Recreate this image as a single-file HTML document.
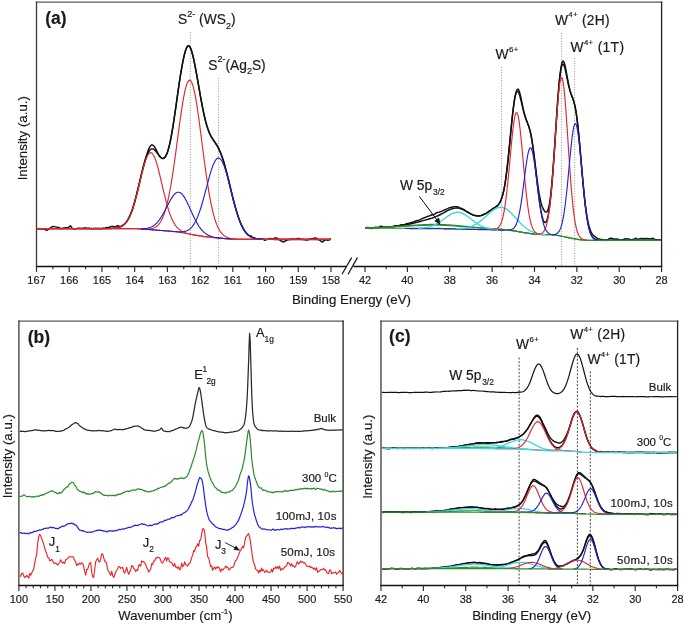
<!DOCTYPE html>
<html><head><meta charset="utf-8"><style>
html,body{margin:0;padding:0;background:#fff;}
svg{display:block;will-change:transform;}
text{font-family:"Liberation Sans",sans-serif;fill:#1a1a1a;stroke:#1a1a1a;stroke-width:0.18px;}
</style></head><body>
<svg width="685" height="624" viewBox="0 0 685 624">
<rect width="685" height="624" fill="#fff"/>
<line x1="190.3" y1="32" x2="190.3" y2="265.5" stroke="#777" stroke-width="0.8" stroke-dasharray="1 1.6"/>
<line x1="218.6" y1="78" x2="218.6" y2="265.5" stroke="#777" stroke-width="0.8" stroke-dasharray="1 1.6"/>
<path d="M36.5 228.68 L37.5 228.85 L38.5 228.56 L39.51 228.69 L40.51 228.86 L41.51 228.95 L42.51 229.03 L43.51 228.93 L44.51 229.42 L45.52 229.89 L46.52 230.24 L47.52 229.79 L48.52 229.25 L49.52 228.43 L50.52 227.84 L51.53 227.21 L52.53 226.62 L53.53 226.54 L54.53 226.63 L55.53 226.89 L56.53 227.12 L57.54 227.19 L58.54 227.56 L59.54 227.88 L60.54 228.49 L61.54 228.49 L62.54 228.44 L63.55 227.95 L64.55 228.03 L65.55 227.7 L66.55 227.81 L67.55 228.03 L68.55 227.45 L69.56 226.51 L70.56 225.87 L71.56 227.47 L72.56 228.42 L73.56 228.71 L74.56 228.99 L75.57 228.86 L76.57 228.64 L77.57 228.33 L78.57 228.18 L79.57 228.29 L80.57 228.25 L81.58 228.65 L82.58 228.3 L83.58 228.24 L84.58 227.85 L85.58 227.81 L86.59 228.38 L87.59 228.1 L88.59 228.45 L89.59 227.99 L90.59 228.76 L91.59 228.44 L92.6 228.74 L93.6 228.28 L94.6 228.63 L95.6 228.29 L96.6 228.55 L97.6 228.34 L98.61 228.43 L99.61 228.34 L100.61 228.85 L101.61 228.33 L102.61 228.45 L103.61 228.14 L104.62 228.34 L105.62 227.91 L106.62 227.42 L107.62 227.6 L108.62 227.37 L109.62 227.22 L110.63 226.72 L111.63 226.54 L112.63 226.5 L113.63 226.38 L114.63 226.86 L115.63 226.58 L116.64 226.11 L117.64 225.71 L118.64 225.99 L119.64 226.6 L120.64 226.33 L121.64 225.95 L122.65 225.42 L123.65 224.79 L124.65 223.91 L125.65 222.82 L126.65 221.6 L127.65 220.14 L128.66 218.37 L129.66 216.37 L130.66 214.08 L131.66 211.5 L132.66 208.42 L133.66 205.19 L134.67 201.69 L135.67 197.93 L136.67 193.88 L137.67 189.75 L138.67 185.61 L139.68 181.37 L140.68 177.07 L141.68 172.89 L142.68 168.89 L143.68 165.15 L144.68 161.5 L145.69 158.03 L146.69 154.74 L147.69 151.72 L148.69 149.07 L149.69 147.01 L150.69 145.61 L151.7 144.96 L152.7 145 L153.7 145.74 L154.7 147.11 L155.7 148.87 L156.7 150.81 L157.71 152.75 L158.71 154.54 L159.71 156.02 L160.71 157.27 L161.71 158.11 L162.71 158.48 L163.72 158.19 L164.72 157.44 L165.72 156.16 L166.72 154.19 L167.72 151.42 L168.72 147.89 L169.73 143.83 L170.73 139.04 L171.73 133.73 L172.73 127.78 L173.73 121.51 L174.73 114.75 L175.74 107.8 L176.74 100.6 L177.74 93.47 L178.74 86.49 L179.74 79.85 L180.74 73.5 L181.75 67.54 L182.75 62.12 L183.75 57.35 L184.75 53.24 L185.75 49.85 L186.76 47.33 L187.76 45.96 L188.76 45.73 L189.76 46.61 L190.76 48.6 L191.76 51.52 L192.77 55.27 L193.77 59.67 L194.77 64.56 L195.77 69.77 L196.77 75.21 L197.77 80.87 L198.78 86.65 L199.78 92.41 L200.78 98.07 L201.78 103.47 L202.78 108.66 L203.78 113.49 L204.79 118.03 L205.79 121.95 L206.79 125.5 L207.79 128.57 L208.79 131.4 L209.79 133.78 L210.8 135.89 L211.8 137.63 L212.8 139.19 L213.8 140.72 L214.8 142.17 L215.8 143.7 L216.81 145.25 L217.81 147 L218.81 148.99 L219.81 151.11 L220.81 153.62 L221.81 156.07 L222.82 158.9 L223.82 162.04 L224.82 165.62 L225.82 169.38 L226.82 173.18 L227.82 177.06 L228.83 181.14 L229.83 185.24 L230.83 189.48 L231.83 193.68 L232.83 197.77 L233.84 201.72 L234.84 205.42 L235.84 208.98 L236.84 212.36 L237.84 215.54 L238.84 218.55 L239.85 221.19 L240.85 223.74 L241.85 225.84 L242.85 227.9 L243.85 229.53 L244.85 231.19 L245.86 232.5 L246.86 233.72 L247.86 234.68 L248.86 235.49 L249.86 236.15 L250.86 235.86 L251.87 236.84 L252.87 237.34 L253.87 238.05 L254.87 238.01 L255.87 238.92 L256.87 238.82 L257.88 239.03 L258.88 238.54 L259.88 239.21 L260.88 238.76 L261.88 238.81 L262.88 238.93 L263.89 239.82 L264.89 240.35 L265.89 239.93 L266.89 239.57 L267.89 239.14 L268.89 239 L269.9 238.59 L270.9 238.7 L271.9 238.87 L272.9 238.81 L273.9 238.48 L274.9 237.86 L275.91 238.04 L276.91 238.07 L277.91 238.84 L278.91 239.42 L279.91 240.08 L280.91 240.82 L281.92 241.32 L282.92 242.02 L283.92 241.7 L284.92 241.4 L285.92 240.51 L286.93 240.08 L287.93 239.8 L288.93 239.33 L289.93 239.67 L290.93 239.21 L291.93 239.23 L292.94 238.87 L293.94 239.08 L294.94 239.2 L295.94 239.15 L296.94 238.81 L297.94 238.4 L298.95 238.5 L299.95 238.86 L300.95 239.08 L301.95 239.34 L302.95 239.45 L303.95 239.63 L304.96 239.8 L305.96 239.76 L306.96 239.95 L307.96 239.79 L308.96 239.38 L309.96 239.27 L310.97 238.57 L311.97 238.91 L312.97 238.43 L313.97 238.56 L314.97 237.88 L315.97 238.08 L316.98 238.55 L317.98 239.43 L318.98 239.57 L319.98 240.31 L320.98 241.21 L321.98 241.96 L322.99 241.75 L323.99 240.5 L324.99 239.94 L325.99 239.53 L326.99 240.02 L327.99 240.35 L329 239.78 L330 239 L331 238.77" fill="none" stroke="#111" stroke-width="1.45" stroke-linejoin="round" />
<path d="M36.5 228.6 L37.5 228.6 L38.5 228.6 L39.51 228.6 L40.51 228.6 L41.51 228.6 L42.51 228.6 L43.51 228.6 L44.51 228.6 L45.52 228.6 L46.52 228.6 L47.52 228.6 L48.52 228.6 L49.52 228.6 L50.52 228.6 L51.53 228.6 L52.53 228.6 L53.53 228.6 L54.53 228.6 L55.53 228.6 L56.53 228.6 L57.54 228.6 L58.54 228.6 L59.54 228.6 L60.54 228.6 L61.54 228.6 L62.54 228.6 L63.55 228.6 L64.55 228.6 L65.55 228.6 L66.55 228.6 L67.55 228.6 L68.55 228.6 L69.56 228.6 L70.56 228.6 L71.56 228.6 L72.56 228.6 L73.56 228.6 L74.56 228.6 L75.57 228.6 L76.57 228.6 L77.57 228.6 L78.57 228.6 L79.57 228.6 L80.57 228.6 L81.58 228.6 L82.58 228.6 L83.58 228.6 L84.58 228.6 L85.58 228.6 L86.59 228.6 L87.59 228.6 L88.59 228.6 L89.59 228.6 L90.59 228.6 L91.59 228.6 L92.6 228.6 L93.6 228.6 L94.6 228.6 L95.6 228.6 L96.6 228.6 L97.6 228.6 L98.61 228.6 L99.61 228.6 L100.61 228.6 L101.61 228.6 L102.61 228.59 L103.61 228.59 L104.62 228.59 L105.62 228.58 L106.62 228.57 L107.62 228.56 L108.62 228.55 L109.62 228.53 L110.63 228.5 L111.63 228.46 L112.63 228.4 L113.63 228.33 L114.63 228.24 L115.63 228.12 L116.64 227.96 L117.64 227.76 L118.64 227.5 L119.64 227.17 L120.64 226.76 L121.64 226.25 L122.65 225.63 L123.65 224.87 L124.65 223.96 L125.65 222.87 L126.65 221.58 L127.65 220.07 L128.66 218.33 L129.66 216.33 L130.66 214.07 L131.66 211.52 L132.66 208.7 L133.66 205.59 L134.67 202.22 L135.67 198.6 L136.67 194.77 L137.67 190.75 L138.67 186.59 L139.68 182.36 L140.68 178.11 L141.68 173.91 L142.68 169.84 L143.68 165.96 L144.68 162.34 L145.69 159.06 L146.69 156.17 L147.69 153.72 L148.69 151.75 L149.69 150.28 L150.69 149.32 L151.7 148.86 L152.7 148.86 L153.7 149.29 L154.7 150.09 L155.7 151.17 L156.7 152.44 L157.71 153.82 L158.71 155.19 L159.71 156.46 L160.71 157.5 L161.71 158.23 L162.71 158.55 L163.72 158.36 L164.72 157.61 L165.72 156.22 L166.72 154.17 L167.72 151.42 L168.72 147.98 L169.73 143.85 L170.73 139.08 L171.73 133.7 L172.73 127.79 L173.73 121.43 L174.73 114.72 L175.74 107.76 L176.74 100.68 L177.74 93.58 L178.74 86.6 L179.74 79.86 L180.74 73.47 L181.75 67.53 L182.75 62.12 L183.75 57.31 L184.75 53.18 L185.75 49.83 L186.76 47.38 L187.76 45.96 L188.76 45.69 L189.76 46.59 L190.76 48.6 L191.76 51.57 L192.77 55.31 L193.77 59.67 L194.77 64.5 L195.77 69.71 L196.77 75.2 L197.77 80.88 L198.78 86.66 L199.78 92.42 L200.78 98.08 L201.78 103.53 L202.78 108.7 L203.78 113.52 L204.79 117.95 L205.79 121.95 L206.79 125.52 L207.79 128.66 L208.79 131.4 L209.79 133.77 L210.8 135.83 L211.8 137.63 L212.8 139.25 L213.8 140.75 L214.8 142.2 L215.8 143.68 L216.81 145.25 L217.81 146.96 L218.81 148.87 L219.81 151 L220.81 153.4 L221.81 156.06 L222.82 159 L223.82 162.2 L224.82 165.65 L225.82 169.32 L226.82 173.17 L227.82 177.16 L228.83 181.26 L229.83 185.41 L230.83 189.57 L231.83 193.69 L232.83 197.74 L233.84 201.66 L234.84 205.43 L235.84 209.02 L236.84 212.41 L237.84 215.57 L238.84 218.5 L239.85 221.18 L240.85 223.63 L241.85 225.84 L242.85 227.81 L243.85 229.56 L244.85 231.1 L245.86 232.45 L246.86 233.61 L247.86 234.62 L248.86 235.47 L249.86 236.19 L250.86 236.8 L251.87 237.31 L252.87 237.73 L253.87 238.07 L254.87 238.35 L255.87 238.58 L256.87 238.76 L257.88 238.9 L258.88 239.02 L259.88 239.11 L260.88 239.18 L261.88 239.23 L262.88 239.28 L263.89 239.31 L264.89 239.33 L265.89 239.35 L266.89 239.36 L267.89 239.37 L268.89 239.38 L269.9 239.39 L270.9 239.39 L271.9 239.39 L272.9 239.4 L273.9 239.4 L274.9 239.4 L275.91 239.4 L276.91 239.4 L277.91 239.4 L278.91 239.4 L279.91 239.4 L280.91 239.4 L281.92 239.4 L282.92 239.4 L283.92 239.4 L284.92 239.4 L285.92 239.4 L286.93 239.4 L287.93 239.4 L288.93 239.4 L289.93 239.4 L290.93 239.4 L291.93 239.4 L292.94 239.4 L293.94 239.4 L294.94 239.4 L295.94 239.4 L296.94 239.4 L297.94 239.4 L298.95 239.4 L299.95 239.4 L300.95 239.4 L301.95 239.4 L302.95 239.4 L303.95 239.4 L304.96 239.4 L305.96 239.4 L306.96 239.4 L307.96 239.4 L308.96 239.4 L309.96 239.4 L310.97 239.4 L311.97 239.4 L312.97 239.4 L313.97 239.4 L314.97 239.4 L315.97 239.4 L316.98 239.4 L317.98 239.4 L318.98 239.4 L319.98 239.4 L320.98 239.4 L321.98 239.4 L322.99 239.4 L323.99 239.4 L324.99 239.4 L325.99 239.4 L326.99 239.4 L327.99 239.4 L329 239.4 L330 239.4 L331 239.4" fill="none" stroke="#111" stroke-width="1.45" stroke-linejoin="round" />
<path d="M36.5 228.6 L37.5 228.6 L38.5 228.6 L39.51 228.6 L40.51 228.6 L41.51 228.6 L42.51 228.6 L43.51 228.6 L44.51 228.6 L45.52 228.6 L46.52 228.6 L47.52 228.6 L48.52 228.6 L49.52 228.6 L50.52 228.6 L51.53 228.6 L52.53 228.6 L53.53 228.6 L54.53 228.6 L55.53 228.6 L56.53 228.6 L57.54 228.6 L58.54 228.6 L59.54 228.6 L60.54 228.6 L61.54 228.6 L62.54 228.6 L63.55 228.6 L64.55 228.6 L65.55 228.6 L66.55 228.6 L67.55 228.6 L68.55 228.6 L69.56 228.6 L70.56 228.6 L71.56 228.6 L72.56 228.6 L73.56 228.6 L74.56 228.6 L75.57 228.6 L76.57 228.6 L77.57 228.6 L78.57 228.6 L79.57 228.6 L80.57 228.6 L81.58 228.6 L82.58 228.6 L83.58 228.6 L84.58 228.6 L85.58 228.6 L86.59 228.6 L87.59 228.6 L88.59 228.6 L89.59 228.6 L90.59 228.6 L91.59 228.6 L92.6 228.6 L93.6 228.6 L94.6 228.6 L95.6 228.6 L96.6 228.6 L97.6 228.6 L98.61 228.6 L99.61 228.6 L100.61 228.6 L101.61 228.6 L102.61 228.6 L103.61 228.6 L104.62 228.6 L105.62 228.6 L106.62 228.6 L107.62 228.6 L108.62 228.6 L109.62 228.6 L110.63 228.6 L111.63 228.6 L112.63 228.6 L113.63 228.6 L114.63 228.6 L115.63 228.6 L116.64 228.6 L117.64 228.6 L118.64 228.6 L119.64 228.6 L120.64 228.61 L121.64 228.61 L122.65 228.61 L123.65 228.61 L124.65 228.62 L125.65 228.62 L126.65 228.63 L127.65 228.64 L128.66 228.64 L129.66 228.65 L130.66 228.67 L131.66 228.68 L132.66 228.7 L133.66 228.72 L134.67 228.74 L135.67 228.77 L136.67 228.8 L137.67 228.84 L138.67 228.88 L139.68 228.92 L140.68 228.97 L141.68 229.02 L142.68 229.08 L143.68 229.14 L144.68 229.2 L145.69 229.27 L146.69 229.35 L147.69 229.42 L148.69 229.5 L149.69 229.58 L150.69 229.66 L151.7 229.74 L152.7 229.83 L153.7 229.91 L154.7 229.99 L155.7 230.08 L156.7 230.16 L157.71 230.24 L158.71 230.32 L159.71 230.39 L160.71 230.47 L161.71 230.54 L162.71 230.62 L163.72 230.69 L164.72 230.77 L165.72 230.84 L166.72 230.92 L167.72 231 L168.72 231.08 L169.73 231.17 L170.73 231.26 L171.73 231.35 L172.73 231.45 L173.73 231.56 L174.73 231.67 L175.74 231.79 L176.74 231.92 L177.74 232.06 L178.74 232.2 L179.74 232.35 L180.74 232.51 L181.75 232.67 L182.75 232.84 L183.75 233.02 L184.75 233.2 L185.75 233.38 L186.76 233.57 L187.76 233.76 L188.76 233.95 L189.76 234.14 L190.76 234.33 L191.76 234.52 L192.77 234.71 L193.77 234.89 L194.77 235.07 L195.77 235.25 L196.77 235.42 L197.77 235.59 L198.78 235.74 L199.78 235.9 L200.78 236.05 L201.78 236.19 L202.78 236.33 L203.78 236.46 L204.79 236.58 L205.79 236.71 L206.79 236.82 L207.79 236.94 L208.79 237.05 L209.79 237.16 L210.8 237.27 L211.8 237.37 L212.8 237.47 L213.8 237.57 L214.8 237.67 L215.8 237.77 L216.81 237.87 L217.81 237.96 L218.81 238.06 L219.81 238.15 L220.81 238.24 L221.81 238.33 L222.82 238.41 L223.82 238.49 L224.82 238.57 L225.82 238.65 L226.82 238.72 L227.82 238.79 L228.83 238.85 L229.83 238.91 L230.83 238.96 L231.83 239.02 L232.83 239.06 L233.84 239.11 L234.84 239.14 L235.84 239.18 L236.84 239.21 L237.84 239.24 L238.84 239.26 L239.85 239.28 L240.85 239.3 L241.85 239.32 L242.85 239.33 L243.85 239.34 L244.85 239.35 L245.86 239.36 L246.86 239.37 L247.86 239.38 L248.86 239.38 L249.86 239.38 L250.86 239.39 L251.87 239.39 L252.87 239.39 L253.87 239.39 L254.87 239.4 L255.87 239.4 L256.87 239.4 L257.88 239.4 L258.88 239.4 L259.88 239.4 L260.88 239.4 L261.88 239.4 L262.88 239.4 L263.89 239.4 L264.89 239.4 L265.89 239.4 L266.89 239.4 L267.89 239.4 L268.89 239.4 L269.9 239.4 L270.9 239.4 L271.9 239.4 L272.9 239.4 L273.9 239.4 L274.9 239.4 L275.91 239.4 L276.91 239.4 L277.91 239.4 L278.91 239.4 L279.91 239.4 L280.91 239.4 L281.92 239.4 L282.92 239.4 L283.92 239.4 L284.92 239.4 L285.92 239.4 L286.93 239.4 L287.93 239.4 L288.93 239.4 L289.93 239.4 L290.93 239.4 L291.93 239.4 L292.94 239.4 L293.94 239.4 L294.94 239.4 L295.94 239.4 L296.94 239.4 L297.94 239.4 L298.95 239.4 L299.95 239.4 L300.95 239.4 L301.95 239.4 L302.95 239.4 L303.95 239.4 L304.96 239.4 L305.96 239.4 L306.96 239.4 L307.96 239.4 L308.96 239.4 L309.96 239.4 L310.97 239.4 L311.97 239.4 L312.97 239.4 L313.97 239.4 L314.97 239.4 L315.97 239.4 L316.98 239.4 L317.98 239.4 L318.98 239.4 L319.98 239.4 L320.98 239.4 L321.98 239.4 L322.99 239.4 L323.99 239.4 L324.99 239.4 L325.99 239.4 L326.99 239.4 L327.99 239.4 L329 239.4 L330 239.4 L331 239.4" fill="none" stroke="#e3262e" stroke-width="1.15" stroke-linejoin="round" />
<path d="M36.5 228.6 L37.5 228.6 L38.5 228.6 L39.51 228.6 L40.51 228.6 L41.51 228.6 L42.51 228.6 L43.51 228.6 L44.51 228.6 L45.52 228.6 L46.52 228.6 L47.52 228.6 L48.52 228.6 L49.52 228.6 L50.52 228.6 L51.53 228.6 L52.53 228.6 L53.53 228.6 L54.53 228.6 L55.53 228.6 L56.53 228.6 L57.54 228.6 L58.54 228.6 L59.54 228.6 L60.54 228.6 L61.54 228.6 L62.54 228.6 L63.55 228.6 L64.55 228.6 L65.55 228.6 L66.55 228.6 L67.55 228.6 L68.55 228.6 L69.56 228.6 L70.56 228.6 L71.56 228.6 L72.56 228.6 L73.56 228.6 L74.56 228.6 L75.57 228.6 L76.57 228.6 L77.57 228.6 L78.57 228.6 L79.57 228.6 L80.57 228.6 L81.58 228.6 L82.58 228.6 L83.58 228.6 L84.58 228.6 L85.58 228.6 L86.59 228.6 L87.59 228.6 L88.59 228.6 L89.59 228.6 L90.59 228.6 L91.59 228.6 L92.6 228.6 L93.6 228.6 L94.6 228.6 L95.6 228.6 L96.6 228.6 L97.6 228.6 L98.61 228.6 L99.61 228.6 L100.61 228.6 L101.61 228.6 L102.61 228.59 L103.61 228.59 L104.62 228.59 L105.62 228.58 L106.62 228.57 L107.62 228.56 L108.62 228.55 L109.62 228.53 L110.63 228.5 L111.63 228.46 L112.63 228.4 L113.63 228.33 L114.63 228.24 L115.63 228.12 L116.64 227.96 L117.64 227.76 L118.64 227.5 L119.64 227.17 L120.64 226.76 L121.64 226.25 L122.65 225.63 L123.65 224.87 L124.65 223.96 L125.65 222.87 L126.65 221.58 L127.65 220.08 L128.66 218.34 L129.66 216.34 L130.66 214.08 L131.66 211.54 L132.66 208.72 L133.66 205.63 L134.67 202.27 L135.67 198.67 L136.67 194.85 L137.67 190.86 L138.67 186.75 L139.68 182.57 L140.68 178.39 L141.68 174.28 L142.68 170.32 L143.68 166.59 L144.68 163.16 L145.69 160.11 L146.69 157.51 L147.69 155.42 L148.69 153.89 L149.69 152.97 L150.69 152.66 L151.7 153 L152.7 153.96 L153.7 155.52 L154.7 157.65 L155.7 160.3 L156.7 163.42 L157.71 166.92 L158.71 170.73 L159.71 174.79 L160.71 179 L161.71 183.3 L162.71 187.6 L163.72 191.85 L164.72 195.98 L165.72 199.94 L166.72 203.69 L167.72 207.21 L168.72 210.47 L169.73 213.45 L170.73 216.15 L171.73 218.58 L172.73 220.74 L173.73 222.65 L174.73 224.33 L175.74 225.78 L176.74 227.05 L177.74 228.13 L178.74 229.07 L179.74 229.87 L180.74 230.56 L181.75 231.15 L182.75 231.67 L183.75 232.12 L184.75 232.52 L185.75 232.87 L186.76 233.19 L187.76 233.48 L188.76 233.74 L189.76 233.99 L190.76 234.22 L191.76 234.44 L192.77 234.65 L193.77 234.85 L194.77 235.05 L195.77 235.23 L196.77 235.41 L197.77 235.58 L198.78 235.74 L199.78 235.89 L200.78 236.04 L201.78 236.19 L202.78 236.32 L203.78 236.46 L204.79 236.58 L205.79 236.71 L206.79 236.82 L207.79 236.94 L208.79 237.05 L209.79 237.16 L210.8 237.27 L211.8 237.37 L212.8 237.47 L213.8 237.57 L214.8 237.67 L215.8 237.77 L216.81 237.87 L217.81 237.96 L218.81 238.06 L219.81 238.15 L220.81 238.24 L221.81 238.33 L222.82 238.41 L223.82 238.49 L224.82 238.57 L225.82 238.65 L226.82 238.72 L227.82 238.79 L228.83 238.85 L229.83 238.91 L230.83 238.96 L231.83 239.02 L232.83 239.06 L233.84 239.11 L234.84 239.14 L235.84 239.18 L236.84 239.21 L237.84 239.24 L238.84 239.26 L239.85 239.28 L240.85 239.3 L241.85 239.32 L242.85 239.33 L243.85 239.34 L244.85 239.35 L245.86 239.36 L246.86 239.37 L247.86 239.38 L248.86 239.38 L249.86 239.38 L250.86 239.39 L251.87 239.39 L252.87 239.39 L253.87 239.39 L254.87 239.4 L255.87 239.4 L256.87 239.4 L257.88 239.4 L258.88 239.4 L259.88 239.4 L260.88 239.4 L261.88 239.4 L262.88 239.4 L263.89 239.4 L264.89 239.4 L265.89 239.4 L266.89 239.4 L267.89 239.4 L268.89 239.4 L269.9 239.4 L270.9 239.4 L271.9 239.4 L272.9 239.4 L273.9 239.4 L274.9 239.4 L275.91 239.4 L276.91 239.4 L277.91 239.4 L278.91 239.4 L279.91 239.4 L280.91 239.4 L281.92 239.4 L282.92 239.4 L283.92 239.4 L284.92 239.4 L285.92 239.4 L286.93 239.4 L287.93 239.4 L288.93 239.4 L289.93 239.4 L290.93 239.4 L291.93 239.4 L292.94 239.4 L293.94 239.4 L294.94 239.4 L295.94 239.4 L296.94 239.4 L297.94 239.4 L298.95 239.4 L299.95 239.4 L300.95 239.4 L301.95 239.4 L302.95 239.4 L303.95 239.4 L304.96 239.4 L305.96 239.4 L306.96 239.4 L307.96 239.4 L308.96 239.4 L309.96 239.4 L310.97 239.4 L311.97 239.4 L312.97 239.4 L313.97 239.4 L314.97 239.4 L315.97 239.4 L316.98 239.4 L317.98 239.4 L318.98 239.4 L319.98 239.4 L320.98 239.4 L321.98 239.4 L322.99 239.4 L323.99 239.4 L324.99 239.4 L325.99 239.4 L326.99 239.4 L327.99 239.4 L329 239.4 L330 239.4 L331 239.4" fill="none" stroke="#e3262e" stroke-width="1.15" stroke-linejoin="round" />
<path d="M36.5 228.6 L37.5 228.6 L38.5 228.6 L39.51 228.6 L40.51 228.6 L41.51 228.6 L42.51 228.6 L43.51 228.6 L44.51 228.6 L45.52 228.6 L46.52 228.6 L47.52 228.6 L48.52 228.6 L49.52 228.6 L50.52 228.6 L51.53 228.6 L52.53 228.6 L53.53 228.6 L54.53 228.6 L55.53 228.6 L56.53 228.6 L57.54 228.6 L58.54 228.6 L59.54 228.6 L60.54 228.6 L61.54 228.6 L62.54 228.6 L63.55 228.6 L64.55 228.6 L65.55 228.6 L66.55 228.6 L67.55 228.6 L68.55 228.6 L69.56 228.6 L70.56 228.6 L71.56 228.6 L72.56 228.6 L73.56 228.6 L74.56 228.6 L75.57 228.6 L76.57 228.6 L77.57 228.6 L78.57 228.6 L79.57 228.6 L80.57 228.6 L81.58 228.6 L82.58 228.6 L83.58 228.6 L84.58 228.6 L85.58 228.6 L86.59 228.6 L87.59 228.6 L88.59 228.6 L89.59 228.6 L90.59 228.6 L91.59 228.6 L92.6 228.6 L93.6 228.6 L94.6 228.6 L95.6 228.6 L96.6 228.6 L97.6 228.6 L98.61 228.6 L99.61 228.6 L100.61 228.6 L101.61 228.6 L102.61 228.6 L103.61 228.6 L104.62 228.6 L105.62 228.6 L106.62 228.6 L107.62 228.6 L108.62 228.6 L109.62 228.6 L110.63 228.6 L111.63 228.6 L112.63 228.6 L113.63 228.6 L114.63 228.6 L115.63 228.6 L116.64 228.6 L117.64 228.6 L118.64 228.6 L119.64 228.6 L120.64 228.61 L121.64 228.61 L122.65 228.61 L123.65 228.61 L124.65 228.62 L125.65 228.62 L126.65 228.63 L127.65 228.63 L128.66 228.64 L129.66 228.65 L130.66 228.67 L131.66 228.68 L132.66 228.7 L133.66 228.72 L134.67 228.74 L135.67 228.76 L136.67 228.79 L137.67 228.82 L138.67 228.85 L139.68 228.89 L140.68 228.92 L141.68 228.96 L142.68 228.99 L143.68 229.02 L144.68 229.04 L145.69 229.05 L146.69 229.05 L147.69 229.03 L148.69 228.98 L149.69 228.89 L150.69 228.77 L151.7 228.58 L152.7 228.33 L153.7 227.99 L154.7 227.56 L155.7 227 L156.7 226.3 L157.71 225.43 L158.71 224.37 L159.71 223.08 L160.71 221.55 L161.71 219.72 L162.71 217.59 L163.72 215.1 L164.72 212.24 L165.72 208.97 L166.72 205.28 L167.72 201.15 L168.72 196.55 L169.73 191.5 L170.73 185.99 L171.73 180.05 L172.73 173.69 L173.73 166.97 L174.73 159.94 L175.74 152.66 L176.74 145.2 L177.74 137.67 L178.74 130.16 L179.74 122.79 L180.74 115.65 L181.75 108.87 L182.75 102.58 L183.75 96.87 L184.75 91.86 L185.75 87.64 L186.76 84.3 L187.76 81.91 L188.76 80.51 L189.76 80.14 L190.76 80.81 L191.76 82.51 L192.77 85.2 L193.77 88.84 L194.77 93.35 L195.77 98.66 L196.77 104.66 L197.77 111.26 L198.78 118.32 L199.78 125.74 L200.78 133.41 L201.78 141.2 L202.78 149 L203.78 156.72 L204.79 164.27 L205.79 171.56 L206.79 178.54 L207.79 185.13 L208.79 191.32 L209.79 197.06 L210.8 202.34 L211.8 207.16 L212.8 211.52 L213.8 215.42 L214.8 218.9 L215.8 221.96 L216.81 224.65 L217.81 226.98 L218.81 229 L219.81 230.72 L220.81 232.19 L221.81 233.44 L222.82 234.49 L223.82 235.36 L224.82 236.09 L225.82 236.7 L226.82 237.19 L227.82 237.6 L228.83 237.94 L229.83 238.21 L230.83 238.43 L231.83 238.61 L232.83 238.76 L233.84 238.88 L234.84 238.98 L235.84 239.06 L236.84 239.12 L237.84 239.17 L238.84 239.21 L239.85 239.25 L240.85 239.28 L241.85 239.3 L242.85 239.32 L243.85 239.34 L244.85 239.35 L245.86 239.36 L246.86 239.37 L247.86 239.37 L248.86 239.38 L249.86 239.38 L250.86 239.39 L251.87 239.39 L252.87 239.39 L253.87 239.39 L254.87 239.4 L255.87 239.4 L256.87 239.4 L257.88 239.4 L258.88 239.4 L259.88 239.4 L260.88 239.4 L261.88 239.4 L262.88 239.4 L263.89 239.4 L264.89 239.4 L265.89 239.4 L266.89 239.4 L267.89 239.4 L268.89 239.4 L269.9 239.4 L270.9 239.4 L271.9 239.4 L272.9 239.4 L273.9 239.4 L274.9 239.4 L275.91 239.4 L276.91 239.4 L277.91 239.4 L278.91 239.4 L279.91 239.4 L280.91 239.4 L281.92 239.4 L282.92 239.4 L283.92 239.4 L284.92 239.4 L285.92 239.4 L286.93 239.4 L287.93 239.4 L288.93 239.4 L289.93 239.4 L290.93 239.4 L291.93 239.4 L292.94 239.4 L293.94 239.4 L294.94 239.4 L295.94 239.4 L296.94 239.4 L297.94 239.4 L298.95 239.4 L299.95 239.4 L300.95 239.4 L301.95 239.4 L302.95 239.4 L303.95 239.4 L304.96 239.4 L305.96 239.4 L306.96 239.4 L307.96 239.4 L308.96 239.4 L309.96 239.4 L310.97 239.4 L311.97 239.4 L312.97 239.4 L313.97 239.4 L314.97 239.4 L315.97 239.4 L316.98 239.4 L317.98 239.4 L318.98 239.4 L319.98 239.4 L320.98 239.4 L321.98 239.4 L322.99 239.4 L323.99 239.4 L324.99 239.4 L325.99 239.4 L326.99 239.4 L327.99 239.4 L329 239.4 L330 239.4 L331 239.4" fill="none" stroke="#e3262e" stroke-width="1.15" stroke-linejoin="round" />
<path d="M140.68 228.73 L141.68 228.72 L142.68 228.68 L143.68 228.63 L144.68 228.55 L145.69 228.45 L146.69 228.3 L147.69 228.12 L148.69 227.88 L149.69 227.58 L150.69 227.21 L151.7 226.77 L152.7 226.23 L153.7 225.6 L154.7 224.86 L155.7 224.01 L156.7 223.04 L157.71 221.95 L158.71 220.72 L159.71 219.37 L160.71 217.89 L161.71 216.3 L162.71 214.6 L163.72 212.8 L164.72 210.93 L165.72 209 L166.72 207.04 L167.72 205.08 L168.72 203.15 L169.73 201.27 L170.73 199.49 L171.73 197.83 L172.73 196.34 L173.73 195.03 L174.73 193.94 L175.74 193.1 L176.74 192.52 L177.74 192.22 L178.74 192.2 L179.74 192.48 L180.74 193.04 L181.75 193.88 L182.75 194.99 L183.75 196.34 L184.75 197.91 L185.75 199.67 L186.76 201.59 L187.76 203.64 L188.76 205.78 L189.76 207.99 L190.76 210.22 L191.76 212.45 L192.77 214.64 L193.77 216.78 L194.77 218.84 L195.77 220.8 L196.77 222.66 L197.77 224.39 L198.78 225.99 L199.78 227.46 L200.78 228.8 L201.78 230.01 L202.78 231.09 L203.78 232.06 L204.79 232.91 L205.79 233.66 L206.79 234.32 L207.79 234.89 L208.79 235.39 L209.79 235.82 L210.8 236.19 L211.8 236.52 L212.8 236.8 L213.8 237.05 L214.8 237.27 L215.8 237.46 L216.81 237.63 L217.81 237.78 L218.81 237.92 L219.81 238.05 L220.81 238.16 L221.81 238.27 L222.82 238.37 L223.82 238.46 L224.82 238.55 L225.82 238.63 L226.82 238.71 L227.82 238.78 L228.83 238.84 L229.83 238.91 L230.83 238.96 L231.83 239.01" fill="none" stroke="#2424cc" stroke-width="1.15" stroke-linejoin="round" />
<path d="M140.68 228.97 L141.68 229.02 L142.68 229.08 L143.68 229.14 L144.68 229.2 L145.69 229.27 L146.69 229.35 L147.69 229.42 L148.69 229.5 L149.69 229.58 L150.69 229.66 L151.7 229.74 L152.7 229.83 L153.7 229.91 L154.7 229.99 L155.7 230.08 L156.7 230.16 L157.71 230.24 L158.71 230.32 L159.71 230.39 L160.71 230.47 L161.71 230.54 L162.71 230.62 L163.72 230.69 L164.72 230.76 L165.72 230.84 L166.72 230.91 L167.72 230.98 L168.72 231.06 L169.73 231.14 L170.73 231.22 L171.73 231.29 L172.73 231.38 L173.73 231.45 L174.73 231.53 L175.74 231.61 L176.74 231.67 L177.74 231.73 L178.74 231.77 L179.74 231.8 L180.74 231.8 L181.75 231.76 L182.75 231.69 L183.75 231.56 L184.75 231.37 L185.75 231.1 L186.76 230.74 L187.76 230.28 L188.76 229.7 L189.76 228.99 L190.76 228.12 L191.76 227.08 L192.77 225.85 L193.77 224.42 L194.77 222.77 L195.77 220.9 L196.77 218.79 L197.77 216.44 L198.78 213.85 L199.78 211.02 L200.78 207.97 L201.78 204.71 L202.78 201.26 L203.78 197.66 L204.79 193.94 L205.79 190.14 L206.79 186.32 L207.79 182.51 L208.79 178.79 L209.79 175.21 L210.8 171.82 L211.8 168.69 L212.8 165.87 L213.8 163.42 L214.8 161.39 L215.8 159.81 L216.81 158.71 L217.81 158.13 L218.81 158.07 L219.81 158.54 L220.81 159.52 L221.81 161.01 L222.82 162.97 L223.82 165.36 L224.82 168.15 L225.82 171.28 L226.82 174.71 L227.82 178.36 L228.83 182.18 L229.83 186.12 L230.83 190.11 L231.83 194.1 L232.83 198.04 L233.84 201.89 L234.84 205.6 L235.84 209.14 L236.84 212.5 L237.84 215.63 L238.84 218.54 L239.85 221.22 L240.85 223.65 L241.85 225.85 L242.85 227.82 L243.85 229.57 L244.85 231.11 L245.86 232.45 L246.86 233.62 L247.86 234.62 L248.86 235.47 L249.86 236.19 L250.86 236.8 L251.87 237.31 L252.87 237.73 L253.87 238.07 L254.87 238.35 L255.87 238.58 L256.87 238.76 L257.88 238.9 L258.88 239.02 L259.88 239.11 L260.88 239.18 L261.88 239.23" fill="none" stroke="#2424cc" stroke-width="1.15" stroke-linejoin="round" />
<line x1="501.6" y1="67" x2="501.6" y2="265.5" stroke="#777" stroke-width="0.8" stroke-dasharray="1 1.6"/>
<line x1="561.6" y1="33" x2="561.6" y2="265.5" stroke="#777" stroke-width="0.8" stroke-dasharray="1 1.6"/>
<line x1="574.6" y1="58" x2="574.6" y2="265.5" stroke="#777" stroke-width="0.8" stroke-dasharray="1 1.6"/>
<path d="M365 227.9 L366 227.86 L367 227.42 L368 227.4 L369 227.78 L370 228.14 L371 228.48 L372 228.2 L373 228.15 L374 227.87 L375 227.28 L376 227.38 L377 227.43 L378 228.01 L379 227.23 L380 226.53 L381 226.08 L382 226.38 L383 226.92 L384 227.1 L385 227.32 L386 226.98 L387 227.01 L388 226.9 L389 226.81 L390 227.13 L391 227.09 L392 227.53 L393 226.75 L394 226.26 L395 225.69 L396 225.71 L397 225.96 L398 225.98 L399 225.72 L400 225.09 L401 224.68 L402 224.97 L403 224.8 L404 224.8 L405 224.33 L406 223.88 L407 223.56 L408 223.53 L409 223.09 L410 222.89 L411 222.45 L412 222.22 L413 221.96 L414 221.61 L415 221.2 L416 220.87 L417 220.56 L418 220.4 L419 220.08 L420 219.68 L421 219.23 L422 218.62 L423 218.27 L424 217.84 L425 217.54 L426 217.02 L427 216.62 L428 216.25 L429 216.12 L430 215.66 L431 215.22 L432 214.76 L433 214.69 L434 214.48 L435 213.91 L436 213.17 L437 212.74 L438 212.42 L439 212.11 L440 211.72 L441 211.43 L442 211.08 L443 210.56 L444 210.04 L445 209.71 L446 209.3 L447 208.89 L448 208.4 L449 207.84 L450 207.58 L451 207.34 L452 207.29 L453 206.85 L454 206.61 L455 206.6 L456 206.66 L457 206.82 L458 207.02 L459 207.33 L460 207.83 L461 208.19 L462 208.75 L463 209.16 L464 209.73 L465 210.34 L466 211.03 L467 211.54 L468 212.12 L469 212.73 L470 213.37 L471 213.88 L472 214.38 L473 214.94 L474 215.36 L475 215.46 L476 215.54 L477 215.7 L478 215.84 L479 215.92 L480 215.71 L481 215.63 L482 215.09 L483 214.73 L484 214.23 L485 213.92 L486 213.5 L487 212.87 L488 212.15 L489 211.43 L490 210.79 L491 210.09 L492 209.44 L493 208.78 L494 208.14 L495 207.51 L496 206.79 L497 206.16 L498 205.16 L499 203.86 L500 202.08 L501 199.99 L502 197.39 L503 193.87 L504 189.42 L505 183.93 L506 177 L507 168.99 L508 159.91 L509 150.4 L510 140.22 L511 129.77 L512 119.78 L513 110.62 L514 102.73 L515 96.62 L516 92.18 L517 89.68 L518 88.98 L519 90.41 L520 93.65 L521 97.85 L522 102.82 L523 107.83 L524 112.34 L525 116.02 L526 119.01 L527 121.78 L528 124.47 L529 127.11 L530 130.56 L531 134.89 L532 140.65 L533 147.38 L534 154.67 L535 162.78 L536 170.82 L537 179.14 L538 186.3 L539 192.88 L540 198.27 L541 202.64 L542 205.93 L543 208.4 L544 210.32 L545 211.58 L546 212.18 L547 211.77 L548 209.84 L549 206.25 L550 200.29 L551 192.4 L552 181.95 L553 169.88 L554 156.08 L555 141.26 L556 126.03 L557 110.88 L558 96.82 L559 84.62 L560 74.69 L561 67.32 L562 62.5 L563 60.89 L564 61.96 L565 65.47 L566 70.21 L567 75.85 L568 81.25 L569 86.33 L570 90.47 L571 93.66 L572 96.41 L573 99.04 L574 102.28 L575 106.13 L576 111.67 L577 118.71 L578 127.39 L579 137.22 L580 148.19 L581 159.87 L582 171.31 L583 182.55 L584 192.91 L585 202.37 L586 210.19 L587 216.59 L588 221.84 L589 226 L590 229.26 L591 231.74 L592 233.61 L593 234.89 L594 235.92 L595 236.71 L596 237.41 L597 238.15 L598 238.89 L599 238.9 L600 239.2 L601 239.49 L602 239.92 L603 239.69 L604 239.97 L605 240.02 L606 240.5 L607 240.01 L608 239.83 L609 238.82 L610 238.7 L611 237.88 L612 238.73 L613 238.69 L614 239.25 L615 238.89 L616 239.23 L617 239.07 L618 239.19 L619 239.71 L620 239.9 L621 239.98 L622 239.75 L623 239.68 L624 239.17 L625 238.72 L626 239.09 L627 238.97 L628 238.96 L629 238.94 L630 239.65 L631 239.82 L632 239.76 L633 239.58 L634 239.24 L635 238.56 L636 238.32 L637 238.93 L638 239.22 L639 239.14 L640 238.65 L641 238.37 L642 238.6 L643 238.48 L644 239.03 L645 238.38 L646 238.82 L647 238.53 L648 238.65 L649 238.76 L650 238.87 L651 238.79 L652 238.32 L653 238.49 L654 239 L655 239.48 L656 239.61 L657 239.93 L658 239.8 L659 239.97 L660 239.97 L661 240.01" fill="none" stroke="#111" stroke-width="1.45" stroke-linejoin="round" />
<path d="M365 227.89 L366 227.87 L367 227.84 L368 227.82 L369 227.79 L370 227.76 L371 227.73 L372 227.7 L373 227.67 L374 227.64 L375 227.6 L376 227.56 L377 227.52 L378 227.48 L379 227.44 L380 227.39 L381 227.35 L382 227.3 L383 227.24 L384 227.19 L385 227.13 L386 227.07 L387 227 L388 226.94 L389 226.87 L390 226.79 L391 226.71 L392 226.63 L393 226.54 L394 226.44 L395 226.34 L396 226.24 L397 226.13 L398 226.01 L399 225.88 L400 225.74 L401 225.6 L402 225.45 L403 225.29 L404 225.12 L405 224.95 L406 224.76 L407 224.56 L408 224.36 L409 224.15 L410 223.93 L411 223.7 L412 223.47 L413 223.23 L414 222.98 L415 222.73 L416 222.48 L417 222.22 L418 221.96 L419 221.7 L420 221.44 L421 221.18 L422 220.91 L423 220.65 L424 220.38 L425 220.12 L426 219.85 L427 219.58 L428 219.3 L429 219.01 L430 218.71 L431 218.4 L432 218.08 L433 217.74 L434 217.38 L435 217 L436 216.6 L437 216.17 L438 215.72 L439 215.25 L440 214.75 L441 214.24 L442 213.71 L443 213.16 L444 212.61 L445 212.06 L446 211.51 L447 210.98 L448 210.46 L449 209.98 L450 209.53 L451 209.12 L452 208.78 L453 208.49 L454 208.27 L455 208.12 L456 208.05 L457 208.06 L458 208.15 L459 208.31 L460 208.56 L461 208.87 L462 209.26 L463 209.7 L464 210.19 L465 210.72 L466 211.28 L467 211.85 L468 212.43 L469 213 L470 213.55 L471 214.07 L472 214.54 L473 214.96 L474 215.31 L475 215.59 L476 215.79 L477 215.91 L478 215.95 L479 215.89 L480 215.75 L481 215.52 L482 215.21 L483 214.82 L484 214.37 L485 213.85 L486 213.29 L487 212.68 L488 212.04 L489 211.38 L490 210.71 L491 210.05 L492 209.38 L493 208.73 L494 208.07 L495 207.4 L496 206.68 L497 205.87 L498 204.91 L499 203.7 L500 202.13 L501 200.06 L502 197.35 L503 193.82 L504 189.33 L505 183.76 L506 177.03 L507 169.15 L508 160.21 L509 150.44 L510 140.15 L511 129.77 L512 119.78 L513 110.69 L514 102.99 L515 97.06 L516 93.15 L517 91.35 L518 91.53 L519 93.43 L520 96.63 L521 100.63 L522 104.96 L523 109.19 L524 113.02 L525 116.33 L526 119.15 L527 121.67 L528 124.19 L529 127.07 L530 130.63 L531 135.14 L532 140.74 L533 147.44 L534 155.13 L535 163.54 L536 172.37 L537 181.26 L538 189.85 L539 197.82 L540 204.93 L541 210.98 L542 215.85 L543 219.44 L544 221.72 L545 222.62 L546 222.07 L547 220 L548 216.29 L549 210.84 L550 203.53 L551 194.33 L552 183.28 L553 170.53 L554 156.4 L555 141.36 L556 125.99 L557 111.02 L558 97.18 L559 85.17 L560 75.58 L561 68.8 L562 64.97 L563 63.94 L564 65.34 L565 68.61 L566 73.04 L567 77.97 L568 82.79 L569 87.1 L570 90.7 L571 93.67 L572 96.27 L573 98.91 L574 102.08 L575 106.24 L576 111.74 L577 118.77 L578 127.35 L579 137.28 L580 148.23 L581 159.77 L582 171.43 L583 182.73 L584 193.3 L585 202.83 L586 211.14 L587 218.15 L588 223.87 L589 228.41 L590 231.91 L591 234.52 L592 236.41 L593 237.75 L594 238.67 L595 239.28 L596 239.68 L597 239.93 L598 240.09 L599 240.18 L600 240.23 L601 240.26 L602 240.28 L603 240.29 L604 240.3 L605 240.3 L606 240.3 L607 240.3 L608 240.3 L609 240.3 L610 240.3 L611 240.3 L612 240.3 L613 240.3 L614 240.3 L615 240.3 L616 240.3 L617 240.3 L618 240.3 L619 240.3 L620 240.3 L621 240.3 L622 240.3 L623 240.3 L624 240.3 L625 240.3 L626 240.3 L627 240.3 L628 240.3 L629 240.3 L630 240.3 L631 240.3 L632 240.3 L633 240.3 L634 240.3 L635 240.3 L636 240.3 L637 240.3 L638 240.3 L639 240.3 L640 240.3 L641 240.3 L642 240.3 L643 240.3 L644 240.3 L645 240.3 L646 240.3 L647 240.3 L648 240.3 L649 240.3 L650 240.3 L651 240.3 L652 240.3 L653 240.3 L654 240.3 L655 240.3 L656 240.3 L657 240.3 L658 240.3 L659 240.3 L660 240.3 L661 240.3" fill="none" stroke="#111" stroke-width="1.45" stroke-linejoin="round" />
<path d="M365 228.2 L366 228.2 L367 228.2 L368 228.2 L369 228.2 L370 228.2 L371 228.2 L372 228.2 L373 228.2 L374 228.2 L375 228.21 L376 228.21 L377 228.21 L378 228.21 L379 228.21 L380 228.21 L381 228.21 L382 228.21 L383 228.21 L384 228.21 L385 228.22 L386 228.22 L387 228.22 L388 228.22 L389 228.22 L390 228.22 L391 228.23 L392 228.23 L393 228.23 L394 228.23 L395 228.23 L396 228.23 L397 228.24 L398 228.24 L399 228.24 L400 228.24 L401 228.25 L402 228.25 L403 228.25 L404 228.26 L405 228.26 L406 228.26 L407 228.27 L408 228.27 L409 228.27 L410 228.28 L411 228.28 L412 228.28 L413 228.29 L414 228.29 L415 228.29 L416 228.3 L417 228.3 L418 228.31 L419 228.31 L420 228.32 L421 228.32 L422 228.33 L423 228.33 L424 228.34 L425 228.34 L426 228.35 L427 228.35 L428 228.36 L429 228.37 L430 228.37 L431 228.38 L432 228.39 L433 228.4 L434 228.41 L435 228.42 L436 228.43 L437 228.44 L438 228.45 L439 228.46 L440 228.47 L441 228.49 L442 228.5 L443 228.52 L444 228.53 L445 228.55 L446 228.57 L447 228.59 L448 228.61 L449 228.63 L450 228.65 L451 228.67 L452 228.7 L453 228.72 L454 228.74 L455 228.77 L456 228.8 L457 228.82 L458 228.85 L459 228.87 L460 228.9 L461 228.92 L462 228.95 L463 228.97 L464 229 L465 229.02 L466 229.05 L467 229.07 L468 229.09 L469 229.11 L470 229.13 L471 229.15 L472 229.17 L473 229.19 L474 229.21 L475 229.23 L476 229.25 L477 229.26 L478 229.28 L479 229.3 L480 229.31 L481 229.33 L482 229.35 L483 229.37 L484 229.39 L485 229.41 L486 229.43 L487 229.45 L488 229.47 L489 229.49 L490 229.51 L491 229.54 L492 229.56 L493 229.59 L494 229.62 L495 229.64 L496 229.67 L497 229.7 L498 229.73 L499 229.77 L500 229.8 L501 229.84 L502 229.87 L503 229.92 L504 229.96 L505 230.01 L506 230.07 L507 230.14 L508 230.22 L509 230.31 L510 230.42 L511 230.53 L512 230.66 L513 230.81 L514 230.96 L515 231.13 L516 231.3 L517 231.48 L518 231.66 L519 231.84 L520 232.02 L521 232.19 L522 232.36 L523 232.53 L524 232.69 L525 232.84 L526 232.99 L527 233.14 L528 233.28 L529 233.42 L530 233.56 L531 233.69 L532 233.82 L533 233.94 L534 234.05 L535 234.15 L536 234.24 L537 234.32 L538 234.39 L539 234.45 L540 234.5 L541 234.54 L542 234.57 L543 234.59 L544 234.61 L545 234.63 L546 234.64 L547 234.66 L548 234.68 L549 234.7 L550 234.73 L551 234.77 L552 234.82 L553 234.89 L554 234.97 L555 235.08 L556 235.2 L557 235.34 L558 235.5 L559 235.68 L560 235.87 L561 236.08 L562 236.29 L563 236.52 L564 236.74 L565 236.96 L566 237.18 L567 237.39 L568 237.59 L569 237.79 L570 237.99 L571 238.18 L572 238.37 L573 238.55 L574 238.73 L575 238.91 L576 239.08 L577 239.24 L578 239.4 L579 239.54 L580 239.67 L581 239.79 L582 239.9 L583 239.98 L584 240.06 L585 240.12 L586 240.17 L587 240.2 L588 240.23 L589 240.25 L590 240.27 L591 240.28 L592 240.29 L593 240.29 L594 240.29 L595 240.3 L596 240.3 L597 240.3 L598 240.3 L599 240.3 L600 240.3 L601 240.3 L602 240.3 L603 240.3 L604 240.3 L605 240.3 L606 240.3 L607 240.3 L608 240.3 L609 240.3 L610 240.3 L611 240.3 L612 240.3 L613 240.3 L614 240.3 L615 240.3 L616 240.3 L617 240.3 L618 240.3 L619 240.3 L620 240.3 L621 240.3 L622 240.3 L623 240.3 L624 240.3 L625 240.3 L626 240.3 L627 240.3 L628 240.3 L629 240.3 L630 240.3 L631 240.3 L632 240.3 L633 240.3 L634 240.3 L635 240.3 L636 240.3 L637 240.3 L638 240.3 L639 240.3 L640 240.3 L641 240.3 L642 240.3 L643 240.3 L644 240.3 L645 240.3 L646 240.3 L647 240.3 L648 240.3 L649 240.3 L650 240.3 L651 240.3 L652 240.3 L653 240.3 L654 240.3 L655 240.3 L656 240.3 L657 240.3 L658 240.3 L659 240.3 L660 240.3 L661 240.3" fill="none" stroke="#2e8b2e" stroke-width="1.2" stroke-linejoin="round" />
<path d="M365 227.89 L366 227.87 L367 227.84 L368 227.82 L369 227.79 L370 227.76 L371 227.74 L372 227.71 L373 227.67 L374 227.64 L375 227.6 L376 227.57 L377 227.53 L378 227.49 L379 227.45 L380 227.4 L381 227.36 L382 227.31 L383 227.26 L384 227.21 L385 227.16 L386 227.11 L387 227.05 L388 227 L389 226.94 L390 226.88 L391 226.82 L392 226.75 L393 226.69 L394 226.62 L395 226.56 L396 226.49 L397 226.42 L398 226.35 L399 226.28 L400 226.21 L401 226.14 L402 226.06 L403 225.99 L404 225.92 L405 225.84 L406 225.77 L407 225.7 L408 225.63 L409 225.55 L410 225.48 L411 225.41 L412 225.34 L413 225.28 L414 225.21 L415 225.14 L416 225.08 L417 225.02 L418 224.96 L419 224.9 L420 224.85 L421 224.8 L422 224.75 L423 224.7 L424 224.66 L425 224.62 L426 224.58 L427 224.55 L428 224.52 L429 224.49 L430 224.47 L431 224.45 L432 224.44 L433 224.43 L434 224.42 L435 224.42 L436 224.43 L437 224.44 L438 224.45 L439 224.47 L440 224.49 L441 224.52 L442 224.55 L443 224.59 L444 224.63 L445 224.67 L446 224.72 L447 224.78 L448 224.84 L449 224.9 L450 224.97 L451 225.04 L452 225.12 L453 225.19 L454 225.28 L455 225.36 L456 225.45 L457 225.54 L458 225.63 L459 225.72 L460 225.82 L461 225.91 L462 226.01 L463 226.11 L464 226.21 L465 226.31 L466 226.4 L467 226.5 L468 226.6 L469 226.7 L470 226.79 L471 226.89 L472 226.99 L473 227.08 L474 227.17 L475 227.26 L476 227.36 L477 227.44 L478 227.53 L479 227.62 L480 227.71 L481 227.79 L482 227.88 L483 227.96 L484 228.04 L485 228.12 L486 228.2 L487 228.28 L488 228.36 L489 228.44 L490 228.51 L491 228.59 L492 228.66 L493 228.74 L494 228.81 L495 228.88 L496 228.95 L497 229.02 L498 229.09 L499 229.16 L500 229.23 L501 229.3 L502 229.38 L503 229.45 L504 229.52 L505 229.61 L506 229.69 L507 229.79 L508 229.89 L509 230 L510 230.13 L511 230.26 L512 230.41 L513 230.57 L514 230.74 L515 230.93 L516 231.11 L517 231.31 L518 231.5 L519 231.69 L520 231.88 L521 232.07 L522 232.25 L523 232.42 L524 232.59 L525 232.75 L526 232.91 L527 233.06 L528 233.21 L529 233.36 L530 233.5 L531 233.64 L532 233.77 L533 233.9 L534 234.01 L535 234.12 L536 234.21 L537 234.3 L538 234.37 L539 234.43 L540 234.48 L541 234.52 L542 234.55 L543 234.57 L544 234.6 L545 234.61 L546 234.63 L547 234.65 L548 234.67 L549 234.69 L550 234.72 L551 234.77 L552 234.82 L553 234.89 L554 234.97 L555 235.07 L556 235.19 L557 235.33 L558 235.5 L559 235.67 L560 235.87 L561 236.08 L562 236.29 L563 236.51 L564 236.74 L565 236.96 L566 237.18 L567 237.39 L568 237.59 L569 237.79 L570 237.99 L571 238.18 L572 238.37 L573 238.55 L574 238.73 L575 238.91 L576 239.08 L577 239.24 L578 239.4 L579 239.54 L580 239.67 L581 239.79 L582 239.89 L583 239.98 L584 240.06 L585 240.12 L586 240.17 L587 240.2 L588 240.23 L589 240.25 L590 240.27 L591 240.28 L592 240.29 L593 240.29 L594 240.29 L595 240.3 L596 240.3 L597 240.3 L598 240.3 L599 240.3 L600 240.3 L601 240.3 L602 240.3 L603 240.3 L604 240.3 L605 240.3 L606 240.3 L607 240.3 L608 240.3 L609 240.3 L610 240.3 L611 240.3 L612 240.3 L613 240.3 L614 240.3 L615 240.3 L616 240.3 L617 240.3 L618 240.3 L619 240.3 L620 240.3 L621 240.3 L622 240.3 L623 240.3 L624 240.3 L625 240.3 L626 240.3 L627 240.3 L628 240.3 L629 240.3 L630 240.3 L631 240.3 L632 240.3 L633 240.3 L634 240.3 L635 240.3 L636 240.3 L637 240.3 L638 240.3 L639 240.3 L640 240.3 L641 240.3 L642 240.3 L643 240.3 L644 240.3 L645 240.3 L646 240.3 L647 240.3 L648 240.3 L649 240.3 L650 240.3 L651 240.3 L652 240.3 L653 240.3 L654 240.3 L655 240.3 L656 240.3 L657 240.3 L658 240.3 L659 240.3 L660 240.3 L661 240.3" fill="none" stroke="#2e8b2e" stroke-width="1.2" stroke-linejoin="round" />
<path d="M365 227.95 L366 227.93 L367 227.91 L368 227.9 L369 227.87 L370 227.85 L371 227.83 L372 227.8 L373 227.78 L374 227.75 L375 227.72 L376 227.7 L377 227.66 L378 227.63 L379 227.6 L380 227.56 L381 227.53 L382 227.49 L383 227.45 L384 227.41 L385 227.37 L386 227.33 L387 227.29 L388 227.24 L389 227.19 L390 227.15 L391 227.1 L392 227.05 L393 227 L394 226.94 L395 226.89 L396 226.84 L397 226.78 L398 226.73 L399 226.67 L400 226.61 L401 226.56 L402 226.5 L403 226.44 L404 226.38 L405 226.33 L406 226.27 L407 226.21 L408 226.15 L409 226.1 L410 226.04 L411 225.99 L412 225.93 L413 225.88 L414 225.82 L415 225.77 L416 225.72 L417 225.68 L418 225.63 L419 225.58 L420 225.54 L421 225.5 L422 225.46 L423 225.43 L424 225.39 L425 225.36 L426 225.33 L427 225.31 L428 225.29 L429 225.27 L430 225.25 L431 225.24 L432 225.23 L433 225.22 L434 225.22 L435 225.22 L436 225.23 L437 225.24 L438 225.25 L439 225.27 L440 225.29 L441 225.31 L442 225.34 L443 225.37 L444 225.41 L445 225.45 L446 225.49 L447 225.54 L448 225.59 L449 225.65 L450 225.71 L451 225.77 L452 225.83 L453 225.9 L454 225.97 L455 226.04 L456 226.12 L457 226.19 L458 226.27 L459 226.35 L460 226.43 L461 226.52 L462 226.6 L463 226.68 L464 226.77 L465 226.85 L466 226.93 L467 227.02 L468 227.1 L469 227.18 L470 227.26 L471 227.34 L472 227.42 L473 227.5 L474 227.58 L475 227.66 L476 227.73 L477 227.81 L478 227.88 L479 227.96 L480 228.03 L481 228.1 L482 228.17 L483 228.24 L484 228.31 L485 228.38 L486 228.45 L487 228.51 L488 228.58 L489 228.65 L490 228.71 L491 228.78 L492 228.84 L493 228.91 L494 228.97 L495 229.04 L496 229.1 L497 229.16 L498 229.22 L499 229.28 L500 229.35 L501 229.41 L502 229.48 L503 229.54 L504 229.61 L505 229.69 L506 229.77 L507 229.86 L508 229.96 L509 230.06 L510 230.18 L511 230.32 L512 230.46 L513 230.62 L514 230.79 L515 230.97 L516 231.15 L517 231.34 L518 231.53 L519 231.72 L520 231.91 L521 232.09 L522 232.27 L523 232.44 L524 232.61 L525 232.77 L526 232.93 L527 233.08 L528 233.23 L529 233.37 L530 233.51 L531 233.65 L532 233.78 L533 233.91 L534 234.02 L535 234.13 L536 234.22 L537 234.3 L538 234.37 L539 234.43" fill="none" stroke="#2e8b2e" stroke-width="1.1" stroke-linejoin="round" />
<path d="M405 228.56 L406 228.56 L407 228.57 L408 228.57 L409 228.57 L410 228.58 L411 228.58 L412 228.58 L413 228.59 L414 228.59 L415 228.59 L416 228.6 L417 228.6 L418 228.61 L419 228.61 L420 228.62 L421 228.62 L422 228.63 L423 228.63 L424 228.64 L425 228.64 L426 228.65 L427 228.65 L428 228.66 L429 228.67 L430 228.67 L431 228.68 L432 228.69 L433 228.7 L434 228.71 L435 228.72 L436 228.73 L437 228.74 L438 228.75 L439 228.76 L440 228.77 L441 228.79 L442 228.8 L443 228.82 L444 228.83 L445 228.85 L446 228.87 L447 228.89 L448 228.91 L449 228.93 L450 228.95 L451 228.97 L452 229 L453 229.02 L454 229.04 L455 229.07 L456 229.1 L457 229.12 L458 229.15 L459 229.17 L460 229.2 L461 229.22 L462 229.25 L463 229.27 L464 229.3 L465 229.32 L466 229.35 L467 229.37 L468 229.39 L469 229.41 L470 229.43 L471 229.45 L472 229.47 L473 229.49 L474 229.51 L475 229.53 L476 229.55 L477 229.56 L478 229.58 L479 229.6 L480 229.61 L481 229.63 L482 229.65 L483 229.67 L484 229.69 L485 229.71 L486 229.73 L487 229.75 L488 229.77 L489 229.79 L490 229.81 L491 229.84 L492 229.86 L493 229.89 L494 229.92 L495 229.94 L496 229.97 L497 230 L498 230.03 L499 230.07 L500 230.1 L501 230.14 L502 230.17 L503 230.22 L504 230.26 L505 230.31" fill="none" stroke="#2424cc" stroke-width="1.1" stroke-linejoin="round" />
<path d="M418 228.14 L419 228.1 L420 228.05 L421 227.99 L422 227.92 L423 227.84 L424 227.73 L425 227.61 L426 227.47 L427 227.3 L428 227.1 L429 226.88 L430 226.62 L431 226.32 L432 225.99 L433 225.62 L434 225.21 L435 224.76 L436 224.26 L437 223.73 L438 223.15 L439 222.54 L440 221.89 L441 221.2 L442 220.5 L443 219.77 L444 219.03 L445 218.28 L446 217.53 L447 216.8 L448 216.1 L449 215.42 L450 214.78 L451 214.2 L452 213.68 L453 213.23 L454 212.86 L455 212.57 L456 212.37 L457 212.26 L458 212.25 L459 212.33 L460 212.51 L461 212.78 L462 213.14 L463 213.57 L464 214.09 L465 214.67 L466 215.31 L467 216 L468 216.72 L469 217.48 L470 218.25 L471 219.04 L472 219.82 L473 220.59 L474 221.35 L475 222.09 L476 222.79 L477 223.47 L478 224.11 L479 224.7 L480 225.26 L481 225.77 L482 226.24 L483 226.67 L484 227.06 L485 227.41 L486 227.72 L487 228 L488 228.25 L489 228.47 L490 228.67 L491 228.84 L492 228.98 L493 229.12 L494 229.23 L495 229.33 L496 229.42 L497 229.5 L498 229.57" fill="none" stroke="#3cd8e0" stroke-width="1.4" stroke-linejoin="round" />
<path d="M456 228.62 L457 228.6 L458 228.57 L459 228.54 L460 228.49 L461 228.43 L462 228.35 L463 228.26 L464 228.14 L465 228 L466 227.83 L467 227.64 L468 227.41 L469 227.15 L470 226.85 L471 226.52 L472 226.14 L473 225.71 L474 225.24 L475 224.73 L476 224.16 L477 223.55 L478 222.88 L479 222.17 L480 221.42 L481 220.63 L482 219.8 L483 218.93 L484 218.04 L485 217.14 L486 216.22 L487 215.29 L488 214.37 L489 213.47 L490 212.59 L491 211.75 L492 210.96 L493 210.22 L494 209.54 L495 208.95 L496 208.43 L497 208.01 L498 207.68 L499 207.46 L500 207.34 L501 207.34 L502 207.44 L503 207.65 L504 207.98 L505 208.4 L506 208.94 L507 209.56 L508 210.28 L509 211.09 L510 211.97 L511 212.92 L512 213.92 L513 214.97 L514 216.05 L515 217.16 L516 218.28 L517 219.39 L518 220.5 L519 221.58 L520 222.64 L521 223.65 L522 224.63 L523 225.55 L524 226.43 L525 227.25 L526 228.03 L527 228.75 L528 229.42 L529 230.04 L530 230.61 L531 231.13 L532 231.61 L533 232.04 L534 232.43 L535 232.77 L536 233.07 L537 233.34 L538 233.56 L539 233.76 L540 233.92 L541 234.06 L542 234.18 L543 234.27 L544 234.35 L545 234.41 L546 234.47" fill="none" stroke="#3cd8e0" stroke-width="1.4" stroke-linejoin="round" />
<path d="M493 229.43 L494 229.34 L495 229.17 L496 228.89 L497 228.45 L498 227.76 L499 226.73 L500 225.25 L501 223.17 L502 220.34 L503 216.61 L504 211.81 L505 205.84 L506 198.63 L507 190.2 L508 180.66 L509 170.27 L510 159.38 L511 148.45 L512 138.04 L513 128.74 L514 121.12 L515 115.68 L516 112.8 L517 112.7 L518 115.39 L519 120.69 L520 128.24 L521 137.58 L522 148.12 L523 159.27 L524 170.47 L525 181.25 L526 191.2 L527 200.09 L528 207.75 L529 214.16 L530 219.37 L531 223.49 L532 226.65 L533 229.02 L534 230.75 L535 232 L536 232.87 L537 233.46 L538 233.87 L539 234.14 L540 234.32" fill="none" stroke="#e3262e" stroke-width="1.15" stroke-linejoin="round" />
<path d="M538 234.23 L539 234.16 L540 233.99 L541 233.68 L542 233.17 L543 232.35 L544 231.11 L545 229.3 L546 226.72 L547 223.16 L548 218.4 L549 212.22 L550 204.44 L551 194.95 L552 183.75 L553 170.98 L554 156.94 L555 142.12 L556 127.16 L557 112.83 L558 99.97 L559 89.38 L560 81.81 L561 77.78 L562 77.61 L563 81.31 L564 88.63 L565 99.07 L566 111.92 L567 126.38 L568 141.61 L569 156.82 L570 171.34 L571 184.66 L572 196.43 L573 206.49 L574 214.82 L575 221.51 L576 226.73 L577 230.69 L578 233.62 L579 235.73 L580 237.22 L581 238.25 L582 238.95 L583 239.42 L584 239.73 L585 239.93" fill="none" stroke="#e3262e" stroke-width="1.15" stroke-linejoin="round" />
<path d="M508 230.05 L509 230.02 L510 229.93 L511 229.74 L512 229.39 L513 228.83 L514 227.96 L515 226.67 L516 224.85 L517 222.37 L518 219.12 L519 214.98 L520 209.91 L521 203.91 L522 197.06 L523 189.53 L524 181.59 L525 173.6 L526 165.98 L527 159.19 L528 153.66 L529 149.77 L530 147.82 L531 147.96 L532 150.17 L533 154.31 L534 160.1 L535 167.15 L536 175.01 L537 183.23 L538 191.39 L539 199.15 L540 206.22 L541 212.43 L542 217.71 L543 222.05 L544 225.51 L545 228.18 L546 230.19 L547 231.66 L548 232.7 L549 233.43 L550 233.94 L551 234.29 L552 234.54 L553 234.72" fill="none" stroke="#2424cc" stroke-width="1.15" stroke-linejoin="round" />
<path d="M553 234.65 L554 234.57 L555 234.39 L556 234.08 L557 233.56 L558 232.73 L559 231.48 L560 229.66 L561 227.11 L562 223.66 L563 219.15 L564 213.45 L565 206.5 L566 198.3 L567 188.97 L568 178.77 L569 168.07 L570 157.35 L571 147.19 L572 138.2 L573 130.96 L574 125.99 L575 123.63 L576 124.09 L577 127.33 L578 133.13 L579 141.09 L580 150.68 L581 161.31 L582 172.37 L583 183.3 L584 193.63 L585 203.02 L586 211.24 L587 218.2 L588 223.9 L589 228.43 L590 231.92 L591 234.52 L592 236.41 L593 237.75 L594 238.67 L595 239.28 L596 239.68 L597 239.93 L598 240.09" fill="none" stroke="#2424cc" stroke-width="1.15" stroke-linejoin="round" />
<line x1="419.3" y1="196.3" x2="437" y2="220" stroke="#111" stroke-width="1.0" />
<path d="M440.2 224.6 L434.8 220.9 L438.8 218.0 Z" fill="#111" stroke="#111" stroke-width="0.6"/>
<line x1="35.9" y1="2.1" x2="662.2" y2="2.1" stroke="#5a5a5a" stroke-width="1.3" />
<line x1="36.5" y1="1.5" x2="36.5" y2="267.1" stroke="#3a3a3a" stroke-width="1.3" />
<line x1="661.6" y1="1.5" x2="661.6" y2="267.1" stroke="#222" stroke-width="1.3" />
<line x1="35.9" y1="266.5" x2="346.4" y2="266.5" stroke="#111" stroke-width="1.35" />
<line x1="353.4" y1="266.5" x2="662.2" y2="266.5" stroke="#111" stroke-width="1.35" />
<line x1="342" y1="274.2" x2="351.6" y2="257.6" stroke="#111" stroke-width="1.2" />
<line x1="348.1" y1="274.2" x2="357.4" y2="257.6" stroke="#111" stroke-width="1.2" />
<line x1="36.5" y1="266.5" x2="36.5" y2="271.9" stroke="#2a2a2a" stroke-width="1.15" />
<text transform="translate(36.5 284.3) scale(0.93 1)" font-size="11.8" text-anchor="middle">167</text>
<line x1="52.86" y1="266.5" x2="52.86" y2="269.3" stroke="#2a2a2a" stroke-width="1.15" />
<line x1="69.22" y1="266.5" x2="69.22" y2="271.9" stroke="#2a2a2a" stroke-width="1.15" />
<text transform="translate(69.22 284.3) scale(0.93 1)" font-size="11.8" text-anchor="middle">166</text>
<line x1="85.58" y1="266.5" x2="85.58" y2="269.3" stroke="#2a2a2a" stroke-width="1.15" />
<line x1="101.94" y1="266.5" x2="101.94" y2="271.9" stroke="#2a2a2a" stroke-width="1.15" />
<text transform="translate(101.94 284.3) scale(0.93 1)" font-size="11.8" text-anchor="middle">165</text>
<line x1="118.3" y1="266.5" x2="118.3" y2="269.3" stroke="#2a2a2a" stroke-width="1.15" />
<line x1="134.66" y1="266.5" x2="134.66" y2="271.9" stroke="#2a2a2a" stroke-width="1.15" />
<text transform="translate(134.66 284.3) scale(0.93 1)" font-size="11.8" text-anchor="middle">164</text>
<line x1="151.02" y1="266.5" x2="151.02" y2="269.3" stroke="#2a2a2a" stroke-width="1.15" />
<line x1="167.38" y1="266.5" x2="167.38" y2="271.9" stroke="#2a2a2a" stroke-width="1.15" />
<text transform="translate(167.38 284.3) scale(0.93 1)" font-size="11.8" text-anchor="middle">163</text>
<line x1="183.74" y1="266.5" x2="183.74" y2="269.3" stroke="#2a2a2a" stroke-width="1.15" />
<line x1="200.1" y1="266.5" x2="200.1" y2="271.9" stroke="#2a2a2a" stroke-width="1.15" />
<text transform="translate(200.1 284.3) scale(0.93 1)" font-size="11.8" text-anchor="middle">162</text>
<line x1="216.46" y1="266.5" x2="216.46" y2="269.3" stroke="#2a2a2a" stroke-width="1.15" />
<line x1="232.82" y1="266.5" x2="232.82" y2="271.9" stroke="#2a2a2a" stroke-width="1.15" />
<text transform="translate(232.82 284.3) scale(0.93 1)" font-size="11.8" text-anchor="middle">161</text>
<line x1="249.18" y1="266.5" x2="249.18" y2="269.3" stroke="#2a2a2a" stroke-width="1.15" />
<line x1="265.54" y1="266.5" x2="265.54" y2="271.9" stroke="#2a2a2a" stroke-width="1.15" />
<text transform="translate(265.54 284.3) scale(0.93 1)" font-size="11.8" text-anchor="middle">160</text>
<line x1="281.9" y1="266.5" x2="281.9" y2="269.3" stroke="#2a2a2a" stroke-width="1.15" />
<line x1="298.26" y1="266.5" x2="298.26" y2="271.9" stroke="#2a2a2a" stroke-width="1.15" />
<text transform="translate(298.26 284.3) scale(0.93 1)" font-size="11.8" text-anchor="middle">159</text>
<line x1="314.62" y1="266.5" x2="314.62" y2="269.3" stroke="#2a2a2a" stroke-width="1.15" />
<line x1="330.98" y1="266.5" x2="330.98" y2="271.9" stroke="#2a2a2a" stroke-width="1.15" />
<text transform="translate(330.98 284.3) scale(0.93 1)" font-size="11.8" text-anchor="middle">158</text>
<line x1="365" y1="266.5" x2="365" y2="271.9" stroke="#2a2a2a" stroke-width="1.15" />
<text transform="translate(365 284.3) scale(0.93 1)" font-size="11.8" text-anchor="middle">42</text>
<line x1="386.18" y1="266.5" x2="386.18" y2="269.3" stroke="#2a2a2a" stroke-width="1.15" />
<line x1="407.37" y1="266.5" x2="407.37" y2="271.9" stroke="#2a2a2a" stroke-width="1.15" />
<text transform="translate(407.37 284.3) scale(0.93 1)" font-size="11.8" text-anchor="middle">40</text>
<line x1="428.55" y1="266.5" x2="428.55" y2="269.3" stroke="#2a2a2a" stroke-width="1.15" />
<line x1="449.74" y1="266.5" x2="449.74" y2="271.9" stroke="#2a2a2a" stroke-width="1.15" />
<text transform="translate(449.74 284.3) scale(0.93 1)" font-size="11.8" text-anchor="middle">38</text>
<line x1="470.93" y1="266.5" x2="470.93" y2="269.3" stroke="#2a2a2a" stroke-width="1.15" />
<line x1="492.11" y1="266.5" x2="492.11" y2="271.9" stroke="#2a2a2a" stroke-width="1.15" />
<text transform="translate(492.11 284.3) scale(0.93 1)" font-size="11.8" text-anchor="middle">36</text>
<line x1="513.3" y1="266.5" x2="513.3" y2="269.3" stroke="#2a2a2a" stroke-width="1.15" />
<line x1="534.48" y1="266.5" x2="534.48" y2="271.9" stroke="#2a2a2a" stroke-width="1.15" />
<text transform="translate(534.48 284.3) scale(0.93 1)" font-size="11.8" text-anchor="middle">34</text>
<line x1="555.67" y1="266.5" x2="555.67" y2="269.3" stroke="#2a2a2a" stroke-width="1.15" />
<line x1="576.86" y1="266.5" x2="576.86" y2="271.9" stroke="#2a2a2a" stroke-width="1.15" />
<text transform="translate(576.86 284.3) scale(0.93 1)" font-size="11.8" text-anchor="middle">32</text>
<line x1="598.04" y1="266.5" x2="598.04" y2="269.3" stroke="#2a2a2a" stroke-width="1.15" />
<line x1="619.23" y1="266.5" x2="619.23" y2="271.9" stroke="#2a2a2a" stroke-width="1.15" />
<text transform="translate(619.23 284.3) scale(0.93 1)" font-size="11.8" text-anchor="middle">30</text>
<line x1="640.41" y1="266.5" x2="640.41" y2="269.3" stroke="#2a2a2a" stroke-width="1.15" />
<line x1="661.6" y1="266.5" x2="661.6" y2="271.9" stroke="#2a2a2a" stroke-width="1.15" />
<text transform="translate(661.6 284.3) scale(0.93 1)" font-size="11.8" text-anchor="middle">28</text>
<text x="351.5" y="304" font-size="13.3" text-anchor="middle" font-weight="normal" >Binding Energy (eV)</text>
<text x="0" y="0" font-size="13.3" text-anchor="middle" font-weight="normal" transform="translate(27 138.2) rotate(-90)">Intensity (a.u.)</text>
<text x="45.2" y="23.6" font-size="17.5" text-anchor="start" font-weight="bold" >(a)</text>
<text x="178" y="24.3" font-size="13.8" text-anchor="start" font-weight="normal" >S<tspan font-size="9.0" dy="-7.5">2-</tspan><tspan dy="7.5"> (WS<tspan font-size="9.0" dy="4.5">2</tspan><tspan dy="-4.5">)</tspan></tspan></text>
<text x="208.2" y="69.9" font-size="13.8" text-anchor="start" font-weight="normal" >S<tspan font-size="9.0" dy="-7.5">2-</tspan><tspan dy="7.5">(Ag<tspan font-size="9.0" dy="4.5">2</tspan><tspan dy="-4.5">S)</tspan></tspan></text>
<text x="495.5" y="59.4" font-size="13.8" text-anchor="start" font-weight="normal" letter-spacing="0.5">W<tspan font-size="7.8" dy="-7.2">6+</tspan><tspan dy="7.2"></tspan></text>
<text x="555" y="24.5" font-size="13.8" text-anchor="start" font-weight="normal" letter-spacing="0.3">W<tspan font-size="7.8" dy="-7.2">4+</tspan><tspan dy="7.2"> (2H)</tspan></text>
<text x="570.5" y="51.9" font-size="13.8" text-anchor="start" font-weight="normal" letter-spacing="0.35">W<tspan font-size="7.8" dy="-7.2">4+</tspan><tspan dy="7.2"> (1T)</tspan></text>
<text x="400" y="190.2" font-size="13.8" text-anchor="start" font-weight="normal" >W 5p<tspan dx="0.8" font-size="8.4" dy="5.2">3/2</tspan></text>
<path d="M19.7 431.31 L20.2 431.37 L20.7 431.26 L21.2 431.2 L21.7 431.28 L22.2 431.46 L22.7 431.39 L23.2 431.28 L23.7 431.26 L24.2 431.38 L24.7 431.57 L25.2 431.59 L25.7 431.53 L26.2 431.39 L26.7 431.47 L27.2 431.41 L27.7 431.33 L28.2 431.01 L28.7 430.96 L29.2 430.95 L29.7 430.92 L30.2 430.82 L30.7 430.74 L31.2 430.72 L31.7 430.7 L32.2 430.61 L32.7 430.35 L33.2 430.24 L33.7 430.05 L34.2 430.1 L34.7 429.89 L35.2 429.94 L35.7 429.86 L36.19 429.96 L36.69 430.19 L37.19 430.27 L37.69 430.36 L38.19 430.11 L38.69 430.17 L39.19 430.25 L39.69 430.42 L40.19 430.56 L40.69 430.61 L41.19 430.62 L41.69 430.7 L42.19 430.69 L42.69 430.91 L43.19 430.84 L43.69 430.94 L44.19 430.79 L44.69 430.87 L45.19 430.74 L45.69 430.77 L46.19 430.65 L46.69 430.74 L47.19 430.66 L47.69 430.64 L48.19 430.46 L48.69 430.44 L49.19 430.44 L49.69 430.59 L50.19 430.51 L50.69 430.53 L51.19 430.49 L51.69 430.58 L52.19 430.62 L52.69 430.67 L53.19 430.68 L53.69 430.68 L54.19 430.73 L54.69 430.9 L55.19 431.15 L55.69 431.32 L56.19 431.42 L56.69 431.43 L57.19 431.45 L57.69 431.41 L58.19 431.42 L58.69 431.48 L59.19 431.4 L59.69 431.23 L60.19 431.16 L60.69 431.09 L61.19 431.08 L61.69 430.86 L62.19 430.61 L62.69 430.54 L63.19 430.41 L63.69 430.31 L64.19 429.98 L64.69 429.63 L65.19 429.3 L65.69 428.97 L66.19 428.71 L66.69 428.55 L67.19 428.3 L67.69 427.97 L68.18 427.68 L68.68 427.28 L69.18 427.02 L69.68 426.65 L70.18 426.31 L70.68 425.73 L71.18 425.18 L71.68 424.8 L72.18 424.55 L72.68 424.33 L73.18 423.88 L73.68 423.51 L74.18 423.17 L74.68 423 L75.18 422.67 L75.68 422.59 L76.18 422.78 L76.68 423.17 L77.18 423.33 L77.68 423.51 L78.18 423.9 L78.68 424.62 L79.18 425.19 L79.68 425.68 L80.18 426.07 L80.68 426.43 L81.18 426.9 L81.68 427.1 L82.18 427.43 L82.68 427.72 L83.18 428.22 L83.68 428.64 L84.18 428.93 L84.68 429.01 L85.18 429.18 L85.68 429.35 L86.18 429.64 L86.68 429.89 L87.18 430.06 L87.68 430.28 L88.18 430.35 L88.68 430.45 L89.18 430.48 L89.68 430.57 L90.18 430.71 L90.68 430.72 L91.18 430.71 L91.68 430.6 L92.18 430.77 L92.68 430.92 L93.18 431.03 L93.68 430.89 L94.18 430.7 L94.68 430.72 L95.18 430.75 L95.68 430.96 L96.18 430.94 L96.68 430.84 L97.18 430.49 L97.68 430.54 L98.18 430.58 L98.68 430.61 L99.18 430.51 L99.68 430.38 L100.18 430.73 L100.67 430.81 L101.17 430.99 L101.67 430.78 L102.17 430.61 L102.67 430.62 L103.17 430.59 L103.67 430.85 L104.17 430.78 L104.67 430.9 L105.17 431.01 L105.67 431.34 L106.17 431.37 L106.67 431.22 L107.17 431.2 L107.67 431.36 L108.17 431.39 L108.67 431.26 L109.17 431.1 L109.67 430.97 L110.17 430.81 L110.67 430.74 L111.17 430.64 L111.67 430.59 L112.17 430.26 L112.67 429.98 L113.17 429.57 L113.67 429.41 L114.17 429.24 L114.67 429.13 L115.17 429.17 L115.67 429.35 L116.17 429.55 L116.67 429.63 L117.17 429.59 L117.67 429.53 L118.17 429.49 L118.67 429.51 L119.17 429.53 L119.67 429.45 L120.17 429.41 L120.67 429.51 L121.17 429.65 L121.67 429.71 L122.17 429.77 L122.67 429.71 L123.17 429.71 L123.67 429.6 L124.17 429.42 L124.67 429.12 L125.17 428.96 L125.67 428.83 L126.17 428.91 L126.67 428.74 L127.17 428.71 L127.67 428.53 L128.17 428.22 L128.67 428.07 L129.17 427.84 L129.67 427.79 L130.17 427.56 L130.67 427.52 L131.17 427.48 L131.67 427.43 L132.17 427.1 L132.67 426.85 L133.16 426.47 L133.66 426.44 L134.16 426.38 L134.66 426.36 L135.16 426.27 L135.66 426.13 L136.16 426.16 L136.66 426.01 L137.16 425.9 L137.66 425.8 L138.16 426.06 L138.66 426.33 L139.16 426.57 L139.66 426.72 L140.16 426.96 L140.66 427.32 L141.16 427.65 L141.66 427.99 L142.16 428.25 L142.66 428.58 L143.16 429.05 L143.66 429.47 L144.16 429.76 L144.66 429.82 L145.16 429.95 L145.66 430.11 L146.16 430.19 L146.66 430.3 L147.16 430.38 L147.66 430.44 L148.16 430.43 L148.66 430.4 L149.16 430.43 L149.66 430.59 L150.16 430.54 L150.66 430.64 L151.16 430.59 L151.66 430.77 L152.16 430.85 L152.66 431.03 L153.16 431.12 L153.66 431.15 L154.16 431.05 L154.66 431.04 L155.16 431.11 L155.66 431.09 L156.16 430.96 L156.66 430.72 L157.16 430.52 L157.66 430.32 L158.16 430.26 L158.66 430.12 L159.16 429.93 L159.66 429.69 L160.16 429.24 L160.66 428.72 L161.16 428.21 L161.66 428.2 L162.16 428.8 L162.66 429.69 L163.16 430.54 L163.66 430.99 L164.16 431.08 L164.66 431.22 L165.15 431.24 L165.65 431.44 L166.15 431.45 L166.65 431.56 L167.15 431.52 L167.65 431.51 L168.15 431.41 L168.65 431.5 L169.15 431.61 L169.65 431.77 L170.15 431.58 L170.65 431.16 L171.15 430.78 L171.65 430.57 L172.15 430.64 L172.65 430.53 L173.15 430.36 L173.65 430.1 L174.15 429.91 L174.65 429.67 L175.15 429.38 L175.65 429.11 L176.15 428.99 L176.65 428.8 L177.15 428.55 L177.65 428.32 L178.15 428.04 L178.65 427.79 L179.15 427.69 L179.65 427.59 L180.15 427.55 L180.65 427.24 L181.15 427.17 L181.65 427.24 L182.15 427.34 L182.65 427.56 L183.15 427.61 L183.65 427.88 L184.15 427.92 L184.65 428.07 L185.15 428.19 L185.65 428.19 L186.15 428.29 L186.65 428.11 L187.15 427.97 L187.65 427.71 L188.15 427.42 L188.65 427.13 L189.15 426.7 L189.65 426.18 L190.15 425.11 L190.65 423.94 L191.15 422.72 L191.65 421.5 L192.15 419.81 L192.65 417.76 L193.15 415.44 L193.65 412.72 L194.15 409.84 L194.65 406.87 L195.15 404.1 L195.65 401.66 L196.15 399.4 L196.65 397.23 L197.15 395.24 L197.64 393.22 L198.14 391.03 L198.64 388.67 L199.14 387.55 L199.64 388.14 L200.14 390.06 L200.64 392.85 L201.14 395.99 L201.64 399.68 L202.14 403.44 L202.64 407.12 L203.14 410.78 L203.64 414.35 L204.14 417.53 L204.64 420.36 L205.14 422.74 L205.64 424.89 L206.14 426.5 L206.64 427.41 L207.14 427.91 L207.64 428.28 L208.14 428.6 L208.64 428.93 L209.14 429.21 L209.64 429.38 L210.14 429.46 L210.64 429.48 L211.14 429.7 L211.64 429.97 L212.14 430.25 L212.64 430.39 L213.14 430.51 L213.64 430.59 L214.14 430.73 L214.64 430.74 L215.14 430.87 L215.64 430.92 L216.14 431.17 L216.64 431.28 L217.14 431.45 L217.64 431.54 L218.14 431.79 L218.64 431.85 L219.14 431.86 L219.64 431.91 L220.14 431.98 L220.64 432.15 L221.14 432.13 L221.64 432.26 L222.14 432.15 L222.64 432.28 L223.14 432.29 L223.64 432.38 L224.14 432.5 L224.64 432.6 L225.14 432.92 L225.64 432.81 L226.14 432.74 L226.64 432.5 L227.14 432.58 L227.64 432.59 L228.14 432.59 L228.64 432.49 L229.14 432.4 L229.63 432.34 L230.13 432.23 L230.63 432.16 L231.13 432.16 L231.63 432.19 L232.13 432.22 L232.63 432.02 L233.13 431.76 L233.63 431.71 L234.13 431.68 L234.63 431.6 L235.13 431.46 L235.63 431.26 L236.13 431.26 L236.63 431.15 L237.13 431.13 L237.63 430.98 L238.13 430.79 L238.63 430.46 L239.13 430.14 L239.63 429.78 L240.13 429.47 L240.63 429.09 L241.13 428.67 L241.63 428.24 L242.13 427.51 L242.63 426.97 L243.13 426.19 L243.63 425.59 L244.13 424.27 L244.63 422.24 L245.13 419.46 L245.63 415.83 L246.13 411.42 L246.63 405.47 L247.13 398.21 L247.63 387.57 L248.13 374.36 L248.63 360.99 L249.13 344.61 L249.63 333.4 L250.13 339.85 L250.63 356.4 L251.13 372.99 L251.63 391.13 L252.13 403.38 L252.63 411.82 L253.13 417.78 L253.63 421.7 L254.13 424.12 L254.63 425.68 L255.13 426.43 L255.63 427.09 L256.13 427.64 L256.63 428.35 L257.13 428.83 L257.63 429.32 L258.13 429.58 L258.63 429.76 L259.13 429.89 L259.63 430.02 L260.13 430.07 L260.63 430.11 L261.13 430.19 L261.63 430.52 L262.12 430.49 L262.62 430.57 L263.12 430.38 L263.62 430.5 L264.12 430.5 L264.62 430.64 L265.12 430.63 L265.62 430.68 L266.12 430.77 L266.62 430.88 L267.12 430.95 L267.62 430.84 L268.12 430.72 L268.62 430.74 L269.12 430.99 L269.62 431.04 L270.12 430.98 L270.62 430.78 L271.12 430.75 L271.62 430.74 L272.12 430.79 L272.62 430.97 L273.12 431.05 L273.62 431.04 L274.12 430.84 L274.62 430.87 L275.12 430.91 L275.62 430.95 L276.12 430.87 L276.62 430.88 L277.12 431.05 L277.62 431.18 L278.12 431.21 L278.62 431.13 L279.12 431.12 L279.62 431.12 L280.12 431.3 L280.62 431.21 L281.12 431.2 L281.62 431.15 L282.12 431.22 L282.62 431.36 L283.12 431.28 L283.62 431.32 L284.12 431.2 L284.62 431.12 L285.12 431.06 L285.62 431.24 L286.12 431.39 L286.62 431.51 L287.12 431.43 L287.62 431.43 L288.12 431.47 L288.62 431.39 L289.12 431.34 L289.62 431.34 L290.12 431.34 L290.62 431.26 L291.12 431.18 L291.62 431.17 L292.12 431.3 L292.62 431.27 L293.12 431.23 L293.62 431.16 L294.12 431.31 L294.61 431.38 L295.11 431.41 L295.61 431.29 L296.11 431.31 L296.61 431.35 L297.11 431.44 L297.61 431.29 L298.11 431.31 L298.61 431.2 L299.11 431.28 L299.61 431.34 L300.11 431.31 L300.61 431.45 L301.11 431.33 L301.61 431.25 L302.11 431.13 L302.61 431.09 L303.11 431.13 L303.61 430.92 L304.11 430.82 L304.61 430.78 L305.11 430.84 L305.61 430.96 L306.11 430.93 L306.61 430.95 L307.11 430.77 L307.61 430.7 L308.11 430.63 L308.61 430.63 L309.11 430.66 L309.61 430.64 L310.11 430.59 L310.61 430.42 L311.11 430.44 L311.61 430.33 L312.11 430.37 L312.61 430.2 L313.11 430.13 L313.61 430.04 L314.11 429.93 L314.61 430.04 L315.11 429.93 L315.61 429.91 L316.11 429.6 L316.61 429.61 L317.11 429.62 L317.61 429.61 L318.11 429.32 L318.61 429.1 L319.11 429.01 L319.61 428.95 L320.11 428.79 L320.61 428.57 L321.11 428.49 L321.61 428.55 L322.11 428.61 L322.61 428.77 L323.11 429.12 L323.61 429.48 L324.11 429.62 L324.61 429.66 L325.11 429.74 L325.61 429.95 L326.11 430.08 L326.6 430.11 L327.1 430.14 L327.6 430.08 L328.1 430.12 L328.6 430.26 L329.1 430.35 L329.6 430.27 L330.1 430.16 L330.6 430.05 L331.1 430.19 L331.6 430.23 L332.1 430.35 L332.6 430.28 L333.1 430.13 L333.6 430.09 L334.1 430.11 L334.6 430.28 L335.1 430.15 L335.6 430.14 L336.1 430.05 L336.6 430.08 L337.1 430.09 L337.6 430.15 L338.1 430.12 L338.6 429.96 L339.1 429.75 L339.6 429.76 L340.1 429.94 L340.6 430.1 L341.1 429.97 L341.6 429.81 L342.1 429.83 L342.6 430.09" fill="none" stroke="#2a2a2a" stroke-width="1.25" stroke-linejoin="round" />
<path d="M19.7 496.43 L20.2 496.44 L20.7 496.4 L21.2 496.27 L21.7 496.12 L22.2 496.11 L22.7 495.84 L23.2 495.52 L23.7 494.8 L24.2 494.76 L24.7 495.15 L25.2 495.63 L25.7 496.03 L26.2 496.34 L26.7 496.61 L27.2 496.62 L27.7 496.63 L28.2 496.53 L28.7 496.4 L29.2 496.4 L29.7 496.38 L30.2 496.54 L30.7 496.84 L31.2 497.03 L31.7 497 L32.2 496.57 L32.7 496.88 L33.2 496.92 L33.7 497.07 L34.2 496.71 L34.7 496.84 L35.2 496.78 L35.7 496.52 L36.19 496.28 L36.69 496.08 L37.19 496.06 L37.69 496.26 L38.19 496.54 L38.69 496.36 L39.19 496.22 L39.69 495.62 L40.19 495.56 L40.69 495.29 L41.19 495.4 L41.69 495.33 L42.19 494.71 L42.69 494.81 L43.19 494.65 L43.69 494.84 L44.19 494.46 L44.69 494.14 L45.19 493.71 L45.69 493.4 L46.19 493.32 L46.69 493.16 L47.19 492.94 L47.69 492.65 L48.19 492.32 L48.69 492.25 L49.19 491.98 L49.69 491.76 L50.19 491.29 L50.69 491.05 L51.19 491.31 L51.69 490.8 L52.19 490.91 L52.69 490.91 L53.19 491.43 L53.69 491.54 L54.19 491.89 L54.69 492.22 L55.19 492.47 L55.69 492.38 L56.19 492.79 L56.69 493.26 L57.19 493.72 L57.69 493.67 L58.19 493.7 L58.69 493.14 L59.19 493.12 L59.69 492.34 L60.19 492.71 L60.69 492.59 L61.19 493.15 L61.69 492.59 L62.19 492 L62.69 491.1 L63.19 490.22 L63.69 489.75 L64.19 489.23 L64.69 489.18 L65.19 488.36 L65.69 487.88 L66.19 487.37 L66.69 487.29 L67.19 486.81 L67.69 486.96 L68.18 486.06 L68.68 485.41 L69.18 484.18 L69.68 483.61 L70.18 483.54 L70.68 483.29 L71.18 482.86 L71.68 482.31 L72.18 482.23 L72.68 482.23 L73.18 482.56 L73.68 482.83 L74.18 484.29 L74.68 485.11 L75.18 485.81 L75.68 485.91 L76.18 487.03 L76.68 487.91 L77.18 489.39 L77.68 489.52 L78.18 490.29 L78.68 490.29 L79.18 490.83 L79.68 491.11 L80.18 491.5 L80.68 491.67 L81.18 491.54 L81.68 491.78 L82.18 492.33 L82.68 492.62 L83.18 492.58 L83.68 491.97 L84.18 492.56 L84.68 492.47 L85.18 493.14 L85.68 493.62 L86.18 493.88 L86.68 494.23 L87.18 493.77 L87.68 493.81 L88.18 493.7 L88.68 494.05 L89.18 494.17 L89.68 494.21 L90.18 494.13 L90.68 494.14 L91.18 493.73 L91.68 493.61 L92.18 493.4 L92.68 493.71 L93.18 492.99 L93.68 493.17 L94.18 492.48 L94.68 492.2 L95.18 491.63 L95.68 491.71 L96.18 492.01 L96.68 491.89 L97.18 492.03 L97.68 492.22 L98.18 492.2 L98.68 491.83 L99.18 491.57 L99.68 492.1 L100.18 492.89 L100.67 493.32 L101.17 493.39 L101.67 493.65 L102.17 494.3 L102.67 494.63 L103.17 495.07 L103.67 495.07 L104.17 495.41 L104.67 495.14 L105.17 495.47 L105.67 495.51 L106.17 495.41 L106.67 495.36 L107.17 495.32 L107.67 495.88 L108.17 495.77 L108.67 495.75 L109.17 495.57 L109.67 495.43 L110.17 495.38 L110.67 495.34 L111.17 495.59 L111.67 495.75 L112.17 495.69 L112.67 495.37 L113.17 495.43 L113.67 495.45 L114.17 495.7 L114.67 495.6 L115.17 495.9 L115.67 495.31 L116.17 495.14 L116.67 494.72 L117.17 495.13 L117.67 494.72 L118.17 494.25 L118.67 493.94 L119.17 494.33 L119.67 494.66 L120.17 494.19 L120.67 493.83 L121.17 493.66 L121.67 493.79 L122.17 493.36 L122.67 492.78 L123.17 492.31 L123.67 492.57 L124.17 492.47 L124.67 492.46 L125.17 491.86 L125.67 491.7 L126.17 491.44 L126.67 491.26 L127.17 491.14 L127.67 491.15 L128.17 491.31 L128.67 491.22 L129.17 491.38 L129.67 491.15 L130.17 491.06 L130.67 490.74 L131.17 490.47 L131.67 490.55 L132.17 490.28 L132.67 490.02 L133.16 489.93 L133.66 490.08 L134.16 490.2 L134.66 490.05 L135.16 490.03 L135.66 490.21 L136.16 489.7 L136.66 489.47 L137.16 489.05 L137.66 489.11 L138.16 488.91 L138.66 488.93 L139.16 489.15 L139.66 489.12 L140.16 489.44 L140.66 489.42 L141.16 489.52 L141.66 489.5 L142.16 489.69 L142.66 490.15 L143.16 490.2 L143.66 490.6 L144.16 490.7 L144.66 491.25 L145.16 490.86 L145.66 490.75 L146.16 490.95 L146.66 491.35 L147.16 491.78 L147.66 491.82 L148.16 491.56 L148.66 491.52 L149.16 491.62 L149.66 492 L150.16 491.83 L150.66 491.44 L151.16 491.15 L151.66 491.16 L152.16 491.16 L152.66 490.96 L153.16 490.77 L153.66 490.4 L154.16 490.44 L154.66 490.34 L155.16 489.9 L155.66 489.84 L156.16 489.69 L156.66 489.54 L157.16 489.09 L157.66 488.46 L158.16 488.46 L158.66 488.42 L159.16 488.31 L159.66 488.04 L160.16 487.61 L160.66 487.51 L161.16 487.31 L161.66 487.06 L162.16 487.1 L162.66 486.99 L163.16 486.8 L163.66 486.64 L164.16 486.31 L164.66 486.4 L165.15 485.68 L165.65 485.81 L166.15 485.25 L166.65 485.01 L167.15 484.51 L167.65 484.02 L168.15 483.67 L168.65 483.31 L169.15 483.14 L169.65 483.1 L170.15 482.72 L170.65 482.5 L171.15 481.99 L171.65 481.46 L172.15 480.66 L172.65 480.17 L173.15 479.69 L173.65 479.04 L174.15 478.3 L174.65 478.33 L175.15 478.58 L175.65 478.96 L176.15 478.62 L176.65 478.78 L177.15 479.2 L177.65 479.09 L178.15 479.04 L178.65 478.55 L179.15 478.39 L179.65 478.14 L180.15 478.04 L180.65 478.23 L181.15 478.48 L181.65 478.12 L182.15 477.79 L182.65 478.01 L183.15 478.33 L183.65 478.73 L184.15 478.2 L184.65 477.93 L185.15 477.98 L185.65 477.55 L186.15 477.17 L186.65 476.47 L187.15 476.15 L187.65 475.17 L188.15 474.02 L188.65 472.96 L189.15 471.67 L189.65 470.16 L190.15 468.8 L190.65 468.17 L191.15 466.48 L191.65 464.81 L192.15 463.02 L192.65 461.85 L193.15 460.28 L193.65 458.59 L194.15 457.22 L194.65 455.43 L195.15 453.81 L195.65 451.87 L196.15 450.17 L196.65 448.2 L197.15 445.82 L197.64 443.59 L198.14 441.52 L198.64 439.99 L199.14 438.32 L199.64 436.29 L200.14 434.42 L200.64 432.74 L201.14 431.68 L201.64 430.84 L202.14 430.81 L202.64 431.45 L203.14 433.64 L203.64 436.85 L204.14 440.76 L204.64 445.35 L205.14 450.74 L205.64 456.08 L206.14 460.67 L206.64 464.25 L207.14 467.31 L207.64 469.44 L208.14 471.51 L208.64 473.32 L209.14 475.07 L209.64 476.34 L210.14 477.87 L210.64 479.05 L211.14 480.53 L211.64 481.29 L212.14 482.38 L212.64 483.07 L213.14 483.85 L213.64 484.66 L214.14 485.77 L214.64 486.8 L215.14 487.38 L215.64 487.68 L216.14 488.11 L216.64 488.56 L217.14 489.34 L217.64 489.65 L218.14 490.32 L218.64 490.19 L219.14 490.35 L219.64 490.39 L220.14 490.79 L220.64 491.53 L221.14 491.95 L221.64 492.5 L222.14 492.41 L222.64 492.46 L223.14 492.46 L223.64 492.58 L224.14 492.52 L224.64 492.55 L225.14 492.9 L225.64 493.18 L226.14 492.89 L226.64 492.43 L227.14 492.13 L227.64 492.19 L228.14 491.99 L228.64 492.02 L229.14 491.88 L229.63 492.11 L230.13 491.65 L230.63 490.95 L231.13 490.72 L231.63 490.73 L232.13 490.7 L232.63 490.06 L233.13 489.31 L233.63 488.77 L234.13 488.18 L234.63 487.59 L235.13 486.87 L235.63 485.94 L236.13 485.06 L236.63 483.95 L237.13 482.86 L237.63 481.94 L238.13 481.02 L238.63 479.45 L239.13 477.99 L239.63 475.95 L240.13 474.4 L240.63 472.83 L241.13 471.78 L241.63 470.71 L242.13 468.54 L242.63 466.78 L243.13 464.35 L243.63 462.38 L244.13 459.82 L244.63 457.49 L245.13 454.09 L245.63 449.91 L246.13 445.55 L246.63 441.75 L247.13 438.6 L247.63 435.16 L248.13 431.59 L248.63 429.95 L249.13 431.19 L249.63 434.45 L250.13 438.34 L250.63 443.98 L251.13 450.84 L251.63 457.74 L252.13 462.26 L252.63 466.03 L253.13 469.18 L253.63 472.36 L254.13 475.17 L254.63 476.86 L255.13 478.2 L255.63 479.78 L256.13 481.12 L256.63 482.33 L257.13 483.49 L257.63 485.25 L258.13 486.2 L258.63 486.79 L259.13 487.13 L259.63 487.81 L260.13 487.98 L260.63 487.99 L261.13 487.89 L261.63 488.54 L262.12 489.53 L262.62 490.37 L263.12 490.3 L263.62 489.99 L264.12 490.03 L264.62 490.33 L265.12 490.44 L265.62 490.5 L266.12 490.64 L266.62 491.09 L267.12 491.38 L267.62 491.67 L268.12 491.81 L268.62 491.91 L269.12 491.92 L269.62 491.85 L270.12 491.73 L270.62 492.04 L271.12 492.11 L271.62 492.38 L272.12 492.51 L272.62 492.94 L273.12 492.36 L273.62 492.07 L274.12 491.92 L274.62 492.27 L275.12 492.1 L275.62 491.61 L276.12 491.55 L276.62 491.69 L277.12 491.58 L277.62 491.69 L278.12 491.5 L278.62 491.86 L279.12 491.62 L279.62 491.77 L280.12 491.77 L280.62 491.81 L281.12 491.61 L281.62 491.73 L282.12 491.94 L282.62 491.87 L283.12 491.71 L283.62 491.29 L284.12 491.28 L284.62 490.54 L285.12 490.59 L285.62 490.76 L286.12 491.18 L286.62 491.34 L287.12 491 L287.62 491.08 L288.12 490.86 L288.62 490.71 L289.12 490.99 L289.62 490.77 L290.12 490.61 L290.62 490.13 L291.12 490.32 L291.62 490.57 L292.12 490.44 L292.62 490.36 L293.12 490.39 L293.62 490.46 L294.12 490 L294.61 490.08 L295.11 489.87 L295.61 489.66 L296.11 489.4 L296.61 489.3 L297.11 489.7 L297.61 489.86 L298.11 489.71 L298.61 489.45 L299.11 488.79 L299.61 488.87 L300.11 489.07 L300.61 489.29 L301.11 489.23 L301.61 488.62 L302.11 488.54 L302.61 488.68 L303.11 488.97 L303.61 488.77 L304.11 488.31 L304.61 488.43 L305.11 488.19 L305.61 488.75 L306.11 488.64 L306.61 488.81 L307.11 488.15 L307.61 488.28 L308.11 488.58 L308.61 488.7 L309.11 488.61 L309.61 488.47 L310.11 488.77 L310.61 488.85 L311.11 489.04 L311.61 488.56 L312.11 488.97 L312.61 488.62 L313.11 488.69 L313.61 487.99 L314.11 488.18 L314.61 488.58 L315.11 489.28 L315.61 489.47 L316.11 489.18 L316.61 488.65 L317.11 488.34 L317.61 488.41 L318.11 488.48 L318.61 488.49 L319.11 488.89 L319.61 489.04 L320.11 489.36 L320.61 489.17 L321.11 488.96 L321.61 489.03 L322.11 489.09 L322.61 489.85 L323.11 490.13 L323.61 490.1 L324.11 489.63 L324.61 489.41 L325.11 489.74 L325.61 490.31 L326.11 490.52 L326.6 490.78 L327.1 490.61 L327.6 490.72 L328.1 490.99 L328.6 491.16 L329.1 491.69 L329.6 491.51 L330.1 491.66 L330.6 491.39 L331.1 491.58 L331.6 491.93 L332.1 491.74 L332.6 491.52 L333.1 490.96 L333.6 491.48 L334.1 491.69 L334.6 491.98 L335.1 491.71 L335.6 491.24 L336.1 491.3 L336.6 491.22 L337.1 491.65 L337.6 491.5 L338.1 491.45 L338.6 491.36 L339.1 491.21 L339.6 491.17 L340.1 491.31 L340.6 490.98 L341.1 491.19 L341.6 491.18 L342.1 491.39 L342.6 491.33" fill="none" stroke="#2a8a2a" stroke-width="1.2" stroke-linejoin="round" />
<path d="M19.7 532.95 L20.2 532.69 L20.7 532.53 L21.2 532.83 L21.7 533.27 L22.2 533.38 L22.7 533.31 L23.2 533.2 L23.7 533.04 L24.2 533.07 L24.7 533.15 L25.2 533.47 L25.7 533.64 L26.2 533.5 L26.7 533.45 L27.2 533.32 L27.7 533.7 L28.2 533.78 L28.7 533.81 L29.2 533.22 L29.7 532.97 L30.2 532.49 L30.7 532.96 L31.2 532.6 L31.7 532.7 L32.2 532.6 L32.7 532.26 L33.2 532.14 L33.7 531.48 L34.2 531.53 L34.7 531.23 L35.2 531.37 L35.7 531.25 L36.19 531.29 L36.69 531.12 L37.19 530.72 L37.69 530.76 L38.19 530.46 L38.69 530.33 L39.19 529.82 L39.69 529.86 L40.19 530.16 L40.69 529.99 L41.19 529.69 L41.69 529.39 L42.19 529.53 L42.69 529.32 L43.19 529.29 L43.69 528.79 L44.19 528.53 L44.69 528.32 L45.19 528.46 L45.69 528.45 L46.19 528.31 L46.69 528.11 L47.19 528.15 L47.69 528.15 L48.19 528.13 L48.69 528.08 L49.19 527.77 L49.69 527.57 L50.19 527.02 L50.69 527.19 L51.19 527.34 L51.69 527.91 L52.19 527.57 L52.69 527.55 L53.19 527.44 L53.69 527.52 L54.19 527.84 L54.69 528.22 L55.19 528.37 L55.69 528.33 L56.19 528.45 L56.69 528.46 L57.19 528.55 L57.69 528.48 L58.19 528.94 L58.69 528.41 L59.19 527.78 L59.69 527.31 L60.19 527.56 L60.69 527.31 L61.19 526.92 L61.69 526.29 L62.19 526.49 L62.69 526.33 L63.19 526.41 L63.69 526.1 L64.19 526.16 L64.69 525.88 L65.19 525.57 L65.69 525.31 L66.19 525.05 L66.69 524.51 L67.19 523.96 L67.69 523.8 L68.18 523.83 L68.68 523.66 L69.18 523.36 L69.68 523.77 L70.18 523.7 L70.68 523.65 L71.18 523.1 L71.68 523.1 L72.18 523.34 L72.68 523.6 L73.18 523.96 L73.68 523.8 L74.18 524.2 L74.68 524.63 L75.18 525.24 L75.68 524.95 L76.18 525.34 L76.68 525.77 L77.18 526.89 L77.68 527.49 L78.18 528.21 L78.68 528.99 L79.18 529.53 L79.68 530.21 L80.18 530.12 L80.68 530.29 L81.18 530.51 L81.68 530.91 L82.18 530.96 L82.68 530.69 L83.18 530.64 L83.68 530.85 L84.18 531.24 L84.68 531.47 L85.18 531.72 L85.68 531.86 L86.18 531.99 L86.68 532.21 L87.18 532.32 L87.68 532.39 L88.18 532.25 L88.68 532.21 L89.18 532.18 L89.68 532.02 L90.18 532.04 L90.68 532.05 L91.18 532.32 L91.68 532.11 L92.18 532.09 L92.68 531.87 L93.18 531.72 L93.68 531.55 L94.18 531.2 L94.68 531.01 L95.18 530.92 L95.68 530.92 L96.18 530.81 L96.68 530.36 L97.18 530.26 L97.68 530.49 L98.18 530.14 L98.68 530.14 L99.18 529.79 L99.68 530.39 L100.18 530.46 L100.67 530.32 L101.17 530.55 L101.67 530.37 L102.17 530.65 L102.67 530.61 L103.17 530.86 L103.67 531.11 L104.17 531.06 L104.67 531.03 L105.17 531.1 L105.67 531.09 L106.17 531.58 L106.67 531.64 L107.17 532.09 L107.67 531.62 L108.17 531.19 L108.67 530.51 L109.17 530.63 L109.67 530.73 L110.17 531.15 L110.67 530.91 L111.17 530.83 L111.67 530.75 L112.17 530.87 L112.67 531.17 L113.17 531.18 L113.67 531.24 L114.17 530.81 L114.67 530.43 L115.17 530.68 L115.67 530.76 L116.17 530.87 L116.67 530.39 L117.17 530.33 L117.67 530.15 L118.17 529.93 L118.67 529.74 L119.17 529.3 L119.67 529.59 L120.17 529.55 L120.67 529.56 L121.17 529.23 L121.67 529.25 L122.17 529.1 L122.67 528.79 L123.17 528.81 L123.67 529.03 L124.17 529.06 L124.67 528.84 L125.17 528.58 L125.67 528.32 L126.17 528.29 L126.67 528.14 L127.17 528.04 L127.67 527.73 L128.17 527.64 L128.67 527.3 L129.17 527.38 L129.67 527.23 L130.17 527.64 L130.67 527.26 L131.17 526.98 L131.67 526.81 L132.17 526.57 L132.67 526.46 L133.16 526.05 L133.66 525.57 L134.16 525.65 L134.66 525.39 L135.16 525.59 L135.66 525.21 L136.16 525.32 L136.66 525.29 L137.16 525.51 L137.66 525.55 L138.16 525.41 L138.66 525.12 L139.16 524.76 L139.66 524.46 L140.16 524.26 L140.66 524.25 L141.16 524.17 L141.66 523.86 L142.16 523.62 L142.66 523.79 L143.16 524.41 L143.66 524.42 L144.16 524.33 L144.66 524.24 L145.16 524.51 L145.66 524.91 L146.16 524.99 L146.66 525.24 L147.16 525.25 L147.66 525.65 L148.16 525.75 L148.66 525.99 L149.16 525.71 L149.66 525.36 L150.16 525.19 L150.66 525.18 L151.16 525.53 L151.66 525.59 L152.16 525.48 L152.66 525.15 L153.16 524.67 L153.66 524.52 L154.16 524.41 L154.66 524.36 L155.16 524.01 L155.66 524.04 L156.16 523.78 L156.66 524.09 L157.16 523.9 L157.66 524.17 L158.16 523.56 L158.66 523.29 L159.16 522.61 L159.66 522.54 L160.16 521.99 L160.66 521.94 L161.16 521.74 L161.66 522 L162.16 522.14 L162.66 521.98 L163.16 521.58 L163.66 521.03 L164.16 520.7 L164.66 520.25 L165.15 520.18 L165.65 520.29 L166.15 520.28 L166.65 520.18 L167.15 519.68 L167.65 519.44 L168.15 519.09 L168.65 519.26 L169.15 519.16 L169.65 519.2 L170.15 518.81 L170.65 518.53 L171.15 517.86 L171.65 517.67 L172.15 517.52 L172.65 517.85 L173.15 517.83 L173.65 517.53 L174.15 517.34 L174.65 517.16 L175.15 516.74 L175.65 516.21 L176.15 515.95 L176.65 515.97 L177.15 515.8 L177.65 515.61 L178.15 515.69 L178.65 515.64 L179.15 515.39 L179.65 514.94 L180.15 515.03 L180.65 514.77 L181.15 515.06 L181.65 514.36 L182.15 514.12 L182.65 513.56 L183.15 513.32 L183.65 512.99 L184.15 512.68 L184.65 512.53 L185.15 512.19 L185.65 511.78 L186.15 511.31 L186.65 511.06 L187.15 510.58 L187.65 510.06 L188.15 509.26 L188.65 508.27 L189.15 507.27 L189.65 506.23 L190.15 505.37 L190.65 504.36 L191.15 503.07 L191.65 502.15 L192.15 500.88 L192.65 500.08 L193.15 498.74 L193.65 497.22 L194.15 495.56 L194.65 494.07 L195.15 492.53 L195.65 490.7 L196.15 488.6 L196.65 486.65 L197.15 484.86 L197.64 483.19 L198.14 481.91 L198.64 480.04 L199.14 478.72 L199.64 477.55 L200.14 477.8 L200.64 478.16 L201.14 478.62 L201.64 479.22 L202.14 480.64 L202.64 482.85 L203.14 485.97 L203.64 489.82 L204.14 493.96 L204.64 498.12 L205.14 501.67 L205.64 504.99 L206.14 508.22 L206.64 511.02 L207.14 513.42 L207.64 515.17 L208.14 516.84 L208.64 518.3 L209.14 519.72 L209.64 520.45 L210.14 521.18 L210.64 521.71 L211.14 522.23 L211.64 522.98 L212.14 523.61 L212.64 524.25 L213.14 524.35 L213.64 524.58 L214.14 525.02 L214.64 525.84 L215.14 526.33 L215.64 526.68 L216.14 526.93 L216.64 527.3 L217.14 527.6 L217.64 527.61 L218.14 528.08 L218.64 528.36 L219.14 528.71 L219.64 528.71 L220.14 528.7 L220.64 528.69 L221.14 528.57 L221.64 529.02 L222.14 529.21 L222.64 529.65 L223.14 529.47 L223.64 529.46 L224.14 529.39 L224.64 529.5 L225.14 529.69 L225.64 530.09 L226.14 530.22 L226.64 530.2 L227.14 530 L227.64 529.85 L228.14 530.08 L228.64 529.56 L229.14 529.68 L229.63 529.14 L230.13 529.11 L230.63 528.75 L231.13 528.52 L231.63 528.08 L232.13 527.66 L232.63 527.43 L233.13 527.03 L233.63 526.83 L234.13 526.26 L234.63 525.91 L235.13 525.14 L235.63 524.67 L236.13 524.3 L236.63 523.25 L237.13 522.46 L237.63 521.59 L238.13 521.11 L238.63 520.12 L239.13 518.72 L239.63 517.59 L240.13 516.28 L240.63 515.17 L241.13 513.53 L241.63 512.08 L242.13 510.48 L242.63 508.78 L243.13 507.33 L243.63 505.58 L244.13 503.7 L244.63 501.37 L245.13 499.11 L245.63 496.76 L246.13 493.87 L246.63 490.52 L247.13 485.95 L247.63 481.22 L248.13 477.59 L248.63 475.95 L249.13 476.69 L249.63 478.82 L250.13 481.83 L250.63 484.99 L251.13 489.95 L251.63 496.1 L252.13 501.01 L252.63 504.49 L253.13 507.39 L253.63 510.3 L254.13 512.56 L254.63 514.67 L255.13 516.49 L255.63 518.02 L256.13 519.77 L256.63 521.27 L257.13 522.81 L257.63 524.13 L258.13 525.14 L258.63 526.27 L259.13 526.98 L259.63 527.04 L260.13 527.39 L260.63 527.69 L261.13 528.72 L261.63 529 L262.12 529.05 L262.62 528.89 L263.12 529.03 L263.62 529.07 L264.12 528.92 L264.62 528.98 L265.12 529.04 L265.62 529.42 L266.12 529.49 L266.62 529.62 L267.12 529.77 L267.62 529.85 L268.12 529.88 L268.62 529.76 L269.12 529.76 L269.62 529.77 L270.12 529.87 L270.62 530.14 L271.12 530.26 L271.62 530.24 L272.12 529.66 L272.62 529.38 L273.12 528.94 L273.62 529.45 L274.12 529.88 L274.62 530.31 L275.12 530.06 L275.62 529.92 L276.12 530.06 L276.62 529.81 L277.12 529.65 L277.62 529.45 L278.12 529.49 L278.62 529.74 L279.12 529.87 L279.62 529.94 L280.12 529.63 L280.62 529.35 L281.12 529.32 L281.62 529.2 L282.12 529.42 L282.62 529.45 L283.12 529.38 L283.62 529.03 L284.12 529.02 L284.62 528.9 L285.12 528.69 L285.62 528.57 L286.12 528.95 L286.62 529.06 L287.12 529.07 L287.62 528.72 L288.12 529.01 L288.62 529.02 L289.12 528.79 L289.62 528.84 L290.12 528.71 L290.62 528.72 L291.12 528.29 L291.62 528.25 L292.12 528.54 L292.62 528.53 L293.12 528.34 L293.62 528.34 L294.12 528.61 L294.61 528.62 L295.11 528.36 L295.61 528.11 L296.11 528.06 L296.61 527.83 L297.11 527.9 L297.61 527.71 L298.11 527.5 L298.61 527.37 L299.11 527.71 L299.61 528.12 L300.11 527.84 L300.61 527.55 L301.11 527.17 L301.61 527.16 L302.11 526.74 L302.61 526.73 L303.11 527.02 L303.61 527.2 L304.11 527.61 L304.61 527.36 L305.11 527.18 L305.61 527.01 L306.11 526.77 L306.61 527.18 L307.11 526.95 L307.61 527.02 L308.11 526.87 L308.61 526.64 L309.11 526.54 L309.61 526.48 L310.11 526.99 L310.61 527 L311.11 527.1 L311.61 526.85 L312.11 527.15 L312.61 527.03 L313.11 526.97 L313.61 526.59 L314.11 527.05 L314.61 526.75 L315.11 526.95 L315.61 526.44 L316.11 526.72 L316.61 526.58 L317.11 526.56 L317.61 526.71 L318.11 526.97 L318.61 527.04 L319.11 526.85 L319.61 526.72 L320.11 526.73 L320.61 526.84 L321.11 526.96 L321.61 527.07 L322.11 526.74 L322.61 526.62 L323.11 526.38 L323.61 526.76 L324.11 526.76 L324.61 527.03 L325.11 526.99 L325.61 527.25 L326.11 527.48 L326.6 527.58 L327.1 527.22 L327.6 527.04 L328.1 527.42 L328.6 527.62 L329.1 527.67 L329.6 527.81 L330.1 528.29 L330.6 528.47 L331.1 528.15 L331.6 527.69 L332.1 527.92 L332.6 528.09 L333.1 528.08 L333.6 527.83 L334.1 527.69 L334.6 528.02 L335.1 527.96 L335.6 528.45 L336.1 528.33 L336.6 528.73 L337.1 528.42 L337.6 528.59 L338.1 528.43 L338.6 528.46 L339.1 528.33 L339.6 528.19 L340.1 528.28 L340.6 528.58 L341.1 528.72 L341.6 528.31 L342.1 527.87 L342.6 528.07" fill="none" stroke="#2222dd" stroke-width="1.2" stroke-linejoin="round" />
<path d="M19.7 576.15 L20.7 576.15 L21.7 573.44 L22.7 573.06 L23.7 575.91 L24.7 577.54 L25.7 576.81 L26.7 575.38 L27.7 576.5 L28.7 578.11 L29.7 573.28 L30.7 575.17 L31.7 572.88 L32.7 570.95 L33.7 568.94 L34.7 563.31 L35.7 558.36 L36.69 554.38 L37.69 543.19 L38.69 537.03 L39.69 534.41 L40.69 535.9 L41.69 538.61 L42.69 541.27 L43.69 544.08 L44.69 548.3 L45.69 551.3 L46.69 553.8 L47.69 557.13 L48.69 557.64 L49.69 560.75 L50.69 560.46 L51.69 559.43 L52.69 560.72 L53.69 562.98 L54.69 563.4 L55.69 563.02 L56.69 563.96 L57.69 565.17 L58.69 563.7 L59.69 562.29 L60.69 559.79 L61.69 561.84 L62.69 563.16 L63.69 562.14 L64.69 563.32 L65.69 559.58 L66.69 559.23 L67.69 558.56 L68.68 557.01 L69.68 556.71 L70.68 556.94 L71.68 556.79 L72.68 556.68 L73.68 557.74 L74.68 560.54 L75.68 562.03 L76.68 565.59 L77.68 563.97 L78.68 564.59 L79.68 563.12 L80.68 564.09 L81.68 562.89 L82.68 563.54 L83.68 566.08 L84.68 571.47 L85.68 575.22 L86.68 569.42 L87.68 569.44 L88.68 565.91 L89.68 563.03 L90.68 562.51 L91.68 572.17 L92.68 576.56 L93.68 577.47 L94.68 569.53 L95.68 561.69 L96.68 559.81 L97.68 558.2 L98.68 561.45 L99.68 561.94 L100.67 559.2 L101.67 553.97 L102.67 553.91 L103.67 557.63 L104.67 560.98 L105.67 561.74 L106.67 563.81 L107.67 569.75 L108.67 571.48 L109.67 573.22 L110.67 575.27 L111.67 571.23 L112.67 575.5 L113.67 577.41 L114.67 575.06 L115.67 571.99 L116.67 570.51 L117.67 568.77 L118.67 566.52 L119.67 566.79 L120.67 568.33 L121.67 567.74 L122.67 567.34 L123.67 571.6 L124.67 573.1 L125.67 570.49 L126.67 567.32 L127.67 571.47 L128.67 574.44 L129.67 571.58 L130.67 570.11 L131.67 565.55 L132.67 565.93 L133.66 568.22 L134.66 569.07 L135.66 571.57 L136.66 569.78 L137.66 570.39 L138.66 565.49 L139.66 564.67 L140.66 566.25 L141.66 560.94 L142.66 561.75 L143.66 561.66 L144.66 563.15 L145.66 564.45 L146.66 567.42 L147.66 569.18 L148.66 572.16 L149.66 570.14 L150.66 569.49 L151.66 563.71 L152.66 564.53 L153.66 561.14 L154.66 561 L155.66 558.03 L156.66 558.07 L157.66 557.27 L158.66 557.82 L159.66 557.94 L160.66 559.95 L161.66 562.8 L162.66 563.02 L163.66 561.21 L164.66 558.89 L165.65 557.43 L166.65 561 L167.65 557.81 L168.65 558.22 L169.65 562.06 L170.65 562.27 L171.65 562.51 L172.65 564.73 L173.65 566.22 L174.65 563.4 L175.65 567.06 L176.65 566.93 L177.65 568.42 L178.65 566.82 L179.65 569.89 L180.65 568.86 L181.65 563.02 L182.65 566.58 L183.65 565.61 L184.65 561.88 L185.65 564.72 L186.65 565.02 L187.65 566.02 L188.65 563.9 L189.65 563.55 L190.65 561.01 L191.65 557.6 L192.65 555.22 L193.65 550.73 L194.65 551.33 L195.65 546.97 L196.65 546.72 L197.64 543.78 L198.64 546.04 L199.64 540.56 L200.64 540.01 L201.64 534.43 L202.64 528.9 L203.64 528.8 L204.64 531.9 L205.64 542.33 L206.64 547.08 L207.64 556.71 L208.64 557.98 L209.64 561.96 L210.64 566.75 L211.64 565.76 L212.64 570.25 L213.64 568.03 L214.64 566.99 L215.64 569.14 L216.64 567.01 L217.64 567.93 L218.64 566.93 L219.64 568.95 L220.64 571.75 L221.64 568.98 L222.64 570.22 L223.64 568.85 L224.64 568.12 L225.64 565.98 L226.64 567.55 L227.64 567.16 L228.64 569.71 L229.63 569.84 L230.63 567.81 L231.63 567.62 L232.63 567.12 L233.63 566.67 L234.63 562.82 L235.63 560.29 L236.63 559.92 L237.63 557.22 L238.63 554.89 L239.63 552.04 L240.63 550.51 L241.63 548.35 L242.63 546.62 L243.63 547.72 L244.63 542.73 L245.63 537.36 L246.63 536.08 L247.63 534.69 L248.63 533.68 L249.63 536.96 L250.63 542.94 L251.63 550.28 L252.63 557.81 L253.63 562.77 L254.63 564.81 L255.63 569 L256.63 570.18 L257.63 570.26 L258.63 573.01 L259.63 570.01 L260.63 571.84 L261.63 568.06 L262.62 570.71 L263.62 569.86 L264.62 572.37 L265.62 571.79 L266.62 570.26 L267.62 571.94 L268.62 572.5 L269.62 572.19 L270.62 571.95 L271.62 569.17 L272.62 572.01 L273.62 568.21 L274.62 568.62 L275.62 566.74 L276.62 568.37 L277.62 566.71 L278.62 568.58 L279.62 565.98 L280.62 570.4 L281.62 568.8 L282.62 569.51 L283.62 568.63 L284.62 566.9 L285.62 566.71 L286.62 565.72 L287.62 562.48 L288.62 563.01 L289.62 563.94 L290.62 566.01 L291.62 563.63 L292.62 566.26 L293.62 565.68 L294.61 567.31 L295.61 566.63 L296.61 563.17 L297.61 561.83 L298.61 564.25 L299.61 562.95 L300.61 561.11 L301.61 562.34 L302.61 561.8 L303.61 562.96 L304.61 562.47 L305.61 564.17 L306.61 566.07 L307.61 566.26 L308.61 566.58 L309.61 565.84 L310.61 567.84 L311.61 566.98 L312.61 567.93 L313.61 569.05 L314.61 567.9 L315.61 569.94 L316.61 567.77 L317.61 572.35 L318.61 571.49 L319.61 570.82 L320.61 569.47 L321.61 569.53 L322.61 569.77 L323.61 568.24 L324.61 570.04 L325.61 569.7 L326.6 572.27 L327.6 573.18 L328.6 573.51 L329.6 569.96 L330.6 569.95 L331.6 573.55 L332.6 572.67 L333.6 573 L334.6 572.48 L335.6 571.91 L336.6 574.33 L337.6 572.7 L338.6 572.48 L339.6 570.39 L340.6 572.04 L341.6 573.78 L342.6 572.98" fill="none" stroke="#e8262a" stroke-width="1.15" stroke-linejoin="round" />
<line x1="18.3" y1="321.2" x2="343.7" y2="321.2" stroke="#5a5a5a" stroke-width="1.3" />
<line x1="18.9" y1="320.6" x2="18.9" y2="586.1" stroke="#3a3a3a" stroke-width="1.3" />
<line x1="343.1" y1="320.6" x2="343.1" y2="586.1" stroke="#222" stroke-width="1.3" />
<line x1="18.3" y1="585.5" x2="343.7" y2="585.5" stroke="#111" stroke-width="1.35" />
<line x1="18.9" y1="585.5" x2="18.9" y2="590.9" stroke="#2a2a2a" stroke-width="1.15" />
<text transform="translate(18.9 602.6) scale(0.93 1)" font-size="11.8" text-anchor="middle">100</text>
<line x1="26.1" y1="585.5" x2="26.1" y2="588.3" stroke="#2a2a2a" stroke-width="1.15" />
<line x1="33.31" y1="585.5" x2="33.31" y2="588.3" stroke="#2a2a2a" stroke-width="1.15" />
<line x1="40.51" y1="585.5" x2="40.51" y2="588.3" stroke="#2a2a2a" stroke-width="1.15" />
<line x1="47.72" y1="585.5" x2="47.72" y2="588.3" stroke="#2a2a2a" stroke-width="1.15" />
<line x1="54.92" y1="585.5" x2="54.92" y2="590.9" stroke="#2a2a2a" stroke-width="1.15" />
<text transform="translate(54.92 602.6) scale(0.93 1)" font-size="11.8" text-anchor="middle">150</text>
<line x1="62.13" y1="585.5" x2="62.13" y2="588.3" stroke="#2a2a2a" stroke-width="1.15" />
<line x1="69.33" y1="585.5" x2="69.33" y2="588.3" stroke="#2a2a2a" stroke-width="1.15" />
<line x1="76.54" y1="585.5" x2="76.54" y2="588.3" stroke="#2a2a2a" stroke-width="1.15" />
<line x1="83.74" y1="585.5" x2="83.74" y2="588.3" stroke="#2a2a2a" stroke-width="1.15" />
<line x1="90.94" y1="585.5" x2="90.94" y2="590.9" stroke="#2a2a2a" stroke-width="1.15" />
<text transform="translate(90.94 602.6) scale(0.93 1)" font-size="11.8" text-anchor="middle">200</text>
<line x1="98.15" y1="585.5" x2="98.15" y2="588.3" stroke="#2a2a2a" stroke-width="1.15" />
<line x1="105.35" y1="585.5" x2="105.35" y2="588.3" stroke="#2a2a2a" stroke-width="1.15" />
<line x1="112.56" y1="585.5" x2="112.56" y2="588.3" stroke="#2a2a2a" stroke-width="1.15" />
<line x1="119.76" y1="585.5" x2="119.76" y2="588.3" stroke="#2a2a2a" stroke-width="1.15" />
<line x1="126.97" y1="585.5" x2="126.97" y2="590.9" stroke="#2a2a2a" stroke-width="1.15" />
<text transform="translate(126.97 602.6) scale(0.93 1)" font-size="11.8" text-anchor="middle">250</text>
<line x1="134.17" y1="585.5" x2="134.17" y2="588.3" stroke="#2a2a2a" stroke-width="1.15" />
<line x1="141.37" y1="585.5" x2="141.37" y2="588.3" stroke="#2a2a2a" stroke-width="1.15" />
<line x1="148.58" y1="585.5" x2="148.58" y2="588.3" stroke="#2a2a2a" stroke-width="1.15" />
<line x1="155.78" y1="585.5" x2="155.78" y2="588.3" stroke="#2a2a2a" stroke-width="1.15" />
<line x1="162.99" y1="585.5" x2="162.99" y2="590.9" stroke="#2a2a2a" stroke-width="1.15" />
<text transform="translate(162.99 602.6) scale(0.93 1)" font-size="11.8" text-anchor="middle">300</text>
<line x1="170.19" y1="585.5" x2="170.19" y2="588.3" stroke="#2a2a2a" stroke-width="1.15" />
<line x1="177.4" y1="585.5" x2="177.4" y2="588.3" stroke="#2a2a2a" stroke-width="1.15" />
<line x1="184.6" y1="585.5" x2="184.6" y2="588.3" stroke="#2a2a2a" stroke-width="1.15" />
<line x1="191.81" y1="585.5" x2="191.81" y2="588.3" stroke="#2a2a2a" stroke-width="1.15" />
<line x1="199.01" y1="585.5" x2="199.01" y2="590.9" stroke="#2a2a2a" stroke-width="1.15" />
<text transform="translate(199.01 602.6) scale(0.93 1)" font-size="11.8" text-anchor="middle">350</text>
<line x1="206.21" y1="585.5" x2="206.21" y2="588.3" stroke="#2a2a2a" stroke-width="1.15" />
<line x1="213.42" y1="585.5" x2="213.42" y2="588.3" stroke="#2a2a2a" stroke-width="1.15" />
<line x1="220.62" y1="585.5" x2="220.62" y2="588.3" stroke="#2a2a2a" stroke-width="1.15" />
<line x1="227.83" y1="585.5" x2="227.83" y2="588.3" stroke="#2a2a2a" stroke-width="1.15" />
<line x1="235.03" y1="585.5" x2="235.03" y2="590.9" stroke="#2a2a2a" stroke-width="1.15" />
<text transform="translate(235.03 602.6) scale(0.93 1)" font-size="11.8" text-anchor="middle">400</text>
<line x1="242.24" y1="585.5" x2="242.24" y2="588.3" stroke="#2a2a2a" stroke-width="1.15" />
<line x1="249.44" y1="585.5" x2="249.44" y2="588.3" stroke="#2a2a2a" stroke-width="1.15" />
<line x1="256.65" y1="585.5" x2="256.65" y2="588.3" stroke="#2a2a2a" stroke-width="1.15" />
<line x1="263.85" y1="585.5" x2="263.85" y2="588.3" stroke="#2a2a2a" stroke-width="1.15" />
<line x1="271.05" y1="585.5" x2="271.05" y2="590.9" stroke="#2a2a2a" stroke-width="1.15" />
<text transform="translate(271.05 602.6) scale(0.93 1)" font-size="11.8" text-anchor="middle">450</text>
<line x1="278.26" y1="585.5" x2="278.26" y2="588.3" stroke="#2a2a2a" stroke-width="1.15" />
<line x1="285.46" y1="585.5" x2="285.46" y2="588.3" stroke="#2a2a2a" stroke-width="1.15" />
<line x1="292.67" y1="585.5" x2="292.67" y2="588.3" stroke="#2a2a2a" stroke-width="1.15" />
<line x1="299.87" y1="585.5" x2="299.87" y2="588.3" stroke="#2a2a2a" stroke-width="1.15" />
<line x1="307.08" y1="585.5" x2="307.08" y2="590.9" stroke="#2a2a2a" stroke-width="1.15" />
<text transform="translate(307.08 602.6) scale(0.93 1)" font-size="11.8" text-anchor="middle">500</text>
<line x1="314.28" y1="585.5" x2="314.28" y2="588.3" stroke="#2a2a2a" stroke-width="1.15" />
<line x1="321.48" y1="585.5" x2="321.48" y2="588.3" stroke="#2a2a2a" stroke-width="1.15" />
<line x1="328.69" y1="585.5" x2="328.69" y2="588.3" stroke="#2a2a2a" stroke-width="1.15" />
<line x1="335.89" y1="585.5" x2="335.89" y2="588.3" stroke="#2a2a2a" stroke-width="1.15" />
<line x1="343.1" y1="585.5" x2="343.1" y2="590.9" stroke="#2a2a2a" stroke-width="1.15" />
<text transform="translate(343.1 602.6) scale(0.93 1)" font-size="11.8" text-anchor="middle">550</text>
<text x="175.5" y="619.6" font-size="13.1" text-anchor="middle" font-weight="normal" >Wavenumber (cm<tspan font-size="8" dy="-6">-1</tspan><tspan dy="6">)</tspan></text>
<text x="0" y="0" font-size="13.3" text-anchor="middle" font-weight="normal" transform="translate(11.9 456.2) rotate(-90)">Intensity (a.u.)</text>
<text x="27.8" y="343.2" font-size="17.5" text-anchor="start" font-weight="bold" >(b)</text>
<text x="336" y="421.8" font-size="11.5" text-anchor="end" font-weight="normal" >Bulk</text>
<text x="336.7" y="482.4" font-size="11.5" text-anchor="end" font-weight="normal" >300 <tspan font-size="7" dy="-5.2">0</tspan><tspan dy="5.2">C</tspan></text>
<text x="336.4" y="520.1" font-size="11.5" text-anchor="end" font-weight="normal" textLength="60.6" lengthAdjust="spacing">100mJ, 10s</text>
<text x="335" y="555.6" font-size="11.5" text-anchor="end" font-weight="normal" textLength="54.2" lengthAdjust="spacing">50mJ, 10s</text>
<text x="256" y="337.3" font-size="12.9" text-anchor="start" font-weight="normal" >A<tspan font-size="8.3" dy="5.0">1g</tspan><tspan dy="-5.0"></tspan></text>
<text x="194.2" y="378.9" font-size="12.9" text-anchor="start" font-weight="normal" >E</text>
<text x="202.6" y="371.5" font-size="8.3" text-anchor="start" font-weight="normal" >1</text>
<text x="206.5" y="384" font-size="8.3" text-anchor="start" font-weight="normal" >2g</text>
<text x="48.7" y="546" font-size="12.9" text-anchor="start" font-weight="normal" >J<tspan font-size="8.3" dy="5.5">1</tspan><tspan dy="-5.5"></tspan></text>
<text x="142.8" y="546.8" font-size="12.9" text-anchor="start" font-weight="normal" >J<tspan font-size="8.3" dy="5.5">2</tspan><tspan dy="-5.5"></tspan></text>
<text x="214.9" y="549.4" font-size="12.9" text-anchor="start" font-weight="normal" >J<tspan font-size="8.3" dy="5.0">3</tspan><tspan dy="-5.0"></tspan></text>
<line x1="225.2" y1="542.6" x2="235.5" y2="548" stroke="#111" stroke-width="0.9" />
<path d="M239.6 550.3 L233.9 549.6 L235.9 545.9 Z" fill="#111" stroke="#111" stroke-width="0.5"/>
<line x1="519.1" y1="357.5" x2="519.1" y2="585.5" stroke="#333" stroke-width="0.9" stroke-dasharray="2 1.6"/>
<line x1="577.4" y1="348" x2="577.4" y2="585.5" stroke="#333" stroke-width="0.9" stroke-dasharray="2 1.6"/>
<line x1="590.3" y1="371.4" x2="590.3" y2="585.5" stroke="#333" stroke-width="0.9" stroke-dasharray="2 1.6"/>
<path d="M382 392.49 L383 392.38 L384 392.31 L385 392.49 L385.99 392.58 L386.99 392.47 L387.99 392.3 L388.99 392.27 L389.99 392.41 L390.99 392.47 L391.99 392.45 L392.99 392.37 L393.98 392.38 L394.98 392.35 L395.98 392.37 L396.98 392.37 L397.98 392.54 L398.98 392.53 L399.98 392.58 L400.97 392.4 L401.97 392.46 L402.97 392.4 L403.97 392.44 L404.97 392.38 L405.97 392.43 L406.97 392.44 L407.96 392.51 L408.96 392.55 L409.96 392.68 L410.96 392.72 L411.96 392.53 L412.96 392.44 L413.96 392.28 L414.96 392.43 L415.95 392.41 L416.95 392.47 L417.95 392.43 L418.95 392.38 L419.95 392.37 L420.95 392.28 L421.95 392.45 L422.94 392.4 L423.94 392.44 L424.94 392.17 L425.94 392.09 L426.94 392.01 L427.94 392.17 L428.94 392.3 L429.93 392.36 L430.93 392.24 L431.93 392.28 L432.93 392.16 L433.93 392.12 L434.93 391.99 L435.93 391.95 L436.93 391.99 L437.92 391.98 L438.92 391.99 L439.92 391.95 L440.92 391.83 L441.92 391.73 L442.92 391.43 L443.92 391.28 L444.91 391.26 L445.91 391.3 L446.91 391.27 L447.91 391.21 L448.91 391.34 L449.91 391.22 L450.91 391.09 L451.91 390.94 L452.9 391 L453.9 390.87 L454.9 390.91 L455.9 390.75 L456.9 390.85 L457.9 390.65 L458.9 390.68 L459.89 390.67 L460.89 390.69 L461.89 390.63 L462.89 390.41 L463.89 390.29 L464.89 390.17 L465.89 390.36 L466.88 390.29 L467.88 390.22 L468.88 390.2 L469.88 390.41 L470.88 390.59 L471.88 390.57 L472.88 390.46 L473.88 390.5 L474.87 390.53 L475.87 390.67 L476.87 390.74 L477.87 390.88 L478.87 390.98 L479.87 391.09 L480.87 390.98 L481.86 391.02 L482.86 391.07 L483.86 391.23 L484.86 391.36 L485.86 391.42 L486.86 391.53 L487.86 391.61 L488.85 391.75 L489.85 391.97 L490.85 391.87 L491.85 391.91 L492.85 391.74 L493.85 391.92 L494.85 392.16 L495.85 392.19 L496.84 392.23 L497.84 392.15 L498.84 392.32 L499.84 392.45 L500.84 392.34 L501.84 392.44 L502.84 392.34 L503.83 392.4 L504.83 392.4 L505.83 392.52 L506.83 392.58 L507.83 392.51 L508.83 392.48 L509.83 392.55 L510.83 392.6 L511.82 392.56 L512.82 392.41 L513.82 392.52 L514.82 392.6 L515.82 392.67 L516.82 392.45 L517.82 392.36 L518.81 392.35 L519.81 392.21 L520.81 392.19 L521.81 392 L522.81 391.76 L523.81 391.17 L524.81 390.44 L525.8 389.57 L526.8 388.31 L527.8 386.82 L528.8 384.96 L529.8 382.7 L530.8 380.08 L531.8 377.2 L532.8 374.39 L533.79 371.59 L534.79 369.08 L535.79 366.92 L536.79 365.33 L537.79 364.22 L538.79 363.98 L539.79 364.4 L540.78 365.67 L541.78 367.41 L542.78 369.65 L543.78 372.4 L544.78 375.22 L545.78 378.37 L546.78 381.17 L547.77 383.99 L548.77 386.25 L549.77 388.25 L550.77 389.84 L551.77 391.06 L552.77 392.09 L553.77 392.7 L554.77 393.21 L555.76 393.36 L556.76 393.55 L557.76 393.57 L558.76 393.42 L559.76 392.98 L560.76 392.42 L561.76 391.75 L562.75 390.81 L563.75 389.41 L564.75 387.62 L565.75 385.5 L566.75 382.84 L567.75 379.91 L568.75 376.71 L569.75 373.21 L570.74 369.5 L571.74 365.79 L572.74 362.39 L573.74 359.35 L574.74 356.69 L575.74 354.79 L576.74 354.04 L577.73 354.15 L578.73 355.29 L579.73 357.13 L580.73 359.86 L581.73 363.14 L582.73 366.65 L583.73 370.49 L584.72 374.38 L585.72 378.17 L586.72 381.59 L587.72 384.62 L588.72 387.32 L589.72 389.56 L590.72 391.47 L591.72 392.96 L592.71 394.11 L593.71 394.9 L594.71 395.52 L595.71 395.96 L596.71 396.14 L597.71 396.17 L598.71 396.27 L599.7 396.39 L600.7 396.54 L601.7 396.43 L602.7 396.38 L603.7 396.4 L604.7 396.57 L605.7 396.6 L606.69 396.53 L607.69 396.59 L608.69 396.62 L609.69 396.53 L610.69 396.36 L611.69 396.37 L612.69 396.33 L613.69 396.38 L614.68 396.35 L615.68 396.47 L616.68 396.66 L617.68 396.69 L618.68 396.75 L619.68 396.67 L620.68 396.58 L621.67 396.53 L622.67 396.45 L623.67 396.58 L624.67 396.63 L625.67 396.6 L626.67 396.65 L627.67 396.57 L628.67 396.59 L629.66 396.51 L630.66 396.69 L631.66 396.7 L632.66 396.68 L633.66 396.65 L634.66 396.77 L635.66 396.83 L636.65 396.65 L637.65 396.49 L638.65 396.59 L639.65 396.61 L640.65 396.61 L641.65 396.59 L642.65 396.59 L643.64 396.64 L644.64 396.71 L645.64 396.79 L646.64 396.88 L647.64 396.77 L648.64 396.8 L649.64 396.71 L650.64 396.74 L651.63 396.73 L652.63 396.71 L653.63 396.56 L654.63 396.52 L655.63 396.54 L656.63 396.67 L657.63 396.59 L658.62 396.64 L659.62 396.66 L660.62 396.87 L661.62 396.95 L662.62 396.91 L663.62 396.85 L664.62 396.68 L665.61 396.74 L666.61 396.65 L667.61 396.78 L668.61 396.72 L669.61 396.7 L670.61 396.56 L671.61 396.62 L672.61 396.64 L673.6 396.74 L674.6 396.69 L675.6 396.54 L676.6 396.53" fill="none" stroke="#111" stroke-width="1.2" stroke-linejoin="round" />
<path d="M382 448.19 L383 448.25 L384 448.29 L385 448.52 L385.99 448.41 L386.99 448.6 L387.99 448.69 L388.99 448.85 L389.99 448.57 L390.99 448.36 L391.99 448.02 L392.99 448.03 L393.98 447.68 L394.98 448.09 L395.98 448.14 L396.98 448.57 L397.98 448.46 L398.98 448.38 L399.98 448.4 L400.97 448.39 L401.97 448.2 L402.97 448.43 L403.97 448.34 L404.97 448.67 L405.97 448.24 L406.97 448.13 L407.96 448.29 L408.96 448.37 L409.96 448.4 L410.96 448.21 L411.96 448.51 L412.96 448.2 L413.96 448.36 L414.96 448.18 L415.95 448.69 L416.95 448.3 L417.95 448.31 L418.95 448.41 L419.95 448.56 L420.95 448.41 L421.95 448.09 L422.94 448.02 L423.94 448.23 L424.94 448.33 L425.94 448.33 L426.94 448.32 L427.94 448.12 L428.94 447.96 L429.93 448.21 L430.93 448.27 L431.93 448.73 L432.93 448.33 L433.93 448.37 L434.93 448.18 L435.93 448.05 L436.93 447.93 L437.92 447.79 L438.92 447.83 L439.92 448.04 L440.92 448.34 L441.92 448.17 L442.92 447.88 L443.92 447.65 L444.91 447.85 L445.91 448.1 L446.91 447.8 L447.91 447.74 L448.91 447.48 L449.91 447.26 L450.91 447.14 L451.91 446.81 L452.9 447.04 L453.9 446.78 L454.9 446.87 L455.9 446.99 L456.9 447.17 L457.9 447.12 L458.9 446.7 L459.89 446.19 L460.89 446.16 L461.89 446.03 L462.89 445.85 L463.89 445.22 L464.89 444.95 L465.89 444.88 L466.88 445.09 L467.88 444.76 L468.88 444.47 L469.88 444.23 L470.88 444.23 L471.88 444.35 L472.88 444.3 L473.88 444 L474.87 443.34 L475.87 443.04 L476.87 442.94 L477.87 443.23 L478.87 442.7 L479.87 442.7 L480.87 442.6 L481.86 442.86 L482.86 442.9 L483.86 442.86 L484.86 442.95 L485.86 443.04 L486.86 443.21 L487.86 443.35 L488.85 443.2 L489.85 443.01 L490.85 442.91 L491.85 442.89 L492.85 442.74 L493.85 442.7 L494.85 442.76 L495.85 442.76 L496.84 442.47 L497.84 442.34 L498.84 442.2 L499.84 442.02 L500.84 441.75 L501.84 441.48 L502.84 441.57 L503.83 441.32 L504.83 441.33 L505.83 441.21 L506.83 441.2 L507.83 440.89 L508.83 440.08 L509.83 439.53 L510.83 439.07 L511.82 439.25 L512.82 439.25 L513.82 439.23 L514.82 438.87 L515.82 438.38 L516.82 438.03 L517.82 437.5 L518.81 437.12 L519.81 436.49 L520.81 435.8 L521.81 435.01 L522.81 434.53 L523.81 433.77 L524.81 432.43 L525.8 431.15 L526.8 429.85 L527.8 428.68 L528.8 426.76 L529.8 425.04 L530.8 423.39 L531.8 421.54 L532.8 419.82 L533.79 418.05 L534.79 416.7 L535.79 415.68 L536.79 415.23 L537.79 415.27 L538.79 416.01 L539.79 416.86 L540.78 418.74 L541.78 420.58 L542.78 422.97 L543.78 424.98 L544.78 427.1 L545.78 428.99 L546.78 431.24 L547.77 433.29 L548.77 435.47 L549.77 437.15 L550.77 438.51 L551.77 439.47 L552.77 440.38 L553.77 441.11 L554.77 441.77 L555.76 441.93 L556.76 442.48 L557.76 442.64 L558.76 443.25 L559.76 442.92 L560.76 442.71 L561.76 441.95 L562.75 441.2 L563.75 439.93 L564.75 438.26 L565.75 436.38 L566.75 434.32 L567.75 432.06 L568.75 429.42 L569.75 426.46 L570.74 423.31 L571.74 419.84 L572.74 416.9 L573.74 414.3 L574.74 412.65 L575.74 411.68 L576.74 411.32 L577.73 411.79 L578.73 413.13 L579.73 415.13 L580.73 417.84 L581.73 420.49 L582.73 424.03 L583.73 427.5 L584.72 431.36 L585.72 434.83 L586.72 437.97 L587.72 440.44 L588.72 442.4 L589.72 444.61 L590.72 446.36 L591.72 447.99 L592.71 448.91 L593.71 449.3 L594.71 449.9 L595.71 450.4 L596.71 451.33 L597.71 451.56 L598.71 451.77 L599.7 451.74 L600.7 451.96 L601.7 451.92 L602.7 452.16 L603.7 452.36 L604.7 452.51 L605.7 452.36 L606.69 452.18 L607.69 451.95 L608.69 452.15 L609.69 452.33 L610.69 452.4 L611.69 452.37 L612.69 452.03 L613.69 452.23 L614.68 452.32 L615.68 452.49 L616.68 452.43 L617.68 452.1 L618.68 451.94 L619.68 451.92 L620.68 452.35 L621.67 452.19 L622.67 452.43 L623.67 452.19 L624.67 452.25 L625.67 452.31 L626.67 452.48 L627.67 452.6 L628.67 452.42 L629.66 452.47 L630.66 452.4 L631.66 452.56 L632.66 452.34 L633.66 452.69 L634.66 452.41 L635.66 452.3 L636.65 452.09 L637.65 452.1 L638.65 452.36 L639.65 452.2 L640.65 452.13 L641.65 452.16 L642.65 452.36 L643.64 452.43 L644.64 452.46 L645.64 452.31 L646.64 452.7 L647.64 452.52 L648.64 452.78 L649.64 452.45 L650.64 452.72 L651.63 452.6 L652.63 452.51 L653.63 452.39 L654.63 452.55 L655.63 452.65 L656.63 452.93 L657.63 452.95 L658.62 453.18 L659.62 453.07 L660.62 453.11 L661.62 452.88 L662.62 452.93 L663.62 452.72 L664.62 452.77 L665.61 452.73 L666.61 452.93 L667.61 452.75 L668.61 452.49 L669.61 452.22 L670.61 452.56 L671.61 452.55 L672.61 452.69 L673.6 452.41 L674.6 452.39 L675.6 452.49 L676.6 452.44" fill="none" stroke="#111" stroke-width="1.4" stroke-linejoin="round" />
<path d="M382 448.28 L383 448.28 L384 448.28 L385 448.28 L385.99 448.28 L386.99 448.28 L387.99 448.28 L388.99 448.28 L389.99 448.28 L390.99 448.28 L391.99 448.28 L392.99 448.28 L393.98 448.28 L394.98 448.28 L395.98 448.28 L396.98 448.28 L397.98 448.28 L398.98 448.28 L399.98 448.28 L400.97 448.28 L401.97 448.28 L402.97 448.28 L403.97 448.28 L404.97 448.28 L405.97 448.28 L406.97 448.28 L407.96 448.28 L408.96 448.28 L409.96 448.28 L410.96 448.27 L411.96 448.27 L412.96 448.27 L413.96 448.27 L414.96 448.27 L415.95 448.27 L416.95 448.27 L417.95 448.27 L418.95 448.27 L419.95 448.26 L420.95 448.26 L421.95 448.26 L422.94 448.26 L423.94 448.25 L424.94 448.25 L425.94 448.24 L426.94 448.24 L427.94 448.23 L428.94 448.22 L429.93 448.21 L430.93 448.2 L431.93 448.19 L432.93 448.18 L433.93 448.16 L434.93 448.14 L435.93 448.12 L436.93 448.1 L437.92 448.07 L438.92 448.04 L439.92 448.01 L440.92 447.97 L441.92 447.93 L442.92 447.89 L443.92 447.84 L444.91 447.78 L445.91 447.72 L446.91 447.65 L447.91 447.58 L448.91 447.5 L449.91 447.42 L450.91 447.32 L451.91 447.22 L452.9 447.12 L453.9 447 L454.9 446.88 L455.9 446.75 L456.9 446.62 L457.9 446.48 L458.9 446.33 L459.89 446.17 L460.89 446.01 L461.89 445.85 L462.89 445.68 L463.89 445.51 L464.89 445.33 L465.89 445.16 L466.88 444.98 L467.88 444.8 L468.88 444.62 L469.88 444.45 L470.88 444.28 L471.88 444.12 L472.88 443.96 L473.88 443.8 L474.87 443.66 L475.87 443.53 L476.87 443.4 L477.87 443.29 L478.87 443.18 L479.87 443.09 L480.87 443.01 L481.86 442.94 L482.86 442.89 L483.86 442.84 L484.86 442.81 L485.86 442.78 L486.86 442.76 L487.86 442.75 L488.85 442.74 L489.85 442.74 L490.85 442.73 L491.85 442.72 L492.85 442.71 L493.85 442.69 L494.85 442.66 L495.85 442.61 L496.84 442.55 L497.84 442.48 L498.84 442.38 L499.84 442.26 L500.84 442.12 L501.84 441.96 L502.84 441.77 L503.83 441.57 L504.83 441.34 L505.83 441.09 L506.83 440.83 L507.83 440.55 L508.83 440.26 L509.83 439.96 L510.83 439.66 L511.82 439.35 L512.82 439.04 L513.82 438.73 L514.82 438.41 L515.82 438.08 L516.82 437.73 L517.82 437.35 L518.81 436.93 L519.81 436.44 L520.81 435.88 L521.81 435.22 L522.81 434.44 L523.81 433.54 L524.81 432.48 L525.8 431.28 L526.8 429.94 L527.8 428.45 L528.8 426.86 L529.8 425.18 L530.8 423.46 L531.8 421.75 L532.8 420.13 L533.79 418.67 L534.79 417.47 L535.79 416.64 L536.79 416.26 L537.79 416.41 L538.79 417.09 L539.79 418.29 L540.78 419.93 L541.78 421.92 L542.78 424.16 L543.78 426.56 L544.78 429.03 L545.78 431.49 L546.78 433.9 L547.77 436.18 L548.77 438.31 L549.77 440.24 L550.77 441.96 L551.77 443.45 L552.77 444.71 L553.77 445.73 L554.77 446.53 L555.76 447.1 L556.76 447.46 L557.76 447.59 L558.76 447.48 L559.76 447.14 L560.76 446.52 L561.76 445.62 L562.75 444.4 L563.75 442.85 L564.75 440.94 L565.75 438.68 L566.75 436.08 L567.75 433.18 L568.75 430.05 L569.75 426.79 L570.74 423.5 L571.74 420.33 L572.74 417.43 L573.74 414.97 L574.74 413.08 L575.74 411.91 L576.74 411.54 L577.73 412 L578.73 413.27 L579.73 415.26 L580.73 417.84 L581.73 420.86 L582.73 424.15 L583.73 427.58 L584.72 430.98 L585.72 434.25 L586.72 437.3 L587.72 440.04 L588.72 442.46 L589.72 444.52 L590.72 446.25 L591.72 447.66 L592.71 448.79 L593.71 449.67 L594.71 450.35 L595.71 450.86 L596.71 451.24 L597.71 451.51 L598.71 451.72 L599.7 451.86 L600.7 451.97 L601.7 452.05 L602.7 452.11 L603.7 452.15 L604.7 452.19 L605.7 452.22 L606.69 452.24 L607.69 452.26 L608.69 452.28 L609.69 452.3 L610.69 452.31 L611.69 452.33 L612.69 452.34 L613.69 452.35 L614.68 452.36 L615.68 452.37 L616.68 452.38 L617.68 452.39 L618.68 452.4 L619.68 452.41 L620.68 452.42 L621.67 452.42 L622.67 452.43 L623.67 452.44 L624.67 452.44 L625.67 452.45 L626.67 452.45 L627.67 452.46 L628.67 452.46 L629.66 452.47 L630.66 452.47 L631.66 452.48 L632.66 452.48 L633.66 452.48 L634.66 452.49 L635.66 452.49 L636.65 452.49 L637.65 452.5 L638.65 452.5 L639.65 452.5 L640.65 452.51 L641.65 452.51 L642.65 452.51 L643.64 452.51 L644.64 452.52 L645.64 452.52 L646.64 452.52 L647.64 452.52 L648.64 452.52 L649.64 452.53 L650.64 452.53 L651.63 452.53 L652.63 452.53 L653.63 452.53 L654.63 452.53 L655.63 452.54 L656.63 452.54 L657.63 452.54 L658.62 452.54 L659.62 452.54 L660.62 452.54 L661.62 452.54 L662.62 452.55 L663.62 452.55 L664.62 452.55 L665.61 452.55 L666.61 452.55 L667.61 452.55 L668.61 452.55 L669.61 452.55 L670.61 452.55 L671.61 452.56 L672.61 452.56 L673.6 452.56 L674.6 452.56 L675.6 452.56 L676.6 452.56" fill="none" stroke="#111" stroke-width="1.4" stroke-linejoin="round" />
<path d="M442.92 448.18 L443.92 448.16 L444.91 448.15 L445.91 448.13 L446.91 448.11 L447.91 448.09 L448.91 448.07 L449.91 448.04 L450.91 448.02 L451.91 447.99 L452.9 447.96 L453.9 447.93 L454.9 447.9 L455.9 447.86 L456.9 447.83 L457.9 447.79 L458.9 447.76 L459.89 447.72 L460.89 447.68 L461.89 447.64 L462.89 447.6 L463.89 447.56 L464.89 447.52 L465.89 447.48 L466.88 447.44 L467.88 447.4 L468.88 447.36 L469.88 447.32 L470.88 447.29 L471.88 447.25 L472.88 447.22 L473.88 447.19 L474.87 447.17 L475.87 447.14 L476.87 447.12 L477.87 447.1 L478.87 447.09 L479.87 447.08 L480.87 447.07 L481.86 447.07 L482.86 447.07 L483.86 447.08 L484.86 447.09 L485.86 447.11 L486.86 447.12 L487.86 447.15 L488.85 447.17 L489.85 447.21 L490.85 447.24 L491.85 447.28 L492.85 447.32 L493.85 447.37 L494.85 447.41 L495.85 447.46 L496.84 447.52 L497.84 447.57 L498.84 447.63 L499.84 447.69 L500.84 447.75 L501.84 447.81 L502.84 447.87 L503.83 447.94 L504.83 448 L505.83 448.07 L506.83 448.13 L507.83 448.2 L508.83 448.26 L509.83 448.32 L510.83 448.39 L511.82 448.45 L512.82 448.51 L513.82 448.58 L514.82 448.64 L515.82 448.7 L516.82 448.75 L517.82 448.81 L518.81 448.87 L519.81 448.93 L520.81 448.98 L521.81 449.04 L522.81 449.09 L523.81 449.15 L524.81 449.2 L525.8 449.26 L526.8 449.32 L527.8 449.38" fill="none" stroke="#2e8b2e" stroke-width="1.15" stroke-linejoin="round" />
<path d="M437.92 448.18 L438.92 448.16 L439.92 448.14 L440.92 448.12 L441.92 448.09 L442.92 448.06 L443.92 448.03 L444.91 447.99 L445.91 447.95 L446.91 447.9 L447.91 447.86 L448.91 447.8 L449.91 447.74 L450.91 447.68 L451.91 447.61 L452.9 447.53 L453.9 447.45 L454.9 447.37 L455.9 447.28 L456.9 447.18 L457.9 447.08 L458.9 446.98 L459.89 446.87 L460.89 446.75 L461.89 446.63 L462.89 446.51 L463.89 446.39 L464.89 446.26 L465.89 446.13 L466.88 446.01 L467.88 445.88 L468.88 445.75 L469.88 445.63 L470.88 445.5 L471.88 445.39 L472.88 445.27 L473.88 445.17 L474.87 445.06 L475.87 444.97 L476.87 444.89 L477.87 444.81 L478.87 444.74 L479.87 444.69 L480.87 444.65 L481.86 444.61 L482.86 444.59 L483.86 444.59 L484.86 444.59 L485.86 444.61 L486.86 444.64 L487.86 444.68 L488.85 444.74 L489.85 444.8 L490.85 444.88 L491.85 444.97 L492.85 445.07 L493.85 445.18 L494.85 445.29 L495.85 445.42 L496.84 445.55 L497.84 445.68 L498.84 445.82 L499.84 445.97 L500.84 446.12 L501.84 446.27 L502.84 446.42 L503.83 446.57 L504.83 446.72 L505.83 446.87 L506.83 447.02 L507.83 447.17 L508.83 447.31 L509.83 447.45 L510.83 447.59 L511.82 447.72 L512.82 447.85 L513.82 447.97 L514.82 448.09 L515.82 448.21 L516.82 448.31 L517.82 448.42 L518.81 448.52 L519.81 448.62 L520.81 448.71 L521.81 448.8 L522.81 448.88 L523.81 448.96 L524.81 449.04 L525.8 449.12 L526.8 449.2 L527.8 449.27 L528.8 449.35 L529.8 449.43 L530.8 449.51 L531.8 449.59" fill="none" stroke="#3cd8e0" stroke-width="1.3" stroke-linejoin="round" />
<path d="M483.86 448.44 L484.86 448.42 L485.86 448.39 L486.86 448.36 L487.86 448.31 L488.85 448.25 L489.85 448.18 L490.85 448.09 L491.85 447.99 L492.85 447.87 L493.85 447.73 L494.85 447.57 L495.85 447.39 L496.84 447.18 L497.84 446.95 L498.84 446.69 L499.84 446.41 L500.84 446.1 L501.84 445.76 L502.84 445.41 L503.83 445.03 L504.83 444.63 L505.83 444.22 L506.83 443.79 L507.83 443.36 L508.83 442.93 L509.83 442.5 L510.83 442.08 L511.82 441.68 L512.82 441.3 L513.82 440.95 L514.82 440.63 L515.82 440.36 L516.82 440.13 L517.82 439.95 L518.81 439.82 L519.81 439.75 L520.81 439.74 L521.81 439.79 L522.81 439.9 L523.81 440.06 L524.81 440.29 L525.8 440.56 L526.8 440.89 L527.8 441.26 L528.8 441.67 L529.8 442.11 L530.8 442.59 L531.8 443.08 L532.8 443.59 L533.79 444.11 L534.79 444.63 L535.79 445.14 L536.79 445.65 L537.79 446.15 L538.79 446.63 L539.79 447.08 L540.78 447.51 L541.78 447.91 L542.78 448.29 L543.78 448.63 L544.78 448.94 L545.78 449.22 L546.78 449.47 L547.77 449.69 L548.77 449.89 L549.77 450.05 L550.77 450.2 L551.77 450.33 L552.77 450.43 L553.77 450.52 L554.77 450.6 L555.76 450.66 L556.76 450.72 L557.76 450.76" fill="none" stroke="#3cd8e0" stroke-width="1.3" stroke-linejoin="round" />
<path d="M494.85 448.6 L495.85 448.61 L496.84 448.62 L497.84 448.62 L498.84 448.63 L499.84 448.64 L500.84 448.65 L501.84 448.65 L502.84 448.66 L503.83 448.66 L504.83 448.67 L505.83 448.67 L506.83 448.67 L507.83 448.67 L508.83 448.66 L509.83 448.65 L510.83 448.63 L511.82 448.6 L512.82 448.54 L513.82 448.47 L514.82 448.36 L515.82 448.21 L516.82 448 L517.82 447.72 L518.81 447.35 L519.81 446.87 L520.81 446.26 L521.81 445.5 L522.81 444.58 L523.81 443.47 L524.81 442.17 L525.8 440.68 L526.8 439.01 L527.8 437.17 L528.8 435.19 L529.8 433.13 L530.8 431.03 L531.8 428.97 L532.8 427.02 L533.79 425.26 L534.79 423.77 L535.79 422.63 L536.79 421.91 L537.79 421.65 L538.79 421.86 L539.79 422.54 L540.78 423.65 L541.78 425.14 L542.78 426.93 L543.78 428.93 L544.78 431.07 L545.78 433.27 L546.78 435.45 L547.77 437.56 L548.77 439.54 L549.77 441.36 L550.77 443 L551.77 444.43 L552.77 445.67 L553.77 446.72 L554.77 447.59 L555.76 448.3 L556.76 448.86 L557.76 449.31 L558.76 449.66 L559.76 449.94 L560.76 450.14 L561.76 450.3 L562.75 450.43 L563.75 450.53 L564.75 450.61 L565.75 450.68 L566.75 450.74 L567.75 450.8 L568.75 450.87 L569.75 450.93 L570.74 451.01 L571.74 451.08 L572.74 451.16 L573.74 451.25 L574.74 451.35 L575.74 451.44 L576.74 451.54 L577.73 451.64 L578.73 451.74 L579.73 451.83 L580.73 451.92 L581.73 452.01" fill="none" stroke="#e3262e" stroke-width="1.15" stroke-linejoin="round" />
<path d="M529.8 449.48 L530.8 449.53 L531.8 449.58 L532.8 449.64 L533.79 449.7 L534.79 449.76 L535.79 449.83 L536.79 449.9 L537.79 449.96 L538.79 450.03 L539.79 450.09 L540.78 450.15 L541.78 450.21 L542.78 450.26 L543.78 450.31 L544.78 450.35 L545.78 450.38 L546.78 450.41 L547.77 450.42 L548.77 450.43 L549.77 450.43 L550.77 450.41 L551.77 450.38 L552.77 450.32 L553.77 450.24 L554.77 450.11 L555.76 449.94 L556.76 449.68 L557.76 449.33 L558.76 448.86 L559.76 448.22 L560.76 447.39 L561.76 446.32 L562.75 444.97 L563.75 443.33 L564.75 441.35 L565.75 439.03 L566.75 436.39 L567.75 433.46 L568.75 430.31 L569.75 427.02 L570.74 423.72 L571.74 420.54 L572.74 417.63 L573.74 415.15 L574.74 413.26 L575.74 412.08 L576.74 411.7 L577.73 412.15 L578.73 413.41 L579.73 415.39 L580.73 417.97 L581.73 420.98 L582.73 424.27 L583.73 427.69 L584.72 431.09 L585.72 434.36 L586.72 437.4 L587.72 440.14 L588.72 442.55 L589.72 444.61 L590.72 446.34 L591.72 447.75 L592.71 448.87 L593.71 449.75 L594.71 450.42 L595.71 450.93 L596.71 451.31 L597.71 451.58 L598.71 451.78 L599.7 451.93 L600.7 452.03 L601.7 452.11 L602.7 452.16 L603.7 452.21 L604.7 452.24 L605.7 452.27 L606.69 452.29 L607.69 452.31 L608.69 452.33 L609.69 452.34 L610.69 452.36 L611.69 452.37 L612.69 452.38 L613.69 452.39 L614.68 452.4 L615.68 452.41 L616.68 452.42 L617.68 452.43 L618.68 452.44 L619.68 452.44 L620.68 452.45 L621.67 452.46 L622.67 452.46 L623.67 452.47" fill="none" stroke="#e3262e" stroke-width="1.15" stroke-linejoin="round" />
<path d="M382 448.3 L383 448.3 L384 448.3 L385 448.3 L385.99 448.3 L386.99 448.3 L387.99 448.3 L388.99 448.3 L389.99 448.3 L390.99 448.3 L391.99 448.3 L392.99 448.3 L393.98 448.3 L394.98 448.3 L395.98 448.3 L396.98 448.3 L397.98 448.3 L398.98 448.3 L399.98 448.3 L400.97 448.3 L401.97 448.3 L402.97 448.3 L403.97 448.3 L404.97 448.3 L405.97 448.3 L406.97 448.3 L407.96 448.3 L408.96 448.3 L409.96 448.3 L410.96 448.3 L411.96 448.3 L412.96 448.3 L413.96 448.3 L414.96 448.3 L415.95 448.3 L416.95 448.3 L417.95 448.3 L418.95 448.3 L419.95 448.3 L420.95 448.3 L421.95 448.3 L422.94 448.3 L423.94 448.3 L424.94 448.3 L425.94 448.3 L426.94 448.3 L427.94 448.3 L428.94 448.3 L429.93 448.3 L430.93 448.3 L431.93 448.3 L432.93 448.3 L433.93 448.3 L434.93 448.3 L435.93 448.3 L436.93 448.31 L437.92 448.31 L438.92 448.31 L439.92 448.31 L440.92 448.31 L441.92 448.31 L442.92 448.31 L443.92 448.31 L444.91 448.31 L445.91 448.31 L446.91 448.31 L447.91 448.32 L448.91 448.32 L449.91 448.32 L450.91 448.32 L451.91 448.32 L452.9 448.33 L453.9 448.33 L454.9 448.33 L455.9 448.34 L456.9 448.34 L457.9 448.34 L458.9 448.35 L459.89 448.35 L460.89 448.36 L461.89 448.36 L462.89 448.37 L463.89 448.37 L464.89 448.38 L465.89 448.39 L466.88 448.39 L467.88 448.4 L468.88 448.41 L469.88 448.42 L470.88 448.43 L471.88 448.44 L472.88 448.45 L473.88 448.46 L474.87 448.47 L475.87 448.48 L476.87 448.49 L477.87 448.5 L478.87 448.51 L479.87 448.53 L480.87 448.54 L481.86 448.55 L482.86 448.56 L483.86 448.58 L484.86 448.59 L485.86 448.6 L486.86 448.62 L487.86 448.63 L488.85 448.64 L489.85 448.66 L490.85 448.67 L491.85 448.69 L492.85 448.7 L493.85 448.71 L494.85 448.73 L495.85 448.74 L496.84 448.75 L497.84 448.77 L498.84 448.78 L499.84 448.8 L500.84 448.81 L501.84 448.83 L502.84 448.84 L503.83 448.86 L504.83 448.88 L505.83 448.89 L506.83 448.91 L507.83 448.93 L508.83 448.95 L509.83 448.97 L510.83 448.99 L511.82 449.01 L512.82 449.03 L513.82 449.06 L514.82 449.08 L515.82 449.1 L516.82 449.13 L517.82 449.16 L518.81 449.18 L519.81 449.21 L520.81 449.24 L521.81 449.27 L522.81 449.3 L523.81 449.34 L524.81 449.37 L525.8 449.41 L526.8 449.45 L527.8 449.5 L528.8 449.55 L529.8 449.6 L530.8 449.65 L531.8 449.71 L532.8 449.78 L533.79 449.84 L534.79 449.91 L535.79 449.99 L536.79 450.06 L537.79 450.14 L538.79 450.21 L539.79 450.28 L540.78 450.36 L541.78 450.42 L542.78 450.49 L543.78 450.55 L544.78 450.6 L545.78 450.65 L546.78 450.7 L547.77 450.73 L548.77 450.77 L549.77 450.8 L550.77 450.82 L551.77 450.84 L552.77 450.86 L553.77 450.87 L554.77 450.88 L555.76 450.89 L556.76 450.9 L557.76 450.91 L558.76 450.92 L559.76 450.93 L560.76 450.93 L561.76 450.94 L562.75 450.96 L563.75 450.97 L564.75 450.99 L565.75 451.01 L566.75 451.04 L567.75 451.08 L568.75 451.12 L569.75 451.16 L570.74 451.22 L571.74 451.28 L572.74 451.36 L573.74 451.43 L574.74 451.52 L575.74 451.6 L576.74 451.7 L577.73 451.79 L578.73 451.88 L579.73 451.97 L580.73 452.05 L581.73 452.13 L582.73 452.2 L583.73 452.26 L584.72 452.32 L585.72 452.37 L586.72 452.41 L587.72 452.45 L588.72 452.47 L589.72 452.5 L590.72 452.52 L591.72 452.53 L592.71 452.54 L593.71 452.55 L594.71 452.56 L595.71 452.56 L596.71 452.57 L597.71 452.57 L598.71 452.57 L599.7 452.57 L600.7 452.57 L601.7 452.58 L602.7 452.58 L603.7 452.58 L604.7 452.58 L605.7 452.58 L606.69 452.58 L607.69 452.58 L608.69 452.58 L609.69 452.58 L610.69 452.58 L611.69 452.58 L612.69 452.59 L613.69 452.59 L614.68 452.59 L615.68 452.59 L616.68 452.59 L617.68 452.59 L618.68 452.59 L619.68 452.59 L620.68 452.59 L621.67 452.59 L622.67 452.59 L623.67 452.59 L624.67 452.59 L625.67 452.59 L626.67 452.59 L627.67 452.59 L628.67 452.59 L629.66 452.59 L630.66 452.59 L631.66 452.59 L632.66 452.59 L633.66 452.59 L634.66 452.59 L635.66 452.59 L636.65 452.59 L637.65 452.59 L638.65 452.59 L639.65 452.59 L640.65 452.59 L641.65 452.6 L642.65 452.6 L643.64 452.6 L644.64 452.6 L645.64 452.6 L646.64 452.6 L647.64 452.6 L648.64 452.6 L649.64 452.6 L650.64 452.6 L651.63 452.6 L652.63 452.6 L653.63 452.6 L654.63 452.6 L655.63 452.6 L656.63 452.6 L657.63 452.6 L658.62 452.6 L659.62 452.6 L660.62 452.6 L661.62 452.6 L662.62 452.6 L663.62 452.6 L664.62 452.6 L665.61 452.6 L666.61 452.6 L667.61 452.6 L668.61 452.6 L669.61 452.6 L670.61 452.6 L671.61 452.6 L672.61 452.6 L673.6 452.6 L674.6 452.6 L675.6 452.6 L676.6 452.6" fill="none" stroke="#3cd8e0" stroke-width="1.2" stroke-linejoin="round" />
<path d="M382 512.22 L383 512.57 L384 512.3 L385 512.04 L385.99 511.63 L386.99 511.78 L387.99 511.86 L388.99 511.8 L389.99 511.89 L390.99 511.7 L391.99 511.97 L392.99 511.8 L393.98 512.05 L394.98 512.04 L395.98 512.16 L396.98 512.02 L397.98 511.84 L398.98 511.69 L399.98 512.01 L400.97 512.21 L401.97 512.66 L402.97 512.49 L403.97 512.45 L404.97 512.08 L405.97 511.98 L406.97 511.69 L407.96 511.93 L408.96 512.11 L409.96 512.57 L410.96 512.63 L411.96 512.33 L412.96 511.72 L413.96 511.61 L414.96 511.8 L415.95 512.02 L416.95 511.76 L417.95 511.83 L418.95 512.24 L419.95 512.43 L420.95 512.19 L421.95 512.03 L422.94 512.11 L423.94 512.01 L424.94 511.97 L425.94 511.63 L426.94 511.78 L427.94 511.71 L428.94 511.82 L429.93 511.55 L430.93 511.48 L431.93 511.2 L432.93 511.48 L433.93 511.06 L434.93 511.13 L435.93 510.88 L436.93 510.98 L437.92 510.99 L438.92 511.01 L439.92 511.29 L440.92 511.21 L441.92 511.22 L442.92 510.64 L443.92 510.6 L444.91 510.43 L445.91 510.67 L446.91 510.57 L447.91 510.14 L448.91 509.57 L449.91 509.07 L450.91 508.94 L451.91 509.19 L452.9 508.83 L453.9 508.76 L454.9 508.53 L455.9 508.64 L456.9 508.26 L457.9 507.81 L458.9 507.76 L459.89 507.95 L460.89 507.92 L461.89 507.76 L462.89 507.74 L463.89 507.61 L464.89 507.77 L465.89 507.33 L466.88 507.61 L467.88 507.04 L468.88 507.36 L469.88 507.06 L470.88 507.04 L471.88 506.87 L472.88 506.98 L473.88 507.35 L474.87 507.41 L475.87 507.37 L476.87 507.32 L477.87 507.42 L478.87 507.74 L479.87 507.98 L480.87 508.2 L481.86 508.18 L482.86 508.46 L483.86 508.87 L484.86 509.32 L485.86 509.06 L486.86 508.71 L487.86 508.35 L488.85 508.61 L489.85 509.17 L490.85 509.39 L491.85 509.56 L492.85 509.32 L493.85 509.16 L494.85 509.02 L495.85 508.98 L496.84 509.17 L497.84 509.3 L498.84 509.32 L499.84 509.38 L500.84 509.12 L501.84 509.27 L502.84 509.28 L503.83 509.3 L504.83 508.94 L505.83 508.58 L506.83 508.23 L507.83 508.23 L508.83 508.11 L509.83 508.38 L510.83 508.3 L511.82 507.94 L512.82 507.37 L513.82 506.97 L514.82 506.8 L515.82 506.52 L516.82 505.96 L517.82 505.6 L518.81 504.85 L519.81 504.11 L520.81 503.21 L521.81 502.1 L522.81 500.55 L523.81 498.71 L524.81 496.97 L525.8 494.99 L526.8 492.63 L527.8 490.28 L528.8 487.57 L529.8 485.41 L530.8 483.16 L531.8 481.53 L532.8 479.88 L533.79 479.43 L534.79 479.47 L535.79 480.16 L536.79 480.8 L537.79 481.44 L538.79 482.2 L539.79 482.75 L540.78 483.68 L541.78 484.21 L542.78 484.99 L543.78 485.36 L544.78 486.12 L545.78 486.73 L546.78 487.89 L547.77 489.64 L548.77 491.5 L549.77 493.54 L550.77 495.29 L551.77 497.24 L552.77 498.88 L553.77 500.47 L554.77 501.96 L555.76 503.23 L556.76 504.26 L557.76 504.93 L558.76 505.6 L559.76 505.9 L560.76 506.21 L561.76 506.55 L562.75 506.78 L563.75 506.28 L564.75 505.57 L565.75 504.47 L566.75 502.9 L567.75 500.69 L568.75 498.27 L569.75 495.85 L570.74 493.04 L571.74 489.89 L572.74 486.48 L573.74 483.27 L574.74 479.92 L575.74 477.12 L576.74 474.67 L577.73 473.29 L578.73 472.58 L579.73 472.64 L580.73 473.22 L581.73 474.11 L582.73 475.02 L583.73 475.84 L584.72 476.71 L585.72 477.74 L586.72 478.5 L587.72 479.46 L588.72 480.27 L589.72 481.52 L590.72 482.7 L591.72 484.84 L592.71 486.73 L593.71 489.47 L594.71 491.74 L595.71 495.07 L596.71 497.54 L597.71 500.49 L598.71 502.67 L599.7 505.2 L600.7 506.76 L601.7 508.3 L602.7 509.48 L603.7 510.82 L604.7 511.54 L605.7 511.75 L606.69 511.99 L607.69 512.3 L608.69 512.84 L609.69 513 L610.69 513.07 L611.69 513.13 L612.69 513.5 L613.69 513.82 L614.68 513.85 L615.68 513.77 L616.68 513.5 L617.68 513.51 L618.68 513.44 L619.68 513.64 L620.68 513.66 L621.67 513.7 L622.67 514.07 L623.67 514.18 L624.67 514.27 L625.67 514.27 L626.67 513.91 L627.67 513.82 L628.67 513.71 L629.66 513.88 L630.66 513.88 L631.66 513.96 L632.66 514.22 L633.66 514.33 L634.66 514.47 L635.66 514.17 L636.65 514.32 L637.65 513.8 L638.65 514.17 L639.65 514.1 L640.65 514.33 L641.65 514.23 L642.65 514.28 L643.64 514.33 L644.64 514.51 L645.64 514.55 L646.64 514.58 L647.64 514.73 L648.64 514.51 L649.64 514.12 L650.64 513.57 L651.63 513.61 L652.63 513.71 L653.63 513.94 L654.63 513.99 L655.63 514.43 L656.63 514.31 L657.63 514.37 L658.62 513.92 L659.62 514.26 L660.62 513.85 L661.62 514.31 L662.62 514.13 L663.62 514.81 L664.62 514.61 L665.61 514.51 L666.61 514.1 L667.61 513.96 L668.61 514.16 L669.61 514.42 L670.61 514.57 L671.61 514.48 L672.61 514.25 L673.6 514.48 L674.6 514.38 L675.6 514.55 L676.6 514.14" fill="none" stroke="#111" stroke-width="1.4" stroke-linejoin="round" />
<path d="M382 512.06 L383 512.06 L384 512.06 L385 512.06 L385.99 512.06 L386.99 512.06 L387.99 512.06 L388.99 512.06 L389.99 512.06 L390.99 512.06 L391.99 512.06 L392.99 512.06 L393.98 512.06 L394.98 512.06 L395.98 512.06 L396.98 512.06 L397.98 512.05 L398.98 512.05 L399.98 512.05 L400.97 512.05 L401.97 512.05 L402.97 512.05 L403.97 512.05 L404.97 512.05 L405.97 512.04 L406.97 512.04 L407.96 512.04 L408.96 512.04 L409.96 512.03 L410.96 512.03 L411.96 512.03 L412.96 512.02 L413.96 512.02 L414.96 512.01 L415.95 512 L416.95 511.99 L417.95 511.98 L418.95 511.97 L419.95 511.96 L420.95 511.94 L421.95 511.93 L422.94 511.91 L423.94 511.89 L424.94 511.86 L425.94 511.83 L426.94 511.8 L427.94 511.77 L428.94 511.73 L429.93 511.68 L430.93 511.64 L431.93 511.58 L432.93 511.52 L433.93 511.46 L434.93 511.39 L435.93 511.31 L436.93 511.23 L437.92 511.13 L438.92 511.04 L439.92 510.93 L440.92 510.82 L441.92 510.7 L442.92 510.57 L443.92 510.44 L444.91 510.3 L445.91 510.16 L446.91 510 L447.91 509.85 L448.91 509.69 L449.91 509.52 L450.91 509.35 L451.91 509.18 L452.9 509.01 L453.9 508.84 L454.9 508.67 L455.9 508.5 L456.9 508.34 L457.9 508.18 L458.9 508.03 L459.89 507.88 L460.89 507.74 L461.89 507.62 L462.89 507.5 L463.89 507.4 L464.89 507.31 L465.89 507.23 L466.88 507.16 L467.88 507.12 L468.88 507.08 L469.88 507.07 L470.88 507.07 L471.88 507.08 L472.88 507.11 L473.88 507.16 L474.87 507.22 L475.87 507.29 L476.87 507.38 L477.87 507.48 L478.87 507.59 L479.87 507.71 L480.87 507.84 L481.86 507.97 L482.86 508.11 L483.86 508.25 L484.86 508.4 L485.86 508.54 L486.86 508.69 L487.86 508.83 L488.85 508.96 L489.85 509.08 L490.85 509.2 L491.85 509.3 L492.85 509.39 L493.85 509.47 L494.85 509.53 L495.85 509.57 L496.84 509.59 L497.84 509.6 L498.84 509.58 L499.84 509.54 L500.84 509.48 L501.84 509.4 L502.84 509.3 L503.83 509.18 L504.83 509.05 L505.83 508.9 L506.83 508.74 L507.83 508.56 L508.83 508.37 L509.83 508.18 L510.83 507.97 L511.82 507.76 L512.82 507.52 L513.82 507.27 L514.82 506.98 L515.82 506.63 L516.82 506.22 L517.82 505.7 L518.81 505.06 L519.81 504.25 L520.81 503.24 L521.81 502 L522.81 500.53 L523.81 498.8 L524.81 496.84 L525.8 494.67 L526.8 492.37 L527.8 490.02 L528.8 487.72 L529.8 485.59 L530.8 483.76 L531.8 482.35 L532.8 481.43 L533.79 481.03 L534.79 481.09 L535.79 481.49 L536.79 482.09 L537.79 482.74 L538.79 483.37 L539.79 483.94 L540.78 484.43 L541.78 484.89 L542.78 485.35 L543.78 485.86 L544.78 486.49 L545.78 487.32 L546.78 488.42 L547.77 489.83 L548.77 491.55 L549.77 493.5 L550.77 495.62 L551.77 497.78 L552.77 499.91 L553.77 501.91 L554.77 503.72 L555.76 505.29 L556.76 506.59 L557.76 507.61 L558.76 508.34 L559.76 508.79 L560.76 508.96 L561.76 508.85 L562.75 508.45 L563.75 507.74 L564.75 506.7 L565.75 505.3 L566.75 503.53 L567.75 501.37 L568.75 498.84 L569.75 495.98 L570.74 492.83 L571.74 489.51 L572.74 486.15 L573.74 482.88 L574.74 479.9 L575.74 477.36 L576.74 475.44 L577.73 474.22 L578.73 473.72 L579.73 473.83 L580.73 474.37 L581.73 475.15 L582.73 475.99 L583.73 476.81 L584.72 477.57 L585.72 478.31 L586.72 479.02 L587.72 479.75 L588.72 480.55 L589.72 481.54 L590.72 482.85 L591.72 484.57 L592.71 486.72 L593.71 489.22 L594.71 491.96 L595.71 494.81 L596.71 497.63 L597.71 500.31 L598.71 502.78 L599.7 504.96 L600.7 506.84 L601.7 508.4 L602.7 509.67 L603.7 510.66 L604.7 511.43 L605.7 512.01 L606.69 512.44 L607.69 512.76 L608.69 512.99 L609.69 513.16 L610.69 513.3 L611.69 513.4 L612.69 513.48 L613.69 513.55 L614.68 513.6 L615.68 513.65 L616.68 513.7 L617.68 513.73 L618.68 513.77 L619.68 513.8 L620.68 513.83 L621.67 513.86 L622.67 513.89 L623.67 513.91 L624.67 513.93 L625.67 513.95 L626.67 513.97 L627.67 513.99 L628.67 514.01 L629.66 514.02 L630.66 514.04 L631.66 514.05 L632.66 514.06 L633.66 514.08 L634.66 514.09 L635.66 514.1 L636.65 514.11 L637.65 514.12 L638.65 514.13 L639.65 514.14 L640.65 514.15 L641.65 514.15 L642.65 514.16 L643.64 514.17 L644.64 514.18 L645.64 514.18 L646.64 514.19 L647.64 514.2 L648.64 514.2 L649.64 514.21 L650.64 514.21 L651.63 514.22 L652.63 514.22 L653.63 514.23 L654.63 514.23 L655.63 514.24 L656.63 514.24 L657.63 514.24 L658.62 514.25 L659.62 514.25 L660.62 514.26 L661.62 514.26 L662.62 514.26 L663.62 514.27 L664.62 514.27 L665.61 514.27 L666.61 514.27 L667.61 514.28 L668.61 514.28 L669.61 514.28 L670.61 514.28 L671.61 514.29 L672.61 514.29 L673.6 514.29 L674.6 514.29 L675.6 514.3 L676.6 514.3" fill="none" stroke="#111" stroke-width="1.4" stroke-linejoin="round" />
<path d="M429.93 511.97 L430.93 511.96 L431.93 511.94 L432.93 511.92 L433.93 511.9 L434.93 511.88 L435.93 511.86 L436.93 511.83 L437.92 511.8 L438.92 511.78 L439.92 511.75 L440.92 511.71 L441.92 511.68 L442.92 511.65 L443.92 511.61 L444.91 511.57 L445.91 511.53 L446.91 511.49 L447.91 511.45 L448.91 511.41 L449.91 511.36 L450.91 511.32 L451.91 511.27 L452.9 511.23 L453.9 511.19 L454.9 511.14 L455.9 511.1 L456.9 511.06 L457.9 511.02 L458.9 510.98 L459.89 510.94 L460.89 510.9 L461.89 510.87 L462.89 510.84 L463.89 510.82 L464.89 510.79 L465.89 510.77 L466.88 510.75 L467.88 510.74 L468.88 510.73 L469.88 510.73 L470.88 510.73 L471.88 510.73 L472.88 510.74 L473.88 510.75 L474.87 510.76 L475.87 510.78 L476.87 510.8 L477.87 510.83 L478.87 510.86 L479.87 510.89 L480.87 510.93 L481.86 510.97 L482.86 511.01 L483.86 511.05 L484.86 511.1 L485.86 511.14 L486.86 511.19 L487.86 511.24 L488.85 511.29 L489.85 511.34 L490.85 511.39 L491.85 511.44 L492.85 511.5 L493.85 511.55 L494.85 511.59 L495.85 511.64 L496.84 511.69 L497.84 511.74 L498.84 511.78 L499.84 511.82 L500.84 511.87 L501.84 511.91 L502.84 511.94 L503.83 511.98 L504.83 512.02 L505.83 512.05 L506.83 512.08 L507.83 512.11 L508.83 512.14 L509.83 512.17 L510.83 512.19 L511.82 512.22 L512.82 512.24 L513.82 512.26 L514.82 512.28" fill="none" stroke="#2e8b2e" stroke-width="1.15" stroke-linejoin="round" />
<path d="M425.94 511.98 L426.94 511.96 L427.94 511.94 L428.94 511.92 L429.93 511.89 L430.93 511.86 L431.93 511.82 L432.93 511.78 L433.93 511.74 L434.93 511.69 L435.93 511.64 L436.93 511.58 L437.92 511.52 L438.92 511.45 L439.92 511.38 L440.92 511.31 L441.92 511.22 L442.92 511.13 L443.92 511.04 L444.91 510.94 L445.91 510.84 L446.91 510.73 L447.91 510.62 L448.91 510.51 L449.91 510.39 L450.91 510.27 L451.91 510.15 L452.9 510.03 L453.9 509.91 L454.9 509.79 L455.9 509.67 L456.9 509.55 L457.9 509.44 L458.9 509.34 L459.89 509.23 L460.89 509.14 L461.89 509.05 L462.89 508.97 L463.89 508.91 L464.89 508.85 L465.89 508.8 L466.88 508.76 L467.88 508.73 L468.88 508.72 L469.88 508.72 L470.88 508.73 L471.88 508.75 L472.88 508.78 L473.88 508.83 L474.87 508.89 L475.87 508.95 L476.87 509.03 L477.87 509.12 L478.87 509.21 L479.87 509.31 L480.87 509.42 L481.86 509.54 L482.86 509.66 L483.86 509.78 L484.86 509.91 L485.86 510.03 L486.86 510.16 L487.86 510.29 L488.85 510.42 L489.85 510.54 L490.85 510.67 L491.85 510.79 L492.85 510.91 L493.85 511.02 L494.85 511.13 L495.85 511.23 L496.84 511.33 L497.84 511.42 L498.84 511.51 L499.84 511.6 L500.84 511.67 L501.84 511.75 L502.84 511.81 L503.83 511.87 L504.83 511.93 L505.83 511.98 L506.83 512.03 L507.83 512.08 L508.83 512.12 L509.83 512.15 L510.83 512.19 L511.82 512.22 L512.82 512.25 L513.82 512.27" fill="none" stroke="#3cd8e0" stroke-width="1.3" stroke-linejoin="round" />
<path d="M487.86 512.18 L488.85 512.15 L489.85 512.11 L490.85 512.07 L491.85 512.02 L492.85 511.97 L493.85 511.9 L494.85 511.82 L495.85 511.73 L496.84 511.63 L497.84 511.52 L498.84 511.39 L499.84 511.25 L500.84 511.1 L501.84 510.94 L502.84 510.76 L503.83 510.58 L504.83 510.39 L505.83 510.2 L506.83 510 L507.83 509.8 L508.83 509.6 L509.83 509.41 L510.83 509.22 L511.82 509.05 L512.82 508.9 L513.82 508.76 L514.82 508.64 L515.82 508.55 L516.82 508.48 L517.82 508.44 L518.81 508.43 L519.81 508.45 L520.81 508.49 L521.81 508.57 L522.81 508.67 L523.81 508.79 L524.81 508.94 L525.8 509.11 L526.8 509.3 L527.8 509.51 L528.8 509.73 L529.8 509.95 L530.8 510.18 L531.8 510.42 L532.8 510.65 L533.79 510.88 L534.79 511.1 L535.79 511.32 L536.79 511.52 L537.79 511.71 L538.79 511.88 L539.79 512.05 L540.78 512.2 L541.78 512.33 L542.78 512.46 L543.78 512.57 L544.78 512.67 L545.78 512.77 L546.78 512.85 L547.77 512.92 L548.77 512.99 L549.77 513.04" fill="none" stroke="#3cd8e0" stroke-width="1.3" stroke-linejoin="round" />
<path d="M483.86 512.17 L484.86 512.17 L485.86 512.17 L486.86 512.16 L487.86 512.16 L488.85 512.16 L489.85 512.16 L490.85 512.15 L491.85 512.15 L492.85 512.14 L493.85 512.14 L494.85 512.13 L495.85 512.12 L496.84 512.11 L497.84 512.11 L498.84 512.09 L499.84 512.08 L500.84 512.07 L501.84 512.06 L502.84 512.04 L503.83 512.02 L504.83 512.01 L505.83 511.98 L506.83 511.96 L507.83 511.93 L508.83 511.89 L509.83 511.85 L510.83 511.79 L511.82 511.72 L512.82 511.62 L513.82 511.48 L514.82 511.3 L515.82 511.04 L516.82 510.69 L517.82 510.22 L518.81 509.59 L519.81 508.77 L520.81 507.74 L521.81 506.45 L522.81 504.91 L523.81 503.09 L524.81 501.03 L525.8 498.76 L526.8 496.36 L527.8 493.91 L528.8 491.54 L529.8 489.39 L530.8 487.61 L531.8 486.36 L532.8 485.75 L533.79 485.85 L534.79 486.66 L535.79 488.08 L536.79 490 L537.79 492.26 L538.79 494.71 L539.79 497.21 L540.78 499.64 L541.78 501.92 L542.78 503.98 L543.78 505.79 L544.78 507.32 L545.78 508.59 L546.78 509.62 L547.77 510.43 L548.77 511.06 L549.77 511.53 L550.77 511.89 L551.77 512.16 L552.77 512.35 L553.77 512.5 L554.77 512.61 L555.76 512.7 L556.76 512.76 L557.76 512.82 L558.76 512.86 L559.76 512.9 L560.76 512.93 L561.76 512.96 L562.75 512.99 L563.75 513.01 L564.75 513.04 L565.75 513.06 L566.75 513.09 L567.75 513.11 L568.75 513.14 L569.75 513.16 L570.74 513.19 L571.74 513.22 L572.74 513.26 L573.74 513.3 L574.74 513.34 L575.74 513.38 L576.74 513.43 L577.73 513.47 L578.73 513.52 L579.73 513.57 L580.73 513.62 L581.73 513.66 L582.73 513.71" fill="none" stroke="#e3262e" stroke-width="1.15" stroke-linejoin="round" />
<path d="M506.83 512.25 L507.83 512.24 L508.83 512.24 L509.83 512.24 L510.83 512.24 L511.82 512.23 L512.82 512.23 L513.82 512.22 L514.82 512.22 L515.82 512.21 L516.82 512.21 L517.82 512.2 L518.81 512.19 L519.81 512.18 L520.81 512.17 L521.81 512.16 L522.81 512.14 L523.81 512.12 L524.81 512.1 L525.8 512.07 L526.8 512.02 L527.8 511.95 L528.8 511.86 L529.8 511.71 L530.8 511.5 L531.8 511.21 L532.8 510.79 L533.79 510.23 L534.79 509.49 L535.79 508.54 L536.79 507.37 L537.79 505.97 L538.79 504.36 L539.79 502.57 L540.78 500.66 L541.78 498.74 L542.78 496.9 L543.78 495.29 L544.78 494.04 L545.78 493.29 L546.78 493.12 L547.77 493.55 L548.77 494.55 L549.77 495.99 L550.77 497.74 L551.77 499.67 L552.77 501.65 L553.77 503.56 L554.77 505.34 L555.76 506.92 L556.76 508.28 L557.76 509.41 L558.76 510.32 L559.76 511.04 L560.76 511.58 L561.76 511.99 L562.75 512.28 L563.75 512.5 L564.75 512.66 L565.75 512.77 L566.75 512.86 L567.75 512.93 L568.75 512.99 L569.75 513.04 L570.74 513.08 L571.74 513.13 L572.74 513.18 L573.74 513.23 L574.74 513.27 L575.74 513.32 L576.74 513.38 L577.73 513.43 L578.73 513.48 L579.73 513.54 L580.73 513.59 L581.73 513.64 L582.73 513.69 L583.73 513.73 L584.72 513.78 L585.72 513.82" fill="none" stroke="#2424cc" stroke-width="1.15" stroke-linejoin="round" />
<path d="M520.81 512.32 L521.81 512.33 L522.81 512.33 L523.81 512.34 L524.81 512.35 L525.8 512.36 L526.8 512.38 L527.8 512.39 L528.8 512.41 L529.8 512.43 L530.8 512.45 L531.8 512.47 L532.8 512.5 L533.79 512.52 L534.79 512.55 L535.79 512.57 L536.79 512.59 L537.79 512.61 L538.79 512.63 L539.79 512.65 L540.78 512.66 L541.78 512.67 L542.78 512.69 L543.78 512.69 L544.78 512.7 L545.78 512.71 L546.78 512.71 L547.77 512.71 L548.77 512.71 L549.77 512.7 L550.77 512.69 L551.77 512.66 L552.77 512.63 L553.77 512.59 L554.77 512.53 L555.76 512.45 L556.76 512.35 L557.76 512.2 L558.76 512 L559.76 511.72 L560.76 511.33 L561.76 510.81 L562.75 510.11 L563.75 509.19 L564.75 508 L565.75 506.51 L566.75 504.68 L567.75 502.49 L568.75 499.95 L569.75 497.09 L570.74 493.99 L571.74 490.74 L572.74 487.49 L573.74 484.4 L574.74 481.68 L575.74 479.52 L576.74 478.12 L577.73 477.62 L578.73 478.08 L579.73 479.45 L580.73 481.59 L581.73 484.33 L582.73 487.45 L583.73 490.75 L584.72 494.07 L585.72 497.26 L586.72 500.2 L587.72 502.84 L588.72 505.12 L589.72 507.04 L590.72 508.62 L591.72 509.89 L592.71 510.88 L593.71 511.64 L594.71 512.21 L595.71 512.64 L596.71 512.96 L597.71 513.19 L598.71 513.37 L599.7 513.5 L600.7 513.6 L601.7 513.68 L602.7 513.74 L603.7 513.8 L604.7 513.84 L605.7 513.88 L606.69 513.92 L607.69 513.95 L608.69 513.97 L609.69 514 L610.69 514.02 L611.69 514.04 L612.69 514.06 L613.69 514.08 L614.68 514.1 L615.68 514.11 L616.68 514.12 L617.68 514.14 L618.68 514.15 L619.68 514.16 L620.68 514.17 L621.67 514.18 L622.67 514.19 L623.67 514.2 L624.67 514.21 L625.67 514.22 L626.67 514.22 L627.67 514.23 L628.67 514.24 L629.66 514.24 L630.66 514.25 L631.66 514.25 L632.66 514.26 L633.66 514.26 L634.66 514.27" fill="none" stroke="#e3262e" stroke-width="1.15" stroke-linejoin="round" />
<path d="M545.78 512.96 L546.78 512.98 L547.77 513 L548.77 513.02 L549.77 513.04 L550.77 513.05 L551.77 513.06 L552.77 513.07 L553.77 513.08 L554.77 513.08 L555.76 513.08 L556.76 513.07 L557.76 513.07 L558.76 513.06 L559.76 513.05 L560.76 513.04 L561.76 513.03 L562.75 513.01 L563.75 513 L564.75 512.98 L565.75 512.96 L566.75 512.93 L567.75 512.91 L568.75 512.87 L569.75 512.83 L570.74 512.77 L571.74 512.68 L572.74 512.56 L573.74 512.38 L574.74 512.13 L575.74 511.77 L576.74 511.26 L577.73 510.58 L578.73 509.67 L579.73 508.51 L580.73 507.06 L581.73 505.33 L582.73 503.31 L583.73 501.06 L584.72 498.65 L585.72 496.19 L586.72 493.82 L587.72 491.71 L588.72 490.03 L589.72 488.96 L590.72 488.62 L591.72 489.06 L592.71 490.22 L593.71 491.97 L594.71 494.16 L595.71 496.59 L596.71 499.11 L597.71 501.57 L598.71 503.87 L599.7 505.93 L600.7 507.71 L601.7 509.2 L602.7 510.4 L603.7 511.35 L604.7 512.07 L605.7 512.61 L606.69 513 L607.69 513.29 L608.69 513.49 L609.69 513.64 L610.69 513.75 L611.69 513.83 L612.69 513.89 L613.69 513.94 L614.68 513.98 L615.68 514.01 L616.68 514.04 L617.68 514.06 L618.68 514.08 L619.68 514.1 L620.68 514.12 L621.67 514.14 L622.67 514.15 L623.67 514.17 L624.67 514.18 L625.67 514.19 L626.67 514.2 L627.67 514.21 L628.67 514.22 L629.66 514.23 L630.66 514.24 L631.66 514.25 L632.66 514.25 L633.66 514.26 L634.66 514.27 L635.66 514.27" fill="none" stroke="#2424cc" stroke-width="1.15" stroke-linejoin="round" />
<path d="M382 512.1 L383 512.1 L384 512.1 L385 512.1 L385.99 512.1 L386.99 512.1 L387.99 512.1 L388.99 512.1 L389.99 512.1 L390.99 512.1 L391.99 512.1 L392.99 512.1 L393.98 512.1 L394.98 512.1 L395.98 512.1 L396.98 512.1 L397.98 512.1 L398.98 512.1 L399.98 512.1 L400.97 512.1 L401.97 512.1 L402.97 512.1 L403.97 512.1 L404.97 512.1 L405.97 512.1 L406.97 512.1 L407.96 512.1 L408.96 512.1 L409.96 512.1 L410.96 512.1 L411.96 512.1 L412.96 512.1 L413.96 512.1 L414.96 512.1 L415.95 512.1 L416.95 512.1 L417.95 512.1 L418.95 512.1 L419.95 512.1 L420.95 512.1 L421.95 512.1 L422.94 512.1 L423.94 512.1 L424.94 512.1 L425.94 512.1 L426.94 512.1 L427.94 512.1 L428.94 512.1 L429.93 512.1 L430.93 512.11 L431.93 512.11 L432.93 512.11 L433.93 512.11 L434.93 512.11 L435.93 512.11 L436.93 512.11 L437.92 512.11 L438.92 512.11 L439.92 512.11 L440.92 512.11 L441.92 512.12 L442.92 512.12 L443.92 512.12 L444.91 512.12 L445.91 512.12 L446.91 512.12 L447.91 512.13 L448.91 512.13 L449.91 512.13 L450.91 512.13 L451.91 512.14 L452.9 512.14 L453.9 512.14 L454.9 512.15 L455.9 512.15 L456.9 512.15 L457.9 512.16 L458.9 512.16 L459.89 512.17 L460.89 512.17 L461.89 512.18 L462.89 512.18 L463.89 512.19 L464.89 512.19 L465.89 512.2 L466.88 512.2 L467.88 512.21 L468.88 512.21 L469.88 512.22 L470.88 512.22 L471.88 512.23 L472.88 512.23 L473.88 512.24 L474.87 512.24 L475.87 512.25 L476.87 512.26 L477.87 512.26 L478.87 512.27 L479.87 512.27 L480.87 512.28 L481.86 512.28 L482.86 512.28 L483.86 512.29 L484.86 512.29 L485.86 512.3 L486.86 512.3 L487.86 512.31 L488.85 512.31 L489.85 512.31 L490.85 512.32 L491.85 512.32 L492.85 512.32 L493.85 512.33 L494.85 512.33 L495.85 512.33 L496.84 512.33 L497.84 512.34 L498.84 512.34 L499.84 512.34 L500.84 512.35 L501.84 512.35 L502.84 512.35 L503.83 512.36 L504.83 512.36 L505.83 512.36 L506.83 512.37 L507.83 512.37 L508.83 512.37 L509.83 512.38 L510.83 512.38 L511.82 512.39 L512.82 512.39 L513.82 512.4 L514.82 512.4 L515.82 512.41 L516.82 512.41 L517.82 512.42 L518.81 512.43 L519.81 512.44 L520.81 512.45 L521.81 512.45 L522.81 512.47 L523.81 512.48 L524.81 512.49 L525.8 512.51 L526.8 512.53 L527.8 512.55 L528.8 512.57 L529.8 512.6 L530.8 512.63 L531.8 512.66 L532.8 512.69 L533.79 512.72 L534.79 512.76 L535.79 512.79 L536.79 512.82 L537.79 512.86 L538.79 512.89 L539.79 512.92 L540.78 512.94 L541.78 512.97 L542.78 513 L543.78 513.03 L544.78 513.06 L545.78 513.08 L546.78 513.11 L547.77 513.14 L548.77 513.16 L549.77 513.18 L550.77 513.2 L551.77 513.22 L552.77 513.24 L553.77 513.25 L554.77 513.26 L555.76 513.27 L556.76 513.28 L557.76 513.29 L558.76 513.3 L559.76 513.3 L560.76 513.31 L561.76 513.31 L562.75 513.32 L563.75 513.32 L564.75 513.33 L565.75 513.33 L566.75 513.34 L567.75 513.35 L568.75 513.37 L569.75 513.38 L570.74 513.4 L571.74 513.42 L572.74 513.45 L573.74 513.48 L574.74 513.51 L575.74 513.54 L576.74 513.58 L577.73 513.62 L578.73 513.66 L579.73 513.71 L580.73 513.75 L581.73 513.79 L582.73 513.83 L583.73 513.87 L584.72 513.91 L585.72 513.95 L586.72 513.98 L587.72 514.02 L588.72 514.05 L589.72 514.09 L590.72 514.12 L591.72 514.16 L592.71 514.19 L593.71 514.22 L594.71 514.24 L595.71 514.27 L596.71 514.29 L597.71 514.31 L598.71 514.32 L599.7 514.33 L600.7 514.34 L601.7 514.35 L602.7 514.36 L603.7 514.36 L604.7 514.37 L605.7 514.37 L606.69 514.37 L607.69 514.37 L608.69 514.37 L609.69 514.38 L610.69 514.38 L611.69 514.38 L612.69 514.38 L613.69 514.38 L614.68 514.38 L615.68 514.38 L616.68 514.38 L617.68 514.38 L618.68 514.38 L619.68 514.39 L620.68 514.39 L621.67 514.39 L622.67 514.39 L623.67 514.39 L624.67 514.39 L625.67 514.39 L626.67 514.39 L627.67 514.39 L628.67 514.39 L629.66 514.39 L630.66 514.39 L631.66 514.39 L632.66 514.39 L633.66 514.39 L634.66 514.39 L635.66 514.39 L636.65 514.39 L637.65 514.39 L638.65 514.39 L639.65 514.39 L640.65 514.39 L641.65 514.39 L642.65 514.39 L643.64 514.39 L644.64 514.39 L645.64 514.4 L646.64 514.4 L647.64 514.4 L648.64 514.4 L649.64 514.4 L650.64 514.4 L651.63 514.4 L652.63 514.4 L653.63 514.4 L654.63 514.4 L655.63 514.4 L656.63 514.4 L657.63 514.4 L658.62 514.4 L659.62 514.4 L660.62 514.4 L661.62 514.4 L662.62 514.4 L663.62 514.4 L664.62 514.4 L665.61 514.4 L666.61 514.4 L667.61 514.4 L668.61 514.4 L669.61 514.4 L670.61 514.4 L671.61 514.4 L672.61 514.4 L673.6 514.4 L674.6 514.4 L675.6 514.4 L676.6 514.4" fill="none" stroke="#2e8b2e" stroke-width="1.2" stroke-linejoin="round" />
<path d="M382 568.92 L383 569.14 L384 568.99 L385 569.03 L385.99 568.93 L386.99 568.85 L387.99 568.89 L388.99 568.72 L389.99 568.59 L390.99 568.3 L391.99 568.23 L392.99 568.35 L393.98 568.56 L394.98 568.67 L395.98 569.02 L396.98 568.85 L397.98 568.96 L398.98 568.7 L399.98 568.47 L400.97 568.39 L401.97 568.46 L402.97 568.9 L403.97 568.69 L404.97 568.79 L405.97 568.83 L406.97 568.89 L407.96 568.79 L408.96 568.8 L409.96 568.65 L410.96 568.67 L411.96 568.13 L412.96 568.44 L413.96 568.6 L414.96 568.88 L415.95 568.94 L416.95 568.43 L417.95 568.38 L418.95 568.2 L419.95 568.59 L420.95 568.64 L421.95 568.83 L422.94 568.67 L423.94 568.59 L424.94 568.47 L425.94 568.5 L426.94 568.55 L427.94 568.62 L428.94 568.42 L429.93 568.47 L430.93 568.41 L431.93 568.4 L432.93 568.32 L433.93 568.16 L434.93 567.96 L435.93 568.15 L436.93 568.03 L437.92 568.27 L438.92 567.44 L439.92 567.57 L440.92 567.27 L441.92 567.47 L442.92 567.13 L443.92 567.22 L444.91 566.95 L445.91 566.98 L446.91 566.46 L447.91 566.76 L448.91 566.48 L449.91 566.71 L450.91 566.48 L451.91 566.11 L452.9 565.66 L453.9 565.43 L454.9 565.31 L455.9 565.16 L456.9 564.7 L457.9 564.67 L458.9 564.88 L459.89 565.02 L460.89 564.78 L461.89 564.01 L462.89 563.64 L463.89 563.59 L464.89 563.59 L465.89 563.57 L466.88 563.17 L467.88 562.99 L468.88 562.8 L469.88 562.69 L470.88 562.58 L471.88 562.53 L472.88 562.52 L473.88 562.26 L474.87 562.32 L475.87 562.62 L476.87 563.03 L477.87 562.9 L478.87 562.55 L479.87 562.47 L480.87 562.61 L481.86 563.05 L482.86 563.31 L483.86 563.44 L484.86 563.27 L485.86 563.43 L486.86 563.48 L487.86 564.08 L488.85 564.28 L489.85 564.55 L490.85 564.68 L491.85 565.03 L492.85 565.18 L493.85 564.8 L494.85 564.79 L495.85 564.78 L496.84 565.14 L497.84 564.8 L498.84 564.8 L499.84 564.6 L500.84 564.56 L501.84 564.36 L502.84 564.43 L503.83 564.36 L504.83 564.55 L505.83 564.28 L506.83 564.12 L507.83 563.74 L508.83 563.29 L509.83 562.91 L510.83 562.51 L511.82 562.22 L512.82 561.72 L513.82 561.37 L514.82 560.94 L515.82 560.81 L516.82 560.1 L517.82 559.91 L518.81 559.16 L519.81 558.87 L520.81 558.04 L521.81 557.24 L522.81 556.5 L523.81 556.09 L524.81 556.07 L525.8 555.67 L526.8 555.38 L527.8 555.06 L528.8 554.8 L529.8 554.65 L530.8 554.41 L531.8 554.23 L532.8 554.03 L533.79 553.88 L534.79 553.71 L535.79 552.88 L536.79 551.94 L537.79 551 L538.79 549.58 L539.79 547.66 L540.78 545.34 L541.78 543.63 L542.78 542.36 L543.78 541.17 L544.78 540.47 L545.78 540.74 L546.78 542.36 L547.77 544.43 L548.77 547.01 L549.77 550.09 L550.77 553.13 L551.77 555.97 L552.77 558.39 L553.77 560.87 L554.77 562.79 L555.76 564.04 L556.76 564.99 L557.76 565.81 L558.76 566.21 L559.76 566.21 L560.76 565.91 L561.76 566.13 L562.75 565.91 L563.75 565.45 L564.75 564.93 L565.75 564.61 L566.75 564.18 L567.75 563.48 L568.75 562.8 L569.75 562.42 L570.74 561.84 L571.74 561.37 L572.74 560.73 L573.74 560.34 L574.74 559.98 L575.74 559.67 L576.74 559.1 L577.73 558.13 L578.73 557.33 L579.73 556.28 L580.73 555.1 L581.73 553.49 L582.73 551.29 L583.73 548.64 L584.72 545.51 L585.72 542.19 L586.72 539.24 L587.72 536.61 L588.72 535.09 L589.72 534.32 L590.72 534.77 L591.72 536.16 L592.71 538.54 L593.71 541.69 L594.71 545.22 L595.71 549.07 L596.71 552.82 L597.71 556.7 L598.71 559.92 L599.7 562.33 L600.7 564.32 L601.7 565.93 L602.7 567.3 L603.7 568.16 L604.7 568.66 L605.7 569.16 L606.69 569.29 L607.69 569.3 L608.69 569.27 L609.69 569.38 L610.69 569.83 L611.69 569.73 L612.69 569.63 L613.69 569.12 L614.68 569.07 L615.68 568.76 L616.68 569 L617.68 569.23 L618.68 569.35 L619.68 569.47 L620.68 569.38 L621.67 569.48 L622.67 569.33 L623.67 569.09 L624.67 569.18 L625.67 569.19 L626.67 569.16 L627.67 569.16 L628.67 569.03 L629.66 569.15 L630.66 569.04 L631.66 569.16 L632.66 569.22 L633.66 569.43 L634.66 569.63 L635.66 569.69 L636.65 569.49 L637.65 569.31 L638.65 569.08 L639.65 569.08 L640.65 568.93 L641.65 569.27 L642.65 569.41 L643.64 569.57 L644.64 569.14 L645.64 569.12 L646.64 569.12 L647.64 569.25 L648.64 569.51 L649.64 569.55 L650.64 570.08 L651.63 569.86 L652.63 569.52 L653.63 569.4 L654.63 569.33 L655.63 569.65 L656.63 569.58 L657.63 569.42 L658.62 569.5 L659.62 569.22 L660.62 569.57 L661.62 569.55 L662.62 569.71 L663.62 569.54 L664.62 569.52 L665.61 569.5 L666.61 569.19 L667.61 569.24 L668.61 569.33 L669.61 569.74 L670.61 569.61 L671.61 569.65 L672.61 569.72 L673.6 569.85 L674.6 569.48 L675.6 569.28 L676.6 569.29" fill="none" stroke="#111" stroke-width="1.4" stroke-linejoin="round" />
<path d="M382 568.6 L383 568.6 L384 568.6 L385 568.6 L385.99 568.6 L386.99 568.6 L387.99 568.6 L388.99 568.6 L389.99 568.6 L390.99 568.6 L391.99 568.6 L392.99 568.6 L393.98 568.6 L394.98 568.6 L395.98 568.6 L396.98 568.6 L397.98 568.6 L398.98 568.6 L399.98 568.6 L400.97 568.6 L401.97 568.6 L402.97 568.6 L403.97 568.6 L404.97 568.6 L405.97 568.6 L406.97 568.6 L407.96 568.6 L408.96 568.59 L409.96 568.59 L410.96 568.59 L411.96 568.59 L412.96 568.59 L413.96 568.58 L414.96 568.58 L415.95 568.58 L416.95 568.57 L417.95 568.57 L418.95 568.56 L419.95 568.55 L420.95 568.54 L421.95 568.53 L422.94 568.52 L423.94 568.51 L424.94 568.49 L425.94 568.47 L426.94 568.45 L427.94 568.42 L428.94 568.39 L429.93 568.36 L430.93 568.33 L431.93 568.29 L432.93 568.24 L433.93 568.19 L434.93 568.13 L435.93 568.07 L436.93 568 L437.92 567.92 L438.92 567.84 L439.92 567.75 L440.92 567.65 L441.92 567.54 L442.92 567.43 L443.92 567.3 L444.91 567.17 L445.91 567.03 L446.91 566.87 L447.91 566.72 L448.91 566.55 L449.91 566.37 L450.91 566.19 L451.91 566 L452.9 565.81 L453.9 565.61 L454.9 565.41 L455.9 565.21 L456.9 565 L457.9 564.79 L458.9 564.59 L459.89 564.39 L460.89 564.19 L461.89 564 L462.89 563.81 L463.89 563.64 L464.89 563.47 L465.89 563.32 L466.88 563.18 L467.88 563.06 L468.88 562.95 L469.88 562.86 L470.88 562.78 L471.88 562.72 L472.88 562.69 L473.88 562.67 L474.87 562.67 L475.87 562.69 L476.87 562.72 L477.87 562.78 L478.87 562.85 L479.87 562.94 L480.87 563.04 L481.86 563.16 L482.86 563.28 L483.86 563.42 L484.86 563.57 L485.86 563.72 L486.86 563.87 L487.86 564.02 L488.85 564.17 L489.85 564.32 L490.85 564.46 L491.85 564.58 L492.85 564.7 L493.85 564.8 L494.85 564.88 L495.85 564.95 L496.84 564.99 L497.84 565 L498.84 564.99 L499.84 564.96 L500.84 564.89 L501.84 564.8 L502.84 564.67 L503.83 564.52 L504.83 564.33 L505.83 564.12 L506.83 563.87 L507.83 563.6 L508.83 563.3 L509.83 562.97 L510.83 562.61 L511.82 562.24 L512.82 561.84 L513.82 561.42 L514.82 560.98 L515.82 560.52 L516.82 560.05 L517.82 559.58 L518.81 559.1 L519.81 558.62 L520.81 558.14 L521.81 557.68 L522.81 557.25 L523.81 556.85 L524.81 556.49 L525.8 556.18 L526.8 555.94 L527.8 555.76 L528.8 555.65 L529.8 555.59 L530.8 555.56 L531.8 555.53 L532.8 555.44 L533.79 555.25 L534.79 554.88 L535.79 554.28 L536.79 553.38 L537.79 552.16 L538.79 550.64 L539.79 548.89 L540.78 547.04 L541.78 545.24 L542.78 543.71 L543.78 542.65 L544.78 542.23 L545.78 542.55 L546.78 543.64 L547.77 545.43 L548.77 547.76 L549.77 550.46 L550.77 553.3 L551.77 556.09 L552.77 558.66 L553.77 560.9 L554.77 562.74 L555.76 564.17 L556.76 565.2 L557.76 565.88 L558.76 566.25 L559.76 566.38 L560.76 566.32 L561.76 566.11 L562.75 565.79 L563.75 565.38 L564.75 564.92 L565.75 564.41 L566.75 563.88 L567.75 563.33 L568.75 562.78 L569.75 562.25 L570.74 561.74 L571.74 561.26 L572.74 560.81 L573.74 560.39 L574.74 559.98 L575.74 559.54 L576.74 559.04 L577.73 558.42 L578.73 557.61 L579.73 556.51 L580.73 555.08 L581.73 553.26 L582.73 551.04 L583.73 548.47 L584.72 545.67 L585.72 542.81 L586.72 540.14 L587.72 537.89 L588.72 536.33 L589.72 535.66 L590.72 535.98 L591.72 537.32 L592.71 539.57 L593.71 542.56 L594.71 546.04 L595.71 549.73 L596.71 553.39 L597.71 556.79 L598.71 559.8 L599.7 562.33 L600.7 564.36 L601.7 565.92 L602.7 567.07 L603.7 567.88 L604.7 568.44 L605.7 568.81 L606.69 569.04 L607.69 569.19 L608.69 569.27 L609.69 569.33 L610.69 569.36 L611.69 569.37 L612.69 569.38 L613.69 569.39 L614.68 569.39 L615.68 569.4 L616.68 569.4 L617.68 569.4 L618.68 569.4 L619.68 569.4 L620.68 569.4 L621.67 569.4 L622.67 569.4 L623.67 569.4 L624.67 569.4 L625.67 569.4 L626.67 569.4 L627.67 569.4 L628.67 569.4 L629.66 569.4 L630.66 569.4 L631.66 569.4 L632.66 569.4 L633.66 569.4 L634.66 569.4 L635.66 569.4 L636.65 569.4 L637.65 569.4 L638.65 569.4 L639.65 569.4 L640.65 569.4 L641.65 569.4 L642.65 569.4 L643.64 569.4 L644.64 569.4 L645.64 569.4 L646.64 569.4 L647.64 569.4 L648.64 569.4 L649.64 569.4 L650.64 569.4 L651.63 569.4 L652.63 569.4 L653.63 569.4 L654.63 569.4 L655.63 569.4 L656.63 569.4 L657.63 569.4 L658.62 569.4 L659.62 569.4 L660.62 569.4 L661.62 569.4 L662.62 569.4 L663.62 569.4 L664.62 569.4 L665.61 569.4 L666.61 569.4 L667.61 569.4 L668.61 569.4 L669.61 569.4 L670.61 569.4 L671.61 569.4 L672.61 569.4 L673.6 569.4 L674.6 569.4 L675.6 569.4 L676.6 569.4" fill="none" stroke="#111" stroke-width="1.4" stroke-linejoin="round" />
<path d="M433.93 568.47 L434.93 568.45 L435.93 568.44 L436.93 568.42 L437.92 568.4 L438.92 568.37 L439.92 568.35 L440.92 568.33 L441.92 568.3 L442.92 568.27 L443.92 568.24 L444.91 568.21 L445.91 568.17 L446.91 568.14 L447.91 568.1 L448.91 568.06 L449.91 568.02 L450.91 567.98 L451.91 567.94 L452.9 567.89 L453.9 567.85 L454.9 567.8 L455.9 567.76 L456.9 567.71 L457.9 567.66 L458.9 567.62 L459.89 567.57 L460.89 567.53 L461.89 567.49 L462.89 567.45 L463.89 567.41 L464.89 567.37 L465.89 567.34 L466.88 567.31 L467.88 567.28 L468.88 567.25 L469.88 567.23 L470.88 567.21 L471.88 567.19 L472.88 567.18 L473.88 567.17 L474.87 567.17 L475.87 567.17 L476.87 567.18 L477.87 567.18 L478.87 567.2 L479.87 567.21 L480.87 567.23 L481.86 567.26 L482.86 567.29 L483.86 567.32 L484.86 567.35 L485.86 567.39 L486.86 567.43 L487.86 567.47 L488.85 567.51 L489.85 567.56 L490.85 567.6 L491.85 567.65 L492.85 567.7 L493.85 567.75 L494.85 567.8 L495.85 567.85 L496.84 567.9 L497.84 567.95 L498.84 567.99 L499.84 568.04 L500.84 568.09 L501.84 568.13 L502.84 568.18 L503.83 568.22 L504.83 568.26 L505.83 568.3 L506.83 568.34 L507.83 568.37 L508.83 568.41 L509.83 568.44 L510.83 568.47 L511.82 568.5 L512.82 568.53 L513.82 568.55 L514.82 568.58 L515.82 568.6 L516.82 568.62 L517.82 568.65 L518.81 568.67" fill="none" stroke="#2e8b2e" stroke-width="1.15" stroke-linejoin="round" />
<path d="M428.94 568.47 L429.93 568.45 L430.93 568.42 L431.93 568.39 L432.93 568.36 L433.93 568.32 L434.93 568.28 L435.93 568.24 L436.93 568.19 L437.92 568.13 L438.92 568.07 L439.92 568 L440.92 567.93 L441.92 567.85 L442.92 567.76 L443.92 567.67 L444.91 567.57 L445.91 567.46 L446.91 567.35 L447.91 567.22 L448.91 567.1 L449.91 566.96 L450.91 566.83 L451.91 566.68 L452.9 566.53 L453.9 566.38 L454.9 566.23 L455.9 566.07 L456.9 565.91 L457.9 565.75 L458.9 565.59 L459.89 565.44 L460.89 565.29 L461.89 565.14 L462.89 565 L463.89 564.87 L464.89 564.74 L465.89 564.63 L466.88 564.52 L467.88 564.43 L468.88 564.35 L469.88 564.28 L470.88 564.23 L471.88 564.19 L472.88 564.17 L473.88 564.16 L474.87 564.17 L475.87 564.2 L476.87 564.24 L477.87 564.29 L478.87 564.36 L479.87 564.44 L480.87 564.54 L481.86 564.65 L482.86 564.76 L483.86 564.89 L484.86 565.03 L485.86 565.17 L486.86 565.32 L487.86 565.48 L488.85 565.64 L489.85 565.8 L490.85 565.96 L491.85 566.12 L492.85 566.29 L493.85 566.44 L494.85 566.6 L495.85 566.75 L496.84 566.9 L497.84 567.05 L498.84 567.18 L499.84 567.32 L500.84 567.44 L501.84 567.56 L502.84 567.67 L503.83 567.78 L504.83 567.87 L505.83 567.97 L506.83 568.05 L507.83 568.13 L508.83 568.2 L509.83 568.27 L510.83 568.33 L511.82 568.38 L512.82 568.43 L513.82 568.48 L514.82 568.52 L515.82 568.56 L516.82 568.59 L517.82 568.62 L518.81 568.65" fill="none" stroke="#3cd8e0" stroke-width="1.3" stroke-linejoin="round" />
<path d="M485.86 568.56 L486.86 568.52 L487.86 568.48 L488.85 568.44 L489.85 568.38 L490.85 568.32 L491.85 568.24 L492.85 568.15 L493.85 568.05 L494.85 567.93 L495.85 567.8 L496.84 567.65 L497.84 567.48 L498.84 567.3 L499.84 567.09 L500.84 566.87 L501.84 566.64 L502.84 566.38 L503.83 566.12 L504.83 565.83 L505.83 565.54 L506.83 565.24 L507.83 564.94 L508.83 564.63 L509.83 564.33 L510.83 564.03 L511.82 563.74 L512.82 563.47 L513.82 563.22 L514.82 562.99 L515.82 562.79 L516.82 562.62 L517.82 562.48 L518.81 562.38 L519.81 562.32 L520.81 562.3 L521.81 562.32 L522.81 562.37 L523.81 562.47 L524.81 562.6 L525.8 562.77 L526.8 562.97 L527.8 563.2 L528.8 563.45 L529.8 563.73 L530.8 564.02 L531.8 564.32 L532.8 564.63 L533.79 564.95 L534.79 565.26 L535.79 565.57 L536.79 565.88 L537.79 566.17 L538.79 566.46 L539.79 566.73 L540.78 566.98 L541.78 567.22 L542.78 567.44 L543.78 567.65 L544.78 567.84 L545.78 568.01 L546.78 568.16 L547.77 568.3 L548.77 568.42 L549.77 568.53 L550.77 568.62 L551.77 568.7 L552.77 568.77 L553.77 568.83 L554.77 568.88 L555.76 568.92 L556.76 568.95" fill="none" stroke="#3cd8e0" stroke-width="1.3" stroke-linejoin="round" />
<path d="M504.83 568.58 L505.83 568.54 L506.83 568.48 L507.83 568.4 L508.83 568.31 L509.83 568.2 L510.83 568.06 L511.82 567.9 L512.82 567.72 L513.82 567.5 L514.82 567.26 L515.82 566.98 L516.82 566.68 L517.82 566.35 L518.81 565.99 L519.81 565.61 L520.81 565.23 L521.81 564.83 L522.81 564.43 L523.81 564.05 L524.81 563.68 L525.8 563.34 L526.8 563.04 L527.8 562.79 L528.8 562.59 L529.8 562.45 L530.8 562.37 L531.8 562.36 L532.8 562.42 L533.79 562.55 L534.79 562.74 L535.79 562.98 L536.79 563.28 L537.79 563.62 L538.79 563.99 L539.79 564.38 L540.78 564.79 L541.78 565.2 L542.78 565.61 L543.78 566.01 L544.78 566.4 L545.78 566.76 L546.78 567.09 L547.77 567.39 L548.77 567.67 L549.77 567.91 L550.77 568.12 L551.77 568.3 L552.77 568.46 L553.77 568.58 L554.77 568.69 L555.76 568.78 L556.76 568.85 L557.76 568.9 L558.76 568.95" fill="none" stroke="#e3262e" stroke-width="1.15" stroke-linejoin="round" />
<path d="M528.8 568.69 L529.8 568.58 L530.8 568.39 L531.8 568.1 L532.8 567.64 L533.79 566.98 L534.79 566.05 L535.79 564.81 L536.79 563.22 L537.79 561.28 L538.79 559.04 L539.79 556.57 L540.78 554.02 L541.78 551.56 L542.78 549.41 L543.78 547.75 L544.78 546.74 L545.78 546.5 L546.78 547.05 L547.77 548.33 L548.77 550.21 L549.77 552.52 L550.77 555.05 L551.77 557.6 L552.77 560.02 L553.77 562.18 L554.77 564 L555.76 565.48 L556.76 566.61 L557.76 567.45 L558.76 568.04 L559.76 568.44 L560.76 568.7 L561.76 568.87 L562.75 568.97" fill="none" stroke="#2424cc" stroke-width="1.15" stroke-linejoin="round" />
<path d="M548.77 568.89 L549.77 568.85 L550.77 568.8 L551.77 568.74 L552.77 568.65 L553.77 568.54 L554.77 568.4 L555.76 568.23 L556.76 568.03 L557.76 567.79 L558.76 567.51 L559.76 567.19 L560.76 566.83 L561.76 566.42 L562.75 565.98 L563.75 565.5 L564.75 564.99 L565.75 564.46 L566.75 563.91 L567.75 563.35 L568.75 562.8 L569.75 562.27 L570.74 561.78 L571.74 561.33 L572.74 560.93 L573.74 560.61 L574.74 560.36 L575.74 560.2 L576.74 560.14 L577.73 560.16 L578.73 560.29 L579.73 560.5 L580.73 560.79 L581.73 561.16 L582.73 561.59 L583.73 562.08 L584.72 562.61 L585.72 563.17 L586.72 563.73 L587.72 564.31 L588.72 564.87 L589.72 565.41 L590.72 565.93 L591.72 566.41 L592.71 566.85 L593.71 567.25 L594.71 567.61 L595.71 567.92 L596.71 568.19 L597.71 568.43 L598.71 568.62 L599.7 568.78 L600.7 568.92 L601.7 569.03 L602.7 569.11 L603.7 569.18 L604.7 569.24 L605.7 569.28" fill="none" stroke="#e3262e" stroke-width="1.15" stroke-linejoin="round" />
<path d="M573.74 568.9 L574.74 568.74 L575.74 568.47 L576.74 568.04 L577.73 567.4 L578.73 566.47 L579.73 565.17 L580.73 563.45 L581.73 561.26 L582.73 558.62 L583.73 555.57 L584.72 552.25 L585.72 548.85 L586.72 545.62 L587.72 542.82 L588.72 540.72 L589.72 539.51 L590.72 539.34 L591.72 540.21 L592.71 542.04 L593.71 544.64 L594.71 547.78 L595.71 551.17 L596.71 554.56 L597.71 557.75 L598.71 560.56 L599.7 562.93 L600.7 564.83 L601.7 566.28 L602.7 567.35 L603.7 568.1 L604.7 568.6 L605.7 568.93 L606.69 569.13 L607.69 569.25" fill="none" stroke="#2424cc" stroke-width="1.15" stroke-linejoin="round" />
<path d="M382 568.6 L383 568.6 L384 568.6 L385 568.6 L385.99 568.6 L386.99 568.6 L387.99 568.6 L388.99 568.6 L389.99 568.6 L390.99 568.6 L391.99 568.6 L392.99 568.6 L393.98 568.6 L394.98 568.6 L395.98 568.6 L396.98 568.6 L397.98 568.6 L398.98 568.6 L399.98 568.6 L400.97 568.6 L401.97 568.6 L402.97 568.6 L403.97 568.6 L404.97 568.6 L405.97 568.6 L406.97 568.6 L407.96 568.6 L408.96 568.6 L409.96 568.6 L410.96 568.6 L411.96 568.6 L412.96 568.6 L413.96 568.6 L414.96 568.6 L415.95 568.6 L416.95 568.6 L417.95 568.6 L418.95 568.6 L419.95 568.6 L420.95 568.6 L421.95 568.6 L422.94 568.6 L423.94 568.6 L424.94 568.6 L425.94 568.6 L426.94 568.6 L427.94 568.6 L428.94 568.6 L429.93 568.6 L430.93 568.6 L431.93 568.6 L432.93 568.6 L433.93 568.6 L434.93 568.6 L435.93 568.6 L436.93 568.6 L437.92 568.6 L438.92 568.6 L439.92 568.6 L440.92 568.6 L441.92 568.6 L442.92 568.6 L443.92 568.61 L444.91 568.61 L445.91 568.61 L446.91 568.61 L447.91 568.61 L448.91 568.61 L449.91 568.61 L450.91 568.61 L451.91 568.61 L452.9 568.61 L453.9 568.62 L454.9 568.62 L455.9 568.62 L456.9 568.62 L457.9 568.62 L458.9 568.62 L459.89 568.63 L460.89 568.63 L461.89 568.63 L462.89 568.63 L463.89 568.64 L464.89 568.64 L465.89 568.64 L466.88 568.64 L467.88 568.65 L468.88 568.65 L469.88 568.65 L470.88 568.66 L471.88 568.66 L472.88 568.66 L473.88 568.66 L474.87 568.67 L475.87 568.67 L476.87 568.67 L477.87 568.68 L478.87 568.68 L479.87 568.68 L480.87 568.69 L481.86 568.69 L482.86 568.69 L483.86 568.69 L484.86 568.7 L485.86 568.7 L486.86 568.7 L487.86 568.7 L488.85 568.71 L489.85 568.71 L490.85 568.71 L491.85 568.71 L492.85 568.72 L493.85 568.72 L494.85 568.72 L495.85 568.72 L496.84 568.72 L497.84 568.73 L498.84 568.73 L499.84 568.73 L500.84 568.73 L501.84 568.73 L502.84 568.74 L503.83 568.74 L504.83 568.74 L505.83 568.74 L506.83 568.74 L507.83 568.75 L508.83 568.75 L509.83 568.75 L510.83 568.76 L511.82 568.76 L512.82 568.76 L513.82 568.77 L514.82 568.77 L515.82 568.77 L516.82 568.78 L517.82 568.78 L518.81 568.79 L519.81 568.79 L520.81 568.8 L521.81 568.8 L522.81 568.81 L523.81 568.81 L524.81 568.82 L525.8 568.83 L526.8 568.83 L527.8 568.84 L528.8 568.84 L529.8 568.85 L530.8 568.86 L531.8 568.86 L532.8 568.87 L533.79 568.87 L534.79 568.88 L535.79 568.89 L536.79 568.89 L537.79 568.9 L538.79 568.91 L539.79 568.92 L540.78 568.93 L541.78 568.94 L542.78 568.95 L543.78 568.96 L544.78 568.98 L545.78 568.99 L546.78 569 L547.77 569.02 L548.77 569.03 L549.77 569.04 L550.77 569.05 L551.77 569.06 L552.77 569.06 L553.77 569.07 L554.77 569.07 L555.76 569.08 L556.76 569.08 L557.76 569.08 L558.76 569.08 L559.76 569.08 L560.76 569.08 L561.76 569.09 L562.75 569.09 L563.75 569.09 L564.75 569.09 L565.75 569.09 L566.75 569.1 L567.75 569.1 L568.75 569.1 L569.75 569.1 L570.74 569.11 L571.74 569.11 L572.74 569.12 L573.74 569.12 L574.74 569.12 L575.74 569.13 L576.74 569.13 L577.73 569.14 L578.73 569.14 L579.73 569.15 L580.73 569.16 L581.73 569.16 L582.73 569.17 L583.73 569.18 L584.72 569.19 L585.72 569.21 L586.72 569.22 L587.72 569.23 L588.72 569.25 L589.72 569.27 L590.72 569.28 L591.72 569.3 L592.71 569.32 L593.71 569.33 L594.71 569.35 L595.71 569.36 L596.71 569.37 L597.71 569.38 L598.71 569.38 L599.7 569.39 L600.7 569.39 L601.7 569.39 L602.7 569.4 L603.7 569.4 L604.7 569.4 L605.7 569.4 L606.69 569.4 L607.69 569.4 L608.69 569.4 L609.69 569.4 L610.69 569.4 L611.69 569.4 L612.69 569.4 L613.69 569.4 L614.68 569.4 L615.68 569.4 L616.68 569.4 L617.68 569.4 L618.68 569.4 L619.68 569.4 L620.68 569.4 L621.67 569.4 L622.67 569.4 L623.67 569.4 L624.67 569.4 L625.67 569.4 L626.67 569.4 L627.67 569.4 L628.67 569.4 L629.66 569.4 L630.66 569.4 L631.66 569.4 L632.66 569.4 L633.66 569.4 L634.66 569.4 L635.66 569.4 L636.65 569.4 L637.65 569.4 L638.65 569.4 L639.65 569.4 L640.65 569.4 L641.65 569.4 L642.65 569.4 L643.64 569.4 L644.64 569.4 L645.64 569.4 L646.64 569.4 L647.64 569.4 L648.64 569.4 L649.64 569.4 L650.64 569.4 L651.63 569.4 L652.63 569.4 L653.63 569.4 L654.63 569.4 L655.63 569.4 L656.63 569.4 L657.63 569.4 L658.62 569.4 L659.62 569.4 L660.62 569.4 L661.62 569.4 L662.62 569.4 L663.62 569.4 L664.62 569.4 L665.61 569.4 L666.61 569.4 L667.61 569.4 L668.61 569.4 L669.61 569.4 L670.61 569.4 L671.61 569.4 L672.61 569.4 L673.6 569.4 L674.6 569.4 L675.6 569.4 L676.6 569.4" fill="none" stroke="#2e8b2e" stroke-width="1.2" stroke-linejoin="round" />
<line x1="380.4" y1="321.2" x2="678.2" y2="321.2" stroke="#5a5a5a" stroke-width="1.3" />
<line x1="381" y1="320.6" x2="381" y2="586.1" stroke="#3a3a3a" stroke-width="1.3" />
<line x1="677.6" y1="320.6" x2="677.6" y2="586.1" stroke="#222" stroke-width="1.3" />
<line x1="380.4" y1="585.5" x2="678.2" y2="585.5" stroke="#111" stroke-width="1.35" />
<line x1="381" y1="585.5" x2="381" y2="590.9" stroke="#2a2a2a" stroke-width="1.15" />
<text transform="translate(381 603.3) scale(0.93 1)" font-size="11.8" text-anchor="middle">42</text>
<line x1="402.18" y1="585.5" x2="402.18" y2="588.3" stroke="#2a2a2a" stroke-width="1.15" />
<line x1="423.37" y1="585.5" x2="423.37" y2="590.9" stroke="#2a2a2a" stroke-width="1.15" />
<text transform="translate(423.37 603.3) scale(0.93 1)" font-size="11.8" text-anchor="middle">40</text>
<line x1="444.55" y1="585.5" x2="444.55" y2="588.3" stroke="#2a2a2a" stroke-width="1.15" />
<line x1="465.74" y1="585.5" x2="465.74" y2="590.9" stroke="#2a2a2a" stroke-width="1.15" />
<text transform="translate(465.74 603.3) scale(0.93 1)" font-size="11.8" text-anchor="middle">38</text>
<line x1="486.93" y1="585.5" x2="486.93" y2="588.3" stroke="#2a2a2a" stroke-width="1.15" />
<line x1="508.11" y1="585.5" x2="508.11" y2="590.9" stroke="#2a2a2a" stroke-width="1.15" />
<text transform="translate(508.11 603.3) scale(0.93 1)" font-size="11.8" text-anchor="middle">36</text>
<line x1="529.3" y1="585.5" x2="529.3" y2="588.3" stroke="#2a2a2a" stroke-width="1.15" />
<line x1="550.48" y1="585.5" x2="550.48" y2="590.9" stroke="#2a2a2a" stroke-width="1.15" />
<text transform="translate(550.48 603.3) scale(0.93 1)" font-size="11.8" text-anchor="middle">34</text>
<line x1="571.67" y1="585.5" x2="571.67" y2="588.3" stroke="#2a2a2a" stroke-width="1.15" />
<line x1="592.86" y1="585.5" x2="592.86" y2="590.9" stroke="#2a2a2a" stroke-width="1.15" />
<text transform="translate(592.86 603.3) scale(0.93 1)" font-size="11.8" text-anchor="middle">32</text>
<line x1="614.04" y1="585.5" x2="614.04" y2="588.3" stroke="#2a2a2a" stroke-width="1.15" />
<line x1="635.23" y1="585.5" x2="635.23" y2="590.9" stroke="#2a2a2a" stroke-width="1.15" />
<text transform="translate(635.23 603.3) scale(0.93 1)" font-size="11.8" text-anchor="middle">30</text>
<line x1="656.41" y1="585.5" x2="656.41" y2="588.3" stroke="#2a2a2a" stroke-width="1.15" />
<line x1="677.6" y1="585.5" x2="677.6" y2="590.9" stroke="#2a2a2a" stroke-width="1.15" />
<text transform="translate(677.6 603.3) scale(0.93 1)" font-size="11.8" text-anchor="middle">28</text>
<text x="531.7" y="620" font-size="13.3" text-anchor="middle" font-weight="normal" >Binding Energy (eV)</text>
<text x="0" y="0" font-size="13.3" text-anchor="middle" font-weight="normal" transform="translate(371.6 456.7) rotate(-90)">Intensity (a.u.)</text>
<text x="389.1" y="342.3" font-size="17.5" text-anchor="start" font-weight="bold" >(c)</text>
<text x="671.2" y="390.6" font-size="11.5" text-anchor="end" font-weight="normal" >Bulk</text>
<text x="671.4" y="445.5" font-size="11.5" text-anchor="end" font-weight="normal" >300 <tspan font-size="7" dy="-5.2">0</tspan><tspan dy="5.2">C</tspan></text>
<text x="672.8" y="507.1" font-size="11.5" text-anchor="end" font-weight="normal" textLength="62.4" lengthAdjust="spacing">100mJ, 10s</text>
<text x="672.8" y="563.9" font-size="11.5" text-anchor="end" font-weight="normal" textLength="55.9" lengthAdjust="spacing">50mJ, 10s</text>
<text x="449.2" y="380" font-size="13.8" text-anchor="start" font-weight="normal" >W 5p<tspan dx="0.8" font-size="8.4" dy="5.2">3/2</tspan></text>
<text x="516" y="348.7" font-size="13.8" text-anchor="start" font-weight="normal" letter-spacing="0.5">W<tspan font-size="7.8" dy="-7.2">6+</tspan><tspan dy="7.2"></tspan></text>
<text x="570.3" y="339.4" font-size="13.8" text-anchor="start" font-weight="normal" letter-spacing="0.3">W<tspan font-size="7.8" dy="-7.2">4+</tspan><tspan dy="7.2"> (2H)</tspan></text>
<text x="587.4" y="363.8" font-size="13.8" text-anchor="start" font-weight="normal" letter-spacing="0.25">W<tspan font-size="7.8" dy="-7.2">4+</tspan><tspan dy="7.2"> (1T)</tspan></text>
</svg>
</body></html>
